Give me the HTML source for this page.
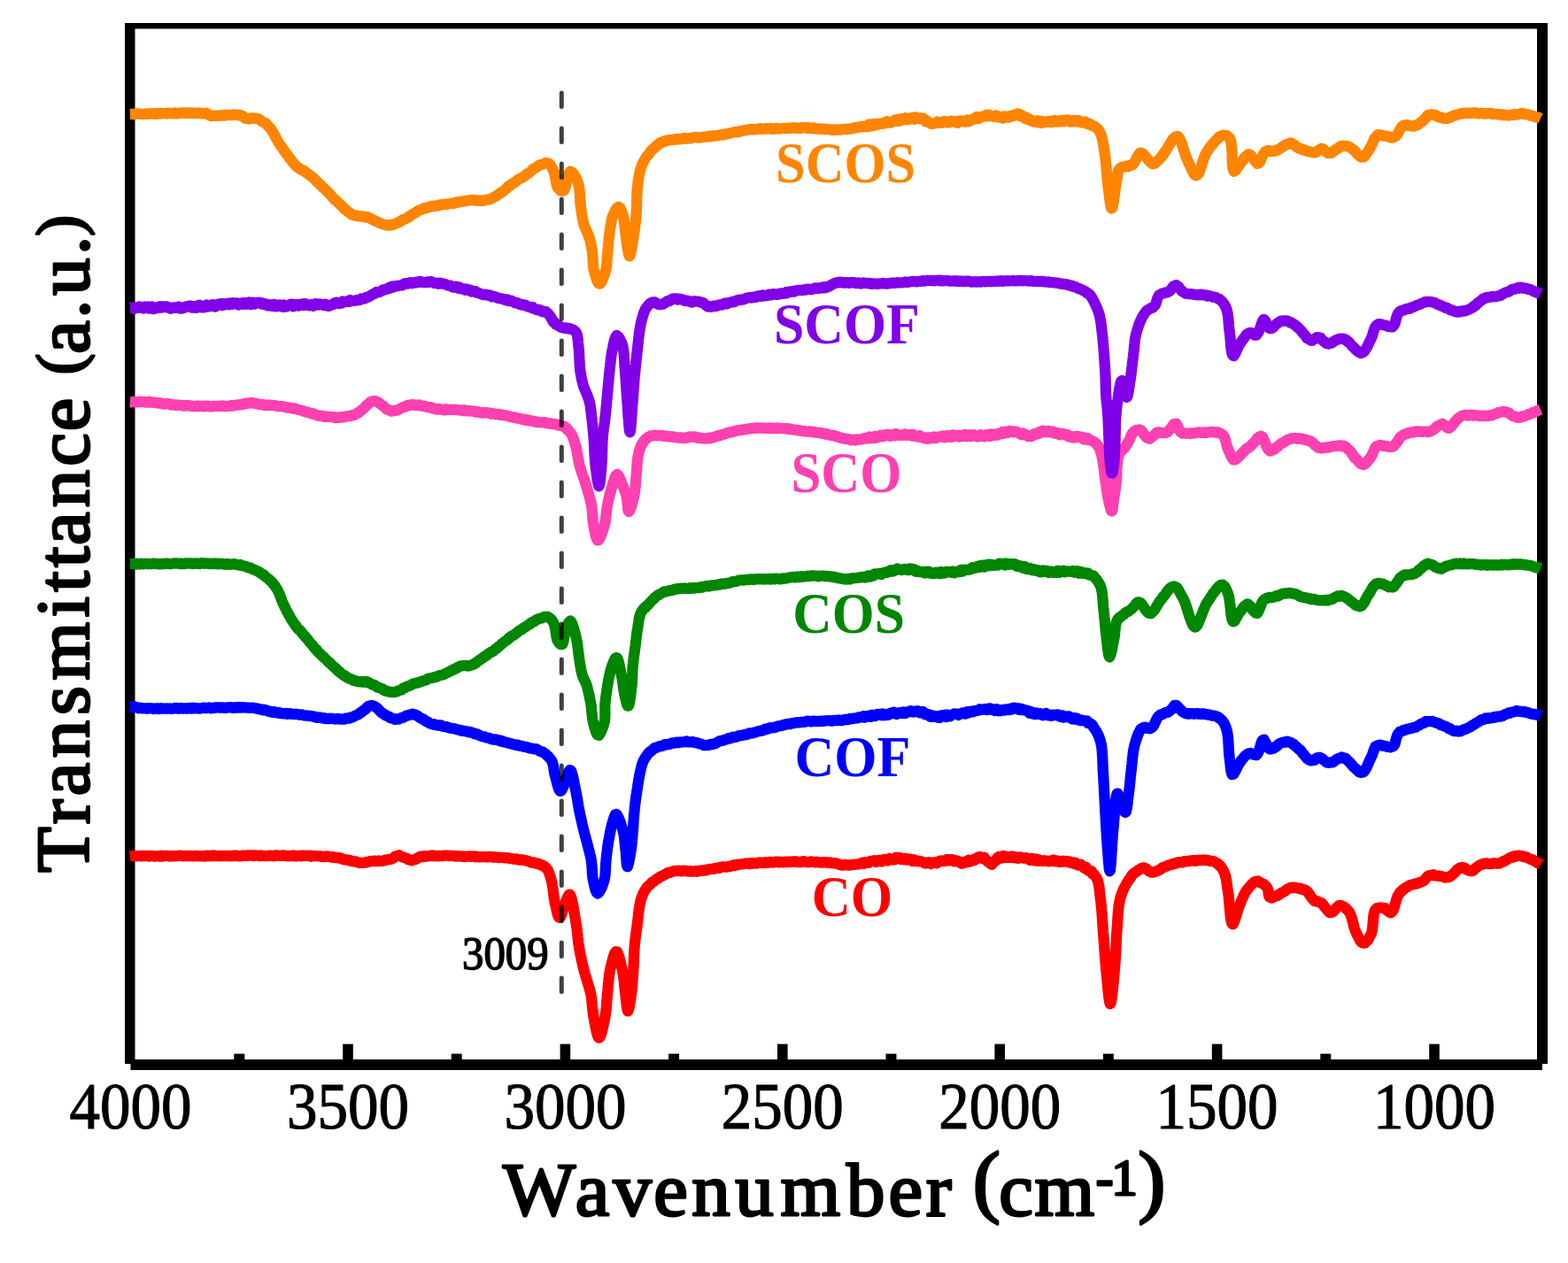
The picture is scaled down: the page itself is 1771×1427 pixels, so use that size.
<!DOCTYPE html>
<html><head><meta charset="utf-8"><title>FTIR spectra</title>
<style>html,body{margin:0;padding:0;background:#fff;}body{width:1771px;height:1427px;overflow:hidden;}svg{display:block;}</style>
</head><body>
<svg width="1771" height="1427" viewBox="0 0 1771 1427">
<rect x="141" y="26" width="1607" height="6.5" fill="#000"/>
<rect x="141" y="26" width="11.5" height="1176" fill="#000"/>
<rect x="1736" y="26" width="12" height="1176" fill="#000"/>
<rect x="147.5" y="1197" width="1594.5" height="12" fill="#000"/>
<rect x="387.2" y="1179.6" width="11.6" height="20" fill="#000"/>
<rect x="632.6" y="1179.6" width="11.6" height="20" fill="#000"/>
<rect x="878.0" y="1179.6" width="11.6" height="20" fill="#000"/>
<rect x="1123.4" y="1179.6" width="11.6" height="20" fill="#000"/>
<rect x="1368.8" y="1179.6" width="11.6" height="20" fill="#000"/>
<rect x="1614.2" y="1179.6" width="11.6" height="20" fill="#000"/>
<rect x="264.3" y="1190.6" width="12" height="10" fill="#000"/>
<rect x="509.7" y="1190.6" width="12" height="10" fill="#000"/>
<rect x="755.1" y="1190.6" width="12" height="10" fill="#000"/>
<rect x="1000.5" y="1190.6" width="12" height="10" fill="#000"/>
<rect x="1245.9" y="1190.6" width="12" height="10" fill="#000"/>
<rect x="1491.3" y="1190.6" width="12" height="10" fill="#000"/>
<polyline points="146.8,967.3 148.3,967.1 149.8,967.0 151.3,967.4 152.9,966.9 154.4,967.3 156.0,967.2 157.5,966.9 159.1,967.3 160.7,966.8 162.3,967.2 163.9,966.9 165.5,966.9 167.1,967.2 168.7,967.6 170.3,966.9 172.0,967.0 173.6,967.4 175.2,967.7 176.9,967.3 178.5,967.1 180.2,967.7 181.9,966.8 183.6,967.6 185.2,967.0 186.9,966.9 188.6,966.8 190.3,967.0 192.0,967.5 193.7,966.9 195.4,967.3 197.1,967.3 198.8,967.0 200.5,967.2 202.2,966.7 204.0,966.7 205.7,966.8 207.4,967.3 209.1,967.0 210.9,966.9 212.6,967.2 214.3,967.1 216.1,966.9 217.8,967.4 219.5,967.3 221.3,966.8 223.0,967.1 224.7,967.1 226.5,967.4 228.2,967.3 229.9,966.8 231.7,967.5 233.4,966.6 235.1,966.9 236.8,967.3 238.6,966.6 240.3,967.0 242.0,966.5 243.7,967.1 245.4,967.2 247.2,967.0 248.9,967.3 250.6,966.8 252.3,967.1 254.0,967.0 255.7,967.0 257.4,966.9 259.0,967.2 260.7,967.3 262.4,966.9 264.1,967.1 265.7,966.4 267.4,967.1 269.0,967.0 270.7,967.4 272.3,967.2 274.0,966.6 275.6,966.7 277.2,967.0 278.8,966.4 280.4,966.8 282.0,966.5 283.6,966.5 285.2,966.4 286.8,967.1 288.3,966.5 289.9,966.6 291.4,966.7 293.0,967.2 294.5,966.4 296.0,966.8 297.5,966.9 299.0,967.2 300.5,967.1 302.0,967.2 303.5,966.6 304.9,966.7 306.4,966.7 307.8,967.2 309.2,967.3 310.6,966.5 312.0,966.5 313.4,966.6 314.8,966.6 316.1,966.8 317.5,966.9 318.8,966.6 320.1,966.4 321.4,966.8 322.7,966.8 324.0,967.0 325.3,967.4 326.5,967.1 327.7,966.9 329.0,967.0 330.2,967.1 331.4,966.5 332.5,967.4 333.7,967.2 334.8,967.4 335.9,967.3 337.0,966.9 338.1,966.9 339.2,966.6 340.3,967.2 341.3,966.6 342.3,966.6 343.3,966.8 344.3,966.8 345.3,967.0 346.2,966.7 347.1,966.7 348.1,966.8 348.9,966.8 349.8,967.1 350.7,966.8 351.5,967.7 352.3,967.4 354.4,967.0 356.5,967.2 358.4,967.3 360.2,967.4 361.9,967.2 363.5,968.0 365.0,968.2 366.5,967.7 367.9,967.8 369.3,967.5 370.6,967.6 371.9,967.9 373.1,968.0 374.4,968.6 375.6,968.1 376.9,968.1 378.1,969.2 379.4,968.9 381.2,968.8 382.9,969.5 384.5,969.3 386.1,970.2 387.6,971.0 389.2,971.3 390.7,971.5 392.2,971.4 393.7,971.9 395.2,972.0 396.7,972.9 398.3,973.0 399.8,973.5 401.3,973.4 402.7,973.6 404.2,974.4 405.7,974.8 407.2,974.8 408.8,974.8 410.3,974.8 411.9,974.7 413.4,974.0 415.0,974.1 416.6,973.7 418.2,973.1 419.8,972.9 421.4,972.9 423.0,972.7 424.6,972.9 426.2,973.0 427.8,972.4 429.5,972.8 431.2,972.8 432.8,972.6 434.4,971.9 436.0,971.6 437.6,971.4 439.0,971.1 440.4,970.8 442.1,970.6 443.5,969.9 444.9,968.9 446.3,967.6 447.8,967.1 449.4,966.9 450.7,966.2 452.0,967.1 453.4,967.8 454.9,968.3 456.4,969.0 457.9,969.4 459.5,969.9 461.0,971.1 462.4,971.2 463.8,972.0 465.2,972.3 466.8,971.5 468.3,971.0 469.7,970.9 471.1,970.0 472.6,968.7 474.4,967.9 476.5,967.5 477.4,968.1 478.4,967.8 479.5,967.1 480.6,967.6 481.8,967.7 483.0,967.3 484.3,966.9 485.6,967.0 487.0,966.6 488.4,966.4 489.9,967.3 491.4,967.0 493.0,966.9 494.5,967.3 496.2,966.8 497.8,967.2 499.4,967.2 501.1,966.6 502.8,966.7 504.5,966.7 506.2,966.7 508.0,967.1 509.7,966.8 511.5,967.0 513.2,966.8 514.9,967.6 516.7,967.1 518.4,967.3 520.1,967.5 521.8,967.8 523.4,967.4 525.1,968.0 526.7,967.6 528.3,967.7 529.9,967.7 531.4,967.3 532.9,967.8 534.4,967.5 535.8,967.4 537.2,968.2 538.5,967.6 539.8,968.0 541.6,968.3 543.3,968.1 544.9,967.9 546.6,968.1 548.2,968.2 549.7,968.4 551.3,967.8 552.8,968.3 554.3,968.0 555.8,968.1 557.3,968.6 558.7,968.4 560.1,968.5 561.6,968.7 563.0,969.0 564.4,968.6 565.8,968.8 567.3,968.8 568.7,968.9 570.1,969.3 571.6,969.2 573.2,969.4 574.8,969.5 576.4,970.2 578.1,970.1 579.7,970.5 581.3,970.8 582.9,970.4 584.5,970.9 586.1,971.6 587.7,971.7 589.2,971.3 590.8,971.6 592.3,972.2 593.8,972.1 595.2,972.6 596.6,972.8 598.0,973.7 599.4,974.2 601.2,974.7 602.9,974.4 604.6,975.4 606.3,975.7 608.0,975.6 609.6,976.9 611.1,977.5 612.6,977.3 613.9,978.7 615.2,979.0 616.3,980.0 617.3,981.5 618.2,982.5 618.9,983.4 619.5,984.7 620.1,986.1 620.6,987.6 621.1,989.1 621.6,990.6 622.0,992.3 622.5,993.9 622.9,995.2 623.2,996.6 623.5,998.0 623.8,999.6 624.0,1001.1 624.3,1002.7 624.5,1004.4 624.7,1006.0 624.9,1007.7 625.2,1009.4 625.4,1011.0 625.6,1012.7 625.8,1014.3 626.0,1015.9 626.3,1017.4 626.5,1018.9 626.8,1020.4 627.1,1021.7 627.5,1023.6 628.0,1025.6 628.5,1027.6 628.9,1029.6 629.4,1031.5 629.9,1033.3 630.4,1034.8 630.9,1036.0 631.5,1036.9 632.0,1036.9 632.5,1036.3 633.1,1035.9 633.7,1034.6 634.3,1033.0 634.9,1031.1 635.5,1029.1 636.1,1027.0 636.7,1025.1 637.3,1023.2 637.9,1021.7 638.7,1019.9 639.4,1017.8 640.2,1015.8 641.0,1013.9 641.8,1012.3 642.6,1011.1 643.3,1010.6 643.7,1010.8 644.1,1011.1 644.4,1012.2 644.8,1013.1 645.2,1014.2 645.5,1015.4 645.9,1016.7 646.3,1018.3 646.6,1019.9 647.0,1021.6 647.3,1023.4 647.7,1025.3 648.0,1027.2 648.3,1029.1 648.6,1031.1 648.9,1033.0 649.2,1034.9 649.5,1036.8 649.8,1038.5 650.1,1040.2 650.3,1041.8 650.6,1043.3 650.9,1044.9 651.1,1046.6 651.4,1048.2 651.6,1049.8 651.8,1051.4 651.9,1053.0 652.1,1054.5 652.3,1056.1 652.5,1057.7 652.6,1059.2 652.8,1060.8 653.0,1062.3 653.1,1063.9 653.3,1065.4 653.5,1066.9 653.8,1068.5 654.0,1070.0 654.3,1071.6 654.5,1073.1 654.8,1074.7 655.1,1076.3 655.4,1077.8 655.7,1079.4 656.1,1081.0 656.4,1082.5 656.7,1084.0 657.0,1085.5 657.4,1087.0 657.7,1088.5 658.0,1089.9 658.4,1091.3 658.7,1092.7 659.0,1094.0 659.4,1095.7 659.9,1097.4 660.3,1098.9 660.8,1100.5 661.2,1102.0 661.7,1103.4 662.1,1104.9 662.5,1106.4 663.0,1108.0 663.4,1109.5 663.9,1110.9 664.3,1112.4 664.8,1113.8 665.2,1115.3 665.7,1116.8 666.1,1118.3 666.5,1119.9 666.9,1121.5 667.3,1123.2 667.6,1124.6 667.8,1126.0 668.0,1127.5 668.2,1129.0 668.4,1130.5 668.5,1132.1 668.7,1133.7 668.8,1135.4 669.0,1137.0 669.1,1138.6 669.3,1140.3 669.5,1141.9 669.7,1143.5 669.9,1145.2 670.1,1146.7 670.3,1148.3 670.6,1149.8 670.9,1151.5 671.3,1153.3 671.6,1155.2 672.0,1157.2 672.4,1159.2 672.8,1161.2 673.2,1163.2 673.6,1165.0 674.0,1166.8 674.4,1168.4 674.9,1169.7 675.3,1170.9 675.7,1171.8 676.2,1172.6 676.6,1172.6 677.0,1172.4 677.5,1171.8 678.0,1170.9 678.4,1169.8 678.9,1168.4 679.4,1166.8 679.9,1165.1 680.4,1163.2 680.9,1161.2 681.3,1159.2 681.8,1157.2 682.2,1155.2 682.6,1153.3 683.0,1151.5 683.3,1149.8 683.6,1148.3 683.8,1146.8 684.0,1145.3 684.2,1143.7 684.4,1142.2 684.6,1140.6 684.7,1139.0 684.9,1137.4 685.0,1135.9 685.1,1134.3 685.2,1132.7 685.3,1131.1 685.4,1129.5 685.6,1127.9 685.7,1126.3 685.8,1124.8 686.0,1123.2 686.2,1121.6 686.3,1120.0 686.5,1118.5 686.6,1116.9 686.7,1115.3 686.8,1113.7 687.0,1112.1 687.1,1110.5 687.3,1108.9 687.4,1107.3 687.6,1105.7 687.8,1104.2 688.0,1102.6 688.2,1101.1 688.4,1099.6 688.7,1098.1 689.0,1096.6 689.3,1095.0 689.7,1093.2 690.1,1091.4 690.6,1089.5 691.0,1087.6 691.5,1085.7 692.0,1083.8 692.5,1082.1 693.0,1080.4 693.5,1078.9 694.0,1077.6 694.5,1076.5 695.0,1076.0 695.5,1075.2 696.0,1075.4 696.5,1075.4 697.0,1075.4 697.5,1076.5 698.0,1077.6 698.5,1079.0 699.0,1080.5 699.5,1082.1 700.0,1083.9 700.5,1085.8 701.0,1087.7 701.4,1089.6 701.9,1091.5 702.3,1093.3 702.7,1095.0 703.0,1096.6 703.3,1098.1 703.6,1099.7 703.9,1101.2 704.1,1102.8 704.3,1104.3 704.5,1105.9 704.7,1107.5 704.8,1109.0 705.0,1110.6 705.1,1112.2 705.3,1113.8 705.4,1115.3 705.6,1116.9 705.8,1118.5 706.0,1120.0 706.2,1121.7 706.4,1123.6 706.7,1125.6 706.9,1127.6 707.1,1129.7 707.3,1131.8 707.5,1133.8 707.7,1135.7 708.0,1137.4 708.2,1138.9 708.4,1140.2 708.7,1141.2 708.9,1141.8 709.2,1142.4 709.5,1141.8 709.8,1141.1 710.1,1140.0 710.5,1138.7 710.8,1137.0 711.2,1135.2 711.5,1133.2 711.8,1131.1 712.2,1129.0 712.5,1127.0 712.7,1125.0 713.0,1123.2 713.2,1121.8 713.4,1120.3 713.6,1118.8 713.7,1117.3 713.9,1115.7 714.0,1114.2 714.2,1112.6 714.3,1111.0 714.4,1109.4 714.5,1107.8 714.7,1106.2 714.8,1104.6 714.9,1103.0 715.0,1101.4 715.1,1099.8 715.2,1098.2 715.3,1096.6 715.4,1095.0 715.5,1093.5 715.6,1091.9 715.6,1090.3 715.7,1088.8 715.8,1087.2 715.8,1085.6 715.9,1084.1 715.9,1082.5 716.0,1081.0 716.0,1079.4 716.1,1077.8 716.2,1076.3 716.3,1074.7 716.4,1073.1 716.5,1071.6 716.6,1070.0 716.7,1068.4 716.9,1066.9 717.1,1065.3 717.2,1063.7 717.4,1062.1 717.6,1060.6 717.8,1059.0 718.0,1057.4 718.2,1055.9 718.4,1054.3 718.6,1052.7 718.8,1051.1 719.0,1049.6 719.3,1048.0 719.5,1046.4 719.7,1044.9 719.9,1043.3 720.1,1041.7 720.3,1040.1 720.5,1038.5 720.7,1036.8 720.9,1035.1 721.0,1033.5 721.2,1031.8 721.4,1030.1 721.6,1028.5 721.8,1026.9 722.1,1025.3 722.3,1023.7 722.6,1022.2 722.9,1020.7 723.2,1019.3 723.5,1017.9 723.9,1016.6 724.5,1014.9 725.0,1013.2 725.6,1011.6 726.2,1010.1 726.9,1008.7 727.6,1007.3 728.5,1005.9 729.4,1004.7 730.4,1003.0 731.3,1001.8 732.3,1000.8 733.4,1000.1 734.5,999.2 735.7,997.5 736.9,996.5 738.2,996.0 739.4,995.1 740.7,994.0 742.0,992.9 743.3,992.5 744.6,991.1 745.8,990.6 747.2,989.9 748.5,989.7 749.9,988.6 751.2,988.1 752.5,987.1 753.9,986.2 755.3,985.7 756.8,985.9 758.4,985.2 760.0,984.4 761.3,983.9 762.6,984.2 764.0,984.2 765.4,983.9 766.8,983.7 768.3,984.1 769.8,984.4 771.4,983.7 772.9,983.6 774.5,984.0 776.1,984.1 777.7,984.5 779.2,984.0 780.8,984.7 782.4,984.6 784.0,984.4 785.5,984.0 787.0,984.7 788.5,983.9 790.0,984.2 791.5,983.5 793.0,983.3 794.5,983.6 796.0,982.9 797.5,983.4 799.0,982.7 800.5,982.1 802.0,981.9 803.5,981.8 805.0,981.8 806.5,981.9 808.0,980.8 809.5,980.8 811.0,980.4 812.5,980.9 814.0,979.8 815.5,979.5 816.9,979.3 818.4,979.4 819.8,979.7 821.2,979.4 822.6,979.0 824.1,979.0 825.5,978.7 826.9,977.9 828.3,977.5 829.8,978.0 831.3,977.6 832.8,976.6 834.4,977.0 835.9,976.5 837.6,976.3 839.3,976.1 841.0,975.8 842.3,975.5 843.6,975.6 844.9,975.6 846.3,976.1 847.7,975.2 849.1,975.9 850.5,975.0 852.0,975.1 853.5,975.5 855.0,975.4 856.5,974.9 858.0,974.4 859.6,974.8 861.2,974.6 862.8,975.0 864.4,974.2 866.0,974.3 867.6,974.8 869.2,973.9 870.8,974.2 872.4,974.5 874.0,974.4 875.6,973.7 877.2,973.6 878.8,973.6 880.4,974.4 882.0,973.7 883.6,974.1 885.1,974.3 886.7,973.7 888.2,973.6 889.7,974.2 891.2,973.9 892.6,973.5 894.1,973.9 895.5,973.5 897.1,973.5 898.7,973.2 900.3,973.9 902.0,974.1 903.6,973.8 905.2,974.1 906.8,973.2 908.4,973.4 910.0,973.7 911.5,974.2 913.1,974.2 914.7,973.6 916.2,973.5 917.8,973.8 919.3,973.9 920.8,974.3 922.3,973.6 923.7,974.3 925.2,974.3 926.6,974.5 928.0,974.5 929.4,974.4 930.8,974.2 932.1,974.2 933.5,974.4 934.7,974.9 936.0,974.3 937.8,974.6 939.5,975.3 941.2,975.1 942.8,975.2 944.4,975.4 945.9,976.2 947.4,976.3 948.9,977.2 950.4,977.4 951.9,977.7 953.4,977.1 954.9,977.0 956.5,977.1 958.1,977.5 959.6,977.6 961.2,977.2 962.8,976.8 964.3,976.8 965.9,976.7 967.5,976.5 969.0,976.3 970.6,976.1 972.2,975.6 973.8,974.8 975.4,975.8 977.0,974.2 978.5,974.7 980.0,973.9 981.5,974.7 983.1,973.0 984.6,972.9 986.2,972.7 987.7,972.2 989.3,973.9 990.8,972.9 992.4,972.0 993.9,972.0 995.5,973.3 997.0,971.9 998.5,971.0 1000.0,972.3 1001.6,971.7 1003.1,972.4 1004.6,969.9 1006.1,970.7 1007.6,971.4 1009.1,971.3 1010.6,971.3 1012.1,968.9 1013.6,969.5 1015.1,969.0 1016.7,969.1 1018.3,971.2 1020.0,970.2 1021.4,971.2 1022.8,969.9 1024.2,971.4 1025.7,970.6 1027.2,970.4 1028.7,972.1 1030.2,972.9 1031.7,971.1 1033.3,972.7 1034.8,973.2 1036.4,972.5 1037.9,973.3 1039.5,973.1 1041.0,973.6 1042.6,974.0 1044.1,975.2 1045.6,975.5 1047.1,974.6 1048.6,974.2 1050.0,975.1 1051.6,975.9 1053.2,974.5 1054.8,974.7 1056.5,974.2 1058.1,975.4 1059.7,974.4 1061.3,972.8 1062.9,972.5 1064.4,972.9 1066.0,973.0 1067.5,972.9 1068.9,971.2 1070.4,971.1 1071.8,972.3 1073.2,971.5 1074.5,971.1 1076.2,971.3 1077.7,973.3 1079.2,972.0 1080.6,973.1 1082.0,973.0 1083.4,973.6 1084.9,975.1 1086.4,975.7 1088.0,974.1 1089.3,973.6 1090.8,974.7 1092.2,973.0 1093.8,972.0 1095.3,973.8 1096.9,972.0 1098.5,972.4 1100.2,970.7 1101.7,971.4 1103.3,969.8 1104.8,968.6 1106.2,967.9 1107.6,969.0 1108.8,969.2 1110.0,970.1 1111.6,968.6 1113.0,971.1 1114.2,971.8 1115.4,973.5 1116.6,973.8 1117.8,975.1 1119.0,976.1 1120.2,976.8 1121.4,973.8 1122.6,973.6 1123.8,973.1 1125.1,972.2 1126.5,969.0 1128.0,968.0 1129.2,969.8 1130.5,969.6 1131.9,968.1 1133.3,966.9 1134.7,969.1 1136.3,967.7 1137.8,969.1 1139.4,968.5 1141.0,969.1 1142.7,967.5 1144.3,969.2 1146.0,967.9 1147.3,968.4 1148.7,969.7 1150.1,969.8 1151.5,968.3 1153.0,968.5 1154.5,969.2 1156.0,969.7 1157.5,969.6 1159.1,969.1 1160.6,969.7 1162.2,971.2 1163.7,971.9 1165.3,969.9 1166.9,971.4 1168.4,972.2 1170.0,970.5 1171.5,972.8 1173.0,971.1 1174.5,972.5 1176.0,972.5 1177.5,972.9 1179.1,972.1 1180.6,972.5 1182.2,973.0 1183.7,972.6 1185.2,973.3 1186.8,972.7 1188.3,972.7 1189.8,971.7 1191.3,973.3 1192.9,973.0 1194.3,972.4 1195.8,973.8 1197.3,973.9 1198.7,973.2 1200.2,972.6 1201.6,973.5 1203.0,972.8 1204.6,973.1 1206.2,974.1 1207.7,973.5 1209.3,974.7 1210.8,975.2 1212.3,974.3 1213.8,976.2 1215.3,975.1 1216.8,977.2 1218.2,977.7 1219.6,977.5 1221.0,976.9 1222.3,978.6 1223.6,978.9 1225.0,981.1 1226.4,979.7 1227.7,982.4 1229.1,983.6 1230.4,983.7 1231.6,984.9 1232.8,984.2 1234.0,987.3 1235.1,987.1 1236.1,988.7 1237.0,989.9 1237.9,990.8 1238.5,992.0 1239.1,993.2 1239.6,994.4 1240.0,995.8 1240.4,997.1 1240.7,998.6 1241.0,1000.0 1241.3,1001.5 1241.5,1003.1 1241.7,1004.6 1241.9,1006.2 1242.1,1007.8 1242.2,1009.5 1242.4,1011.2 1242.6,1012.8 1242.8,1014.5 1243.0,1016.2 1243.2,1017.5 1243.4,1018.9 1243.5,1020.3 1243.7,1021.7 1243.8,1023.1 1244.0,1024.6 1244.1,1026.0 1244.2,1027.5 1244.4,1029.0 1244.5,1030.5 1244.6,1032.1 1244.7,1033.6 1244.8,1035.2 1244.9,1036.7 1245.0,1038.3 1245.1,1039.9 1245.2,1041.4 1245.3,1043.0 1245.4,1044.6 1245.5,1046.2 1245.6,1047.7 1245.7,1049.3 1245.8,1050.9 1245.9,1052.4 1246.1,1054.0 1246.2,1055.5 1246.3,1057.1 1246.4,1058.6 1246.5,1060.1 1246.6,1061.6 1246.8,1063.2 1246.9,1064.7 1247.0,1066.2 1247.1,1067.8 1247.2,1069.3 1247.3,1070.8 1247.4,1072.4 1247.6,1073.9 1247.7,1075.5 1247.8,1077.0 1247.9,1078.5 1248.0,1080.1 1248.1,1081.6 1248.2,1083.1 1248.4,1084.7 1248.5,1086.2 1248.6,1087.7 1248.7,1089.2 1248.9,1090.7 1249.0,1092.2 1249.1,1093.7 1249.2,1095.1 1249.4,1096.6 1249.5,1098.0 1249.7,1099.5 1249.8,1100.9 1250.0,1102.6 1250.1,1104.3 1250.3,1106.2 1250.5,1108.1 1250.7,1110.0 1250.9,1112.0 1251.0,1114.0 1251.2,1116.0 1251.4,1118.0 1251.6,1120.0 1251.8,1121.8 1252.0,1123.7 1252.2,1125.4 1252.4,1127.0 1252.6,1128.5 1252.8,1129.9 1253.0,1131.1 1253.2,1132.1 1253.4,1132.9 1253.6,1133.5 1253.8,1134.3 1254.0,1133.5 1254.2,1133.9 1254.4,1133.6 1254.6,1133.0 1254.8,1132.3 1255.0,1131.4 1255.2,1130.4 1255.4,1129.2 1255.6,1127.8 1255.8,1126.3 1256.0,1124.7 1256.2,1123.1 1256.4,1121.3 1256.6,1119.4 1256.8,1117.5 1257.0,1115.5 1257.2,1113.5 1257.4,1111.5 1257.6,1109.4 1257.8,1107.4 1258.0,1105.4 1258.1,1103.4 1258.3,1101.4 1258.5,1099.5 1258.6,1097.6 1258.8,1095.8 1259.0,1094.1 1259.1,1092.5 1259.2,1091.0 1259.4,1089.5 1259.5,1088.0 1259.6,1086.4 1259.7,1084.9 1259.8,1083.4 1259.9,1081.8 1260.0,1080.3 1260.1,1078.7 1260.1,1077.2 1260.2,1075.7 1260.3,1074.1 1260.4,1072.6 1260.4,1071.0 1260.5,1069.5 1260.6,1068.0 1260.6,1066.4 1260.7,1064.9 1260.8,1063.4 1260.9,1061.9 1260.9,1060.4 1261.0,1058.9 1261.1,1057.4 1261.2,1055.9 1261.3,1054.4 1261.4,1053.0 1261.5,1051.5 1261.6,1050.1 1261.7,1048.5 1261.8,1046.8 1262.0,1045.2 1262.1,1043.5 1262.2,1041.9 1262.3,1040.2 1262.4,1038.6 1262.5,1037.0 1262.6,1035.3 1262.7,1033.7 1262.8,1032.1 1262.9,1030.5 1263.1,1029.0 1263.2,1027.4 1263.4,1025.9 1263.6,1024.4 1263.7,1023.0 1264.0,1021.6 1264.2,1020.2 1264.4,1018.8 1264.7,1017.5 1265.0,1016.2 1265.4,1014.5 1265.9,1013.0 1266.4,1011.4 1266.9,1010.0 1267.4,1008.5 1267.9,1007.2 1268.5,1005.8 1269.1,1004.5 1269.7,1003.2 1270.4,1001.9 1271.1,1000.6 1271.8,999.3 1272.6,997.9 1273.4,996.6 1274.3,995.2 1275.1,993.8 1276.1,992.9 1277.0,991.6 1278.0,989.5 1278.9,988.4 1279.9,987.2 1281.0,986.2 1282.0,986.0 1283.4,984.9 1284.8,983.7 1286.3,982.9 1287.8,981.9 1289.2,981.0 1290.7,980.4 1292.1,980.3 1293.5,981.3 1294.8,981.7 1296.2,983.0 1297.5,984.2 1299.0,984.8 1300.6,985.5 1301.8,985.5 1303.0,985.7 1304.3,985.0 1305.6,984.4 1307.0,984.4 1308.4,983.2 1309.9,982.8 1311.4,981.8 1313.0,980.3 1314.5,979.9 1316.1,979.1 1317.7,978.7 1319.3,977.7 1320.9,977.5 1322.3,976.9 1323.7,976.2 1325.2,976.5 1326.6,975.4 1328.2,975.7 1329.7,974.7 1331.2,974.2 1332.8,974.1 1334.4,974.4 1336.0,974.3 1337.5,973.1 1339.1,973.3 1340.7,973.1 1342.2,973.2 1343.8,972.4 1345.3,972.5 1346.8,972.2 1348.3,972.6 1349.7,972.0 1351.4,972.6 1353.1,971.8 1354.8,971.7 1356.5,972.1 1358.2,971.9 1359.9,971.5 1361.6,972.1 1363.2,971.6 1364.8,972.5 1366.3,972.6 1367.8,972.9 1369.2,973.1 1370.6,973.2 1371.8,973.8 1373.3,974.5 1374.6,975.9 1375.9,976.0 1377.1,977.9 1378.2,978.1 1379.2,979.5 1380.1,980.9 1381.1,982.5 1381.9,984.0 1382.5,985.1 1383.0,986.4 1383.4,987.6 1383.8,989.0 1384.2,990.4 1384.5,991.8 1384.8,993.3 1385.1,994.8 1385.3,996.4 1385.6,998.0 1385.8,999.6 1386.0,1001.2 1386.2,1002.8 1386.5,1004.5 1386.7,1006.1 1387.0,1007.8 1387.2,1009.2 1387.5,1010.8 1387.7,1012.4 1387.9,1014.2 1388.0,1016.0 1388.2,1018.0 1388.4,1019.9 1388.6,1021.9 1388.7,1023.9 1388.9,1025.9 1389.1,1027.9 1389.3,1029.8 1389.4,1031.7 1389.6,1033.5 1389.8,1035.3 1390.0,1036.9 1390.2,1038.4 1390.4,1039.7 1390.7,1040.9 1390.9,1042.0 1391.2,1042.8 1391.5,1043.4 1391.8,1043.4 1392.1,1043.9 1392.5,1044.3 1393.0,1043.7 1393.4,1042.6 1393.9,1041.5 1394.4,1040.2 1395.0,1038.8 1395.5,1037.1 1396.0,1035.3 1396.6,1033.5 1397.2,1031.6 1397.7,1029.7 1398.3,1027.8 1398.9,1026.0 1399.5,1024.3 1400.0,1022.7 1400.6,1021.3 1401.3,1019.8 1401.9,1018.2 1402.5,1016.7 1403.2,1015.2 1403.8,1013.7 1404.5,1012.2 1405.2,1010.8 1405.9,1009.4 1406.6,1008.0 1407.4,1006.8 1408.2,1005.8 1409.0,1004.8 1410.1,1003.3 1411.3,1001.8 1412.6,1000.5 1413.8,999.1 1415.1,997.9 1416.5,996.8 1417.8,996.0 1419.2,996.0 1420.5,995.5 1421.9,996.2 1423.3,997.1 1424.8,997.8 1426.3,998.6 1427.6,999.2 1428.9,1000.4 1430.1,1001.6 1431.0,1002.8 1431.8,1004.2 1432.3,1006.0 1432.5,1008.0 1432.7,1010.0 1433.0,1011.7 1433.5,1013.1 1434.4,1013.9 1435.4,1014.2 1436.6,1014.6 1438.0,1013.3 1439.5,1013.2 1441.2,1012.1 1442.8,1011.9 1444.4,1011.1 1446.0,1009.8 1447.5,1008.6 1448.8,1008.4 1450.4,1007.4 1451.8,1006.5 1453.1,1005.3 1454.4,1004.4 1455.9,1003.8 1457.5,1003.0 1458.9,1002.7 1460.4,1003.2 1462.0,1002.6 1463.7,1003.2 1465.4,1003.2 1467.2,1003.9 1468.9,1003.7 1470.6,1005.1 1472.2,1005.0 1473.7,1005.4 1475.0,1006.3 1476.2,1007.3 1477.3,1008.0 1478.3,1009.7 1479.2,1011.1 1480.1,1012.4 1481.0,1013.6 1481.8,1014.8 1482.8,1015.8 1483.8,1017.2 1485.2,1018.2 1486.6,1018.4 1488.1,1018.5 1489.6,1019.5 1491.1,1019.6 1492.5,1020.2 1493.7,1021.1 1494.9,1023.0 1496.0,1024.5 1497.2,1025.9 1498.3,1027.3 1499.5,1028.8 1500.6,1029.6 1501.8,1031.1 1503.0,1030.9 1504.3,1030.9 1505.6,1030.2 1506.9,1028.9 1508.2,1027.1 1509.5,1025.5 1510.9,1024.4 1512.2,1023.1 1513.5,1023.4 1514.8,1023.1 1516.2,1024.1 1517.6,1024.4 1519.0,1025.5 1520.4,1026.6 1521.7,1028.1 1522.9,1029.2 1524.0,1030.5 1524.7,1032.1 1525.4,1033.4 1525.9,1034.8 1526.4,1036.3 1526.9,1037.8 1527.3,1039.4 1527.8,1041.1 1528.2,1042.7 1528.6,1044.4 1529.0,1046.0 1529.4,1047.6 1529.9,1049.2 1530.4,1050.6 1531.0,1052.0 1531.7,1053.5 1532.4,1055.1 1533.2,1056.8 1534.0,1058.5 1534.8,1060.1 1535.6,1061.7 1536.4,1063.0 1537.3,1064.4 1538.1,1064.9 1539.0,1065.3 1539.8,1065.6 1540.8,1065.6 1541.8,1065.6 1542.8,1064.3 1543.8,1062.9 1544.9,1062.3 1545.9,1060.4 1546.8,1058.7 1547.7,1057.1 1548.5,1055.5 1549.0,1054.3 1549.4,1052.9 1549.7,1051.3 1550.0,1049.7 1550.2,1047.9 1550.4,1046.1 1550.6,1044.2 1550.7,1042.3 1550.9,1040.4 1551.0,1038.6 1551.2,1036.8 1551.4,1035.0 1551.6,1033.4 1551.9,1031.9 1552.3,1030.5 1552.7,1029.3 1553.2,1028.3 1553.8,1027.5 1555.3,1026.1 1557.0,1025.8 1558.9,1025.5 1560.7,1025.6 1562.5,1026.2 1564.0,1025.9 1565.6,1027.9 1567.1,1028.9 1568.6,1030.2 1570.0,1031.1 1571.3,1031.3 1572.0,1030.5 1572.7,1029.8 1573.3,1028.8 1573.9,1027.6 1574.4,1026.1 1574.9,1024.6 1575.4,1022.8 1575.9,1021.1 1576.4,1019.3 1576.9,1017.5 1577.4,1015.7 1578.0,1014.0 1578.6,1012.5 1579.3,1011.2 1580.0,1010.4 1581.0,1008.3 1582.0,1007.8 1583.1,1006.6 1584.2,1005.3 1585.4,1004.9 1586.6,1003.5 1587.9,1002.8 1589.2,1002.1 1590.5,1001.6 1591.8,1000.4 1593.2,1000.0 1594.6,999.5 1596.2,999.2 1597.7,999.1 1599.3,998.2 1600.8,998.3 1602.3,997.5 1603.7,997.1 1605.1,996.4 1606.3,996.0 1607.7,995.5 1608.9,994.1 1610.0,993.1 1611.1,991.5 1612.2,990.4 1613.5,989.5 1615.0,989.1 1616.2,988.9 1617.5,989.0 1618.9,988.3 1620.4,989.2 1622.0,989.6 1623.6,989.6 1625.2,989.5 1626.9,990.1 1628.5,990.2 1630.1,990.6 1631.7,991.5 1633.2,991.3 1634.7,991.2 1636.0,991.1 1637.5,990.6 1638.8,989.5 1640.2,988.5 1641.4,987.3 1642.7,986.1 1643.9,984.8 1645.1,983.6 1646.3,982.1 1647.5,981.6 1648.7,980.7 1650.0,980.6 1651.5,979.9 1653.1,980.3 1654.7,980.8 1656.2,982.3 1657.8,983.2 1659.3,983.6 1660.8,983.7 1662.3,984.1 1663.7,983.7 1664.9,982.7 1666.1,981.5 1667.3,980.4 1668.6,979.4 1669.9,978.3 1671.3,977.4 1672.8,976.9 1674.0,976.9 1675.4,975.7 1676.8,976.1 1678.2,975.4 1679.7,975.4 1681.3,976.1 1682.9,975.9 1684.5,976.2 1686.1,975.7 1687.7,975.2 1689.3,975.5 1690.8,975.6 1692.3,975.7 1693.8,975.5 1695.3,974.5 1696.9,973.9 1698.4,972.9 1699.9,972.8 1701.4,971.6 1702.9,970.7 1704.4,969.8 1705.9,969.0 1707.3,969.0 1708.8,967.8 1710.2,968.2 1711.6,966.9 1713.0,967.5 1714.6,966.6 1716.3,966.6 1717.8,967.4 1719.4,967.2 1721.0,968.1 1722.5,968.0 1724.0,968.3 1725.5,969.5 1727.0,970.0 1728.5,970.7 1730.0,971.3 1731.4,971.4 1732.9,972.7 1734.3,973.7 1735.7,974.3 1737.1,975.6 1738.6,975.8 1740.0,976.8" fill="none" stroke="#FF0000" stroke-width="12.3" stroke-linejoin="round" stroke-linecap="butt"/>
<polyline points="146.8,797.9 148.2,797.9 149.6,798.9 151.0,798.3 152.3,799.2 153.7,798.9 155.1,799.3 156.7,800.3 158.4,799.7 160.3,800.3 161.3,800.2 162.4,800.3 163.5,800.4 164.7,800.2 165.9,800.8 167.1,800.1 168.4,800.3 169.7,800.1 171.1,800.4 172.5,800.5 173.9,801.1 175.4,800.5 176.9,800.3 178.4,800.4 179.9,801.1 181.5,800.2 183.0,800.7 184.6,800.5 186.3,800.7 187.9,800.4 189.5,800.7 191.2,800.5 192.8,800.6 194.5,800.8 196.2,800.5 197.9,800.0 199.5,799.9 201.2,800.8 202.9,800.3 204.6,800.0 206.3,800.7 207.9,800.3 209.6,800.4 211.2,800.6 212.9,800.0 214.5,800.1 215.9,800.6 217.3,799.8 218.8,800.4 220.3,799.8 221.8,800.3 223.3,800.3 224.9,800.6 226.4,800.4 228.0,800.1 229.6,799.7 231.2,799.6 232.8,800.0 234.4,799.9 236.1,799.5 237.7,800.3 239.4,799.8 241.0,800.0 242.7,799.5 244.3,799.5 246.0,799.2 247.6,799.5 249.3,799.4 250.9,799.5 252.6,799.4 254.2,799.9 255.8,799.9 257.5,799.2 259.1,799.4 260.7,799.1 262.3,799.6 263.8,799.9 265.4,799.1 266.9,799.7 268.4,799.3 269.9,799.0 271.4,799.7 272.8,799.3 274.3,799.2 275.6,799.5 277.0,799.3 278.4,799.6 279.7,799.7 280.9,799.7 282.2,799.9 283.4,799.7 284.6,799.6 285.7,799.7 286.8,799.8 288.7,800.4 290.4,800.5 292.1,801.2 293.6,801.2 295.1,801.7 296.6,802.3 297.9,801.7 299.3,802.0 300.6,802.5 302.0,803.1 303.4,803.6 304.8,804.1 306.2,804.0 307.8,804.9 309.4,804.2 310.8,805.2 312.2,804.8 313.7,805.6 315.2,805.0 316.8,806.1 318.3,806.0 319.9,806.4 321.5,806.1 323.1,805.9 324.7,806.8 326.3,806.4 328.0,806.2 329.6,806.9 331.2,806.9 332.8,807.0 334.4,806.8 335.9,806.9 337.5,807.5 339.0,807.6 340.5,807.4 341.9,807.9 343.3,808.3 344.9,808.5 346.5,808.5 348.1,808.7 349.6,808.9 351.1,809.0 352.6,809.3 354.0,809.8 355.5,809.7 356.9,810.6 358.4,810.8 359.8,810.9 361.3,810.5 362.8,811.1 364.3,811.3 365.9,811.1 367.4,812.1 368.9,812.0 370.4,811.8 371.9,812.1 373.5,811.7 375.1,811.8 376.7,812.2 378.3,812.5 379.9,812.4 381.5,811.8 383.1,812.4 384.6,812.7 386.1,812.5 387.6,812.6 389.0,812.5 390.4,811.6 391.7,811.5 393.0,811.5 394.7,811.6 396.4,810.5 397.9,810.5 399.4,809.8 400.8,808.8 402.2,808.2 403.6,807.8 405.1,806.9 406.5,805.6 407.9,805.3 409.3,803.6 410.6,802.6 412.0,802.0 413.4,800.7 414.7,799.0 416.1,798.0 417.4,797.6 418.8,797.3 420.1,797.0 421.3,797.4 422.6,797.8 423.8,798.6 425.0,799.4 426.2,800.2 427.4,801.5 428.6,802.8 429.8,804.0 431.1,805.5 432.3,805.9 433.6,806.6 435.1,808.1 436.6,808.5 438.1,809.4 439.6,809.9 441.1,811.4 442.6,811.4 444.2,811.9 445.7,812.8 447.2,812.6 448.7,812.3 450.3,812.6 451.9,811.6 453.4,811.0 455.0,810.9 456.5,810.0 458.0,809.3 459.4,808.3 460.7,808.4 462.5,807.7 464.1,807.5 465.7,806.7 467.5,807.3 468.6,807.6 469.8,807.7 471.1,808.6 472.5,809.5 473.9,810.6 475.3,811.4 476.8,812.3 478.3,812.6 479.8,814.1 481.3,815.1 482.7,815.3 484.2,816.5 485.6,817.5 487.2,818.0 488.7,818.5 490.3,818.1 491.8,818.9 493.3,819.4 494.9,819.5 496.5,819.4 498.1,819.4 499.7,820.6 501.4,820.9 502.8,821.0 504.3,821.1 505.9,821.9 507.5,822.4 509.2,822.7 510.8,823.0 512.5,823.2 514.2,823.6 515.8,824.1 517.4,824.5 518.9,825.0 520.3,825.0 521.7,825.9 522.9,825.8 524.0,825.9 525.7,826.2 527.1,826.5 528.4,826.6 530.0,827.3 531.2,826.9 532.4,827.4 533.7,827.9 535.1,828.2 536.5,829.3 538.0,829.2 539.5,829.7 541.1,830.7 542.7,831.4 544.4,832.0 546.0,832.3 547.3,832.4 548.7,833.3 550.1,833.6 551.6,833.7 553.1,834.2 554.6,834.9 556.2,835.4 557.8,835.7 559.4,835.3 560.9,835.9 562.5,836.4 564.1,836.5 565.7,837.5 567.2,837.1 568.7,838.3 570.2,838.4 571.6,838.8 573.0,838.9 574.7,839.8 576.3,839.9 577.9,840.6 579.5,841.0 581.0,841.1 582.6,841.8 584.1,841.6 585.6,841.9 587.1,842.7 588.6,842.8 590.2,842.9 591.7,843.7 593.2,843.8 594.8,843.8 596.4,844.9 598.0,844.9 599.6,845.7 601.2,845.6 602.7,846.3 604.3,846.1 605.8,846.4 607.2,847.2 608.6,848.0 610.0,848.7 611.5,849.3 612.9,849.6 614.3,850.7 615.7,851.3 617.0,852.6 618.3,854.2 619.5,854.7 620.6,856.3 621.6,857.4 622.5,858.6 623.2,859.9 623.8,861.2 624.3,862.7 624.7,864.2 625.0,865.8 625.3,867.4 625.6,869.1 625.8,870.7 626.1,872.4 626.4,874.0 626.7,875.6 627.1,877.1 627.6,878.8 628.1,880.7 628.6,882.7 629.1,884.7 629.7,886.7 630.2,888.6 630.8,890.3 631.3,891.8 631.9,892.9 632.4,893.6 633.0,893.8 633.8,893.5 634.6,892.4 635.4,890.7 636.3,888.8 637.1,886.7 637.9,884.8 638.5,883.3 639.1,881.6 639.8,879.7 640.4,877.7 641.0,875.7 641.6,873.9 642.2,872.3 642.8,871.1 643.4,870.1 644.0,870.1 644.4,870.5 644.9,870.7 645.3,871.6 645.7,872.7 646.1,874.0 646.6,875.5 647.0,877.1 647.4,878.9 647.8,880.8 648.2,882.7 648.5,884.7 648.9,886.6 649.3,888.5 649.6,890.4 650.0,892.1 650.3,893.6 650.6,895.1 650.9,896.6 651.2,898.1 651.5,899.6 651.8,901.1 652.0,902.7 652.3,904.2 652.5,905.7 652.7,907.2 653.0,908.6 653.2,910.1 653.5,911.6 653.7,913.1 654.0,914.5 654.3,916.0 654.6,917.6 654.9,919.1 655.3,920.7 655.6,922.3 656.0,923.8 656.3,925.3 656.6,926.9 657.0,928.4 657.4,929.9 657.7,931.4 658.1,933.0 658.4,934.5 658.8,936.0 659.2,937.5 659.5,939.0 659.9,940.5 660.3,942.0 660.7,943.5 661.1,945.0 661.5,946.5 661.9,948.0 662.3,949.5 662.7,950.9 663.1,952.4 663.4,953.9 663.8,955.3 664.2,956.9 664.6,958.4 665.0,959.9 665.4,961.3 665.8,962.8 666.1,964.3 666.5,965.8 666.9,967.3 667.2,968.8 667.5,970.4 667.8,972.0 668.0,973.4 668.2,974.9 668.3,976.4 668.5,977.9 668.6,979.5 668.7,981.0 668.8,982.6 668.8,984.2 668.9,985.8 669.1,987.3 669.2,988.9 669.3,990.4 669.5,991.8 669.7,993.2 670.0,994.6 670.4,996.4 670.8,998.2 671.2,1000.2 671.7,1002.2 672.2,1004.0 672.7,1005.7 673.3,1007.2 673.8,1008.3 674.4,1008.9 675.0,1009.6 675.6,1008.8 676.3,1008.5 677.0,1007.7 677.7,1006.4 678.5,1005.0 679.3,1003.3 680.0,1001.6 680.7,999.8 681.3,998.0 681.9,996.2 682.4,994.6 682.7,993.3 683.0,991.9 683.3,990.4 683.4,989.0 683.6,987.5 683.7,986.0 683.8,984.4 683.9,982.9 683.9,981.3 684.0,979.7 684.1,978.2 684.1,976.6 684.2,975.0 684.4,973.5 684.5,972.0 684.7,970.4 684.9,968.8 685.0,967.2 685.2,965.6 685.4,964.0 685.6,962.4 685.8,960.8 686.0,959.2 686.2,957.6 686.4,956.1 686.6,954.5 686.9,952.9 687.1,951.3 687.4,949.7 687.7,948.2 688.0,946.6 688.3,945.0 688.6,943.4 688.9,941.8 689.2,940.1 689.5,938.5 689.9,936.9 690.2,935.3 690.6,933.8 690.9,932.4 691.3,931.0 691.7,929.7 692.0,928.4 692.4,927.3 693.0,925.3 693.7,923.4 694.3,921.6 695.0,920.3 695.8,919.9 696.3,920.0 696.9,920.8 697.5,921.7 698.1,922.9 698.8,924.3 699.5,926.0 700.2,927.7 700.8,929.6 701.5,931.4 702.1,933.3 702.6,935.2 703.2,936.9 703.6,938.5 704.0,940.0 704.3,941.5 704.6,943.0 704.8,944.5 705.1,946.1 705.3,947.6 705.4,949.2 705.6,950.8 705.7,952.3 705.9,953.9 706.0,955.4 706.2,957.0 706.3,958.5 706.5,960.0 706.7,961.7 706.9,963.7 707.0,965.7 707.2,967.8 707.3,969.9 707.5,971.9 707.6,973.8 707.8,975.5 707.9,976.9 708.1,978.0 708.4,978.7 708.6,979.2 708.9,978.8 709.2,978.1 709.5,977.1 709.9,975.8 710.2,974.2 710.6,972.4 711.0,970.5 711.3,968.5 711.7,966.5 712.0,964.5 712.3,962.7 712.6,961.0 712.8,959.6 713.0,958.1 713.2,956.7 713.4,955.2 713.6,953.7 713.7,952.2 713.9,950.7 714.0,949.2 714.1,947.6 714.3,946.1 714.4,944.6 714.5,943.0 714.6,941.5 714.8,940.0 714.9,938.5 715.0,937.0 715.1,935.5 715.2,934.0 715.3,932.5 715.4,931.0 715.5,929.5 715.6,928.0 715.7,926.5 715.8,925.0 715.9,923.5 716.0,922.0 716.1,920.5 716.2,919.0 716.4,917.5 716.5,916.0 716.7,914.5 716.8,913.0 717.0,911.5 717.2,910.0 717.3,908.5 717.5,907.0 717.7,905.5 717.9,904.0 718.1,902.5 718.3,901.1 718.5,899.6 718.7,898.1 719.0,896.6 719.2,895.1 719.4,893.6 719.6,892.1 719.9,890.6 720.1,889.0 720.3,887.4 720.6,885.9 720.8,884.3 721.1,882.8 721.3,881.2 721.6,879.7 721.9,878.2 722.1,876.7 722.4,875.3 722.7,873.9 723.0,872.5 723.3,871.2 723.7,869.4 724.1,867.7 724.5,866.1 724.9,864.6 725.4,863.1 725.9,861.6 726.5,860.1 727.3,858.6 728.1,857.3 728.9,855.9 729.8,854.5 730.8,853.2 731.8,851.7 732.9,850.8 734.1,849.2 735.4,848.7 736.7,847.6 738.1,846.3 739.3,845.1 740.5,844.9 741.9,844.4 743.2,843.9 744.7,843.2 746.2,843.0 747.7,842.9 749.2,842.2 750.8,841.1 752.4,841.4 753.9,841.1 755.5,840.7 757.0,840.8 758.5,839.6 760.0,839.3 761.6,839.7 763.1,838.8 764.7,838.6 766.2,839.1 767.8,838.4 769.3,838.7 770.9,838.5 772.4,838.2 774.0,837.8 775.5,837.5 777.0,838.4 778.5,838.3 780.0,838.4 781.5,838.2 783.0,838.2 784.5,838.9 786.0,839.1 787.5,839.4 788.9,839.7 790.4,840.5 791.9,840.7 793.4,841.1 794.9,842.1 796.4,842.2 798.0,842.2 799.4,841.7 800.9,841.8 802.4,840.9 803.8,841.0 805.3,840.9 806.8,840.2 808.3,839.9 809.8,839.0 811.3,838.1 812.9,837.2 814.5,836.9 816.1,836.9 817.7,836.0 819.3,835.6 821.0,835.3 822.3,834.4 823.7,833.9 825.1,834.3 826.6,833.6 828.0,832.7 829.5,833.0 831.0,832.7 832.5,832.3 834.0,831.3 835.5,831.1 837.1,831.2 838.6,830.7 840.1,830.1 841.7,830.3 843.2,829.3 844.7,829.5 846.2,828.4 847.7,828.3 849.2,828.5 850.7,827.9 852.2,827.6 853.6,827.3 855.0,826.7 856.6,826.2 858.1,826.1 859.7,825.4 861.2,825.5 862.7,824.9 864.2,823.7 865.7,823.6 867.2,823.8 868.7,822.6 870.2,822.1 871.6,822.3 873.1,822.1 874.6,822.0 876.0,821.6 877.5,820.9 879.0,820.6 880.5,820.1 882.0,820.1 883.5,819.7 885.0,818.8 886.4,819.0 887.9,818.2 889.3,818.2 890.8,817.9 892.2,818.2 893.7,817.3 895.1,817.2 896.6,817.1 898.1,816.5 899.6,816.5 901.1,816.2 902.6,816.4 904.2,816.2 905.7,815.8 907.4,815.9 909.0,815.4 910.4,815.5 911.8,814.7 913.2,814.9 914.7,814.8 916.2,815.3 917.7,814.8 919.2,814.6 920.8,814.9 922.3,815.1 923.9,815.0 925.5,814.9 927.1,814.7 928.7,814.8 930.3,814.6 931.9,814.4 933.5,814.3 935.1,814.2 936.7,814.2 938.2,814.3 939.8,814.7 941.3,814.0 942.8,814.1 944.3,813.9 945.8,814.0 947.2,813.5 948.6,813.9 950.0,814.1 951.6,813.9 953.3,813.2 954.9,812.8 956.4,813.2 958.0,813.0 959.5,812.2 961.0,811.8 962.5,812.2 964.0,811.7 965.5,811.6 966.9,811.3 968.4,811.4 969.8,810.4 971.3,810.3 972.7,809.9 974.1,810.3 975.6,808.8 977.0,810.6 978.6,809.8 980.2,809.3 981.7,808.5 983.3,809.9 984.8,807.7 986.4,808.7 987.9,809.2 989.4,808.6 990.9,806.8 992.4,806.8 993.9,807.1 995.5,808.1 997.0,806.4 998.5,808.3 1000.0,808.0 1001.6,807.0 1003.2,807.7 1004.8,806.9 1006.4,805.5 1008.0,806.0 1009.6,804.8 1011.2,805.7 1012.8,807.0 1014.4,805.4 1016.0,805.9 1017.5,805.0 1019.0,805.7 1020.5,804.7 1022.0,806.1 1023.7,804.6 1025.4,804.1 1027.0,804.3 1028.6,803.1 1030.2,803.6 1031.8,804.5 1033.3,803.6 1034.9,803.7 1036.4,803.2 1038.0,804.8 1039.5,805.3 1040.9,804.4 1042.3,803.9 1043.7,805.6 1045.0,807.4 1046.4,807.5 1047.9,807.0 1049.3,807.3 1050.8,809.8 1052.4,808.1 1054.0,809.8 1055.3,809.9 1056.7,808.9 1058.0,809.6 1059.4,810.7 1060.9,811.0 1062.3,808.5 1063.8,808.2 1065.3,808.7 1066.8,807.9 1068.4,810.0 1069.9,807.6 1071.5,808.1 1073.1,809.2 1074.7,807.9 1076.2,807.1 1077.8,806.4 1079.4,806.6 1081.0,806.6 1082.5,807.8 1084.0,806.5 1085.5,806.5 1087.1,805.5 1088.7,805.6 1090.3,806.6 1092.0,804.2 1093.6,805.4 1095.3,804.0 1096.9,804.0 1098.6,804.4 1100.2,803.1 1101.8,803.2 1103.4,802.9 1105.0,802.6 1106.5,801.2 1108.1,801.8 1109.5,801.6 1111.0,801.5 1112.4,801.0 1113.7,801.3 1115.0,802.0 1116.8,800.3 1118.6,800.4 1120.2,801.8 1121.9,802.1 1123.4,803.0 1124.9,801.2 1126.4,801.4 1127.9,803.2 1129.5,802.3 1131.0,803.0 1132.5,802.3 1134.0,801.6 1135.4,802.5 1136.9,801.5 1138.3,801.5 1139.8,802.1 1141.3,800.7 1142.8,801.5 1144.4,799.9 1146.0,799.6 1147.4,800.2 1148.8,800.2 1150.3,801.5 1151.7,800.3 1153.2,802.2 1154.7,801.3 1156.3,802.3 1157.8,802.3 1159.4,802.6 1161.0,803.0 1162.6,805.7 1164.2,803.9 1165.8,806.4 1167.4,805.6 1169.0,807.0 1170.5,805.4 1172.0,806.7 1173.5,807.1 1175.0,806.3 1176.6,807.3 1178.1,808.2 1179.7,807.0 1181.3,806.1 1182.8,807.8 1184.4,808.3 1186.0,807.6 1187.5,808.7 1189.1,807.6 1190.6,808.0 1192.1,808.1 1193.6,807.4 1195.1,807.5 1196.5,809.2 1198.2,810.1 1199.9,808.5 1201.5,810.7 1203.2,809.5 1204.8,810.0 1206.5,809.3 1208.0,809.6 1209.6,811.4 1211.2,812.5 1212.7,812.2 1214.1,811.2 1215.6,813.0 1217.0,811.9 1218.6,813.2 1220.2,814.3 1221.7,813.7 1223.3,813.9 1224.7,814.3 1226.1,814.7 1227.5,814.4 1228.8,816.9 1230.0,816.7 1231.4,817.2 1232.6,818.5 1233.8,819.0 1234.9,821.4 1236.0,822.9 1237.0,824.4 1237.9,825.7 1238.6,826.9 1239.3,828.2 1239.9,829.4 1240.6,830.8 1241.1,832.1 1241.7,833.6 1242.2,835.1 1242.6,836.6 1243.1,838.3 1243.5,840.0 1243.8,841.2 1244.0,842.5 1244.2,843.8 1244.4,845.1 1244.5,846.5 1244.7,847.9 1244.8,849.4 1244.9,850.9 1245.0,852.4 1245.1,854.0 1245.2,855.5 1245.3,857.1 1245.3,858.7 1245.4,860.4 1245.5,862.0 1245.5,863.6 1245.6,865.3 1245.7,867.0 1245.7,868.6 1245.8,870.3 1245.9,871.9 1246.0,873.6 1246.1,875.0 1246.2,876.5 1246.3,878.0 1246.4,879.4 1246.4,880.9 1246.5,882.5 1246.6,884.0 1246.7,885.5 1246.8,887.1 1246.9,888.6 1246.9,890.2 1247.0,891.8 1247.1,893.4 1247.2,895.0 1247.3,896.5 1247.3,898.1 1247.4,899.7 1247.5,901.3 1247.6,902.9 1247.7,904.5 1247.8,906.1 1247.8,907.7 1247.9,909.3 1248.0,910.8 1248.1,912.4 1248.2,913.9 1248.2,915.5 1248.3,917.0 1248.4,918.5 1248.5,920.0 1248.6,921.6 1248.7,923.2 1248.8,924.8 1248.9,926.4 1249.0,928.0 1249.0,929.6 1249.1,931.3 1249.2,932.9 1249.3,934.5 1249.4,936.1 1249.5,937.7 1249.6,939.2 1249.7,940.8 1249.8,942.4 1249.9,943.9 1250.0,945.5 1250.1,947.0 1250.2,948.5 1250.3,950.0 1250.4,951.5 1250.5,953.0 1250.6,954.4 1250.7,955.9 1250.8,957.3 1250.9,958.6 1251.0,960.0 1251.1,961.8 1251.3,963.6 1251.4,965.6 1251.6,967.6 1251.7,969.6 1251.9,971.6 1252.0,973.5 1252.2,975.4 1252.4,977.2 1252.5,978.8 1252.7,980.3 1252.8,981.5 1253.0,982.6 1253.2,983.3 1253.3,983.8 1253.5,984.3 1253.6,983.9 1253.7,983.6 1253.9,983.2 1254.0,982.5 1254.1,981.7 1254.2,980.8 1254.3,979.7 1254.4,978.5 1254.6,977.2 1254.7,975.7 1254.8,974.2 1254.9,972.5 1255.0,970.8 1255.2,969.0 1255.3,967.1 1255.4,965.2 1255.5,963.3 1255.6,961.3 1255.8,959.3 1255.9,957.2 1256.0,955.2 1256.1,953.1 1256.3,951.1 1256.4,949.1 1256.5,947.1 1256.7,945.2 1256.8,943.3 1256.9,941.5 1257.1,939.7 1257.2,938.1 1257.4,936.5 1257.5,935.0 1257.7,933.3 1257.8,931.6 1258.0,929.7 1258.1,927.8 1258.3,925.9 1258.4,923.9 1258.6,921.9 1258.7,919.9 1258.9,917.9 1259.0,915.9 1259.2,913.9 1259.3,912.0 1259.5,910.1 1259.6,908.3 1259.8,906.6 1260.0,905.0 1260.2,903.5 1260.4,902.1 1260.6,900.9 1260.8,899.8 1261.0,898.8 1261.2,898.1 1261.5,897.5 1261.7,896.7 1262.0,896.9 1262.5,896.8 1263.0,898.1 1263.5,899.5 1264.1,901.1 1264.7,903.0 1265.3,904.9 1265.9,906.8 1266.4,908.6 1267.0,910.0 1267.8,912.0 1268.7,914.2 1269.5,916.1 1270.3,917.3 1271.0,918.0 1271.4,917.6 1271.7,917.2 1272.0,916.2 1272.3,915.1 1272.6,913.6 1272.9,912.0 1273.2,910.2 1273.4,908.3 1273.7,906.3 1273.9,904.3 1274.1,902.3 1274.3,900.3 1274.6,898.4 1274.8,896.6 1275.0,895.0 1275.2,893.5 1275.4,892.0 1275.6,890.5 1275.7,889.0 1275.9,887.5 1276.0,886.0 1276.2,884.5 1276.3,883.0 1276.5,881.5 1276.6,879.9 1276.8,878.4 1276.9,876.8 1277.1,875.3 1277.3,873.6 1277.5,872.0 1277.7,870.6 1277.8,869.1 1278.0,867.6 1278.1,866.1 1278.3,864.5 1278.5,862.9 1278.6,861.3 1278.8,859.7 1278.9,858.1 1279.1,856.5 1279.3,854.9 1279.5,853.3 1279.7,851.7 1279.9,850.1 1280.1,848.5 1280.4,847.0 1280.7,845.5 1281.0,844.1 1281.3,842.7 1281.6,841.3 1282.0,840.0 1282.5,838.4 1283.0,836.7 1283.5,835.1 1284.1,833.4 1284.6,831.8 1285.2,830.3 1285.8,828.8 1286.5,827.4 1287.2,826.1 1287.9,824.7 1288.7,823.5 1289.5,823.2 1290.4,822.5 1291.9,821.8 1293.7,821.6 1295.5,822.8 1297.3,822.3 1299.0,823.2 1300.6,822.1 1301.6,821.4 1302.5,820.4 1303.3,819.2 1304.1,817.6 1304.8,816.0 1305.6,814.4 1306.3,812.7 1307.2,811.2 1308.1,809.4 1309.1,809.0 1310.4,807.6 1311.9,807.3 1313.4,807.0 1315.0,805.7 1316.6,805.1 1318.2,804.8 1319.6,804.6 1320.9,803.4 1322.2,802.4 1323.3,801.6 1324.4,800.0 1325.4,798.8 1326.5,797.0 1327.7,797.1 1328.8,797.0 1329.9,798.1 1331.0,799.4 1332.2,800.6 1333.5,801.9 1334.8,803.4 1336.3,804.7 1337.9,805.1 1339.1,806.0 1340.5,805.8 1342.0,806.7 1343.5,806.4 1345.1,806.2 1346.8,806.2 1348.5,806.8 1350.2,806.2 1352.0,806.5 1353.7,806.1 1355.4,806.8 1357.1,806.9 1358.8,806.1 1360.4,806.8 1361.9,807.0 1363.3,807.2 1365.0,807.9 1366.8,807.6 1368.4,808.5 1370.1,808.6 1371.7,808.7 1373.2,809.2 1374.7,809.6 1376.1,810.9 1377.3,811.1 1378.5,812.3 1379.6,813.4 1380.5,814.0 1381.4,815.5 1382.2,816.6 1382.9,817.9 1383.6,819.3 1384.2,820.8 1384.7,822.3 1385.3,824.0 1385.6,825.2 1386.0,826.4 1386.2,827.8 1386.5,829.2 1386.7,830.7 1386.9,832.2 1387.0,833.8 1387.2,835.4 1387.3,837.1 1387.4,838.7 1387.5,840.4 1387.6,842.1 1387.7,843.8 1387.8,845.5 1387.9,847.1 1388.0,848.8 1388.1,850.4 1388.2,851.9 1388.4,853.4 1388.5,854.8 1388.7,856.2 1388.9,858.1 1389.2,860.0 1389.4,862.1 1389.6,864.2 1389.8,866.2 1390.0,868.1 1390.2,869.9 1390.5,871.5 1390.8,872.9 1391.2,874.0 1391.6,875.0 1392.1,874.9 1392.7,874.8 1393.4,874.4 1394.2,873.0 1395.0,871.5 1395.9,869.8 1396.8,868.0 1397.7,866.1 1398.7,864.3 1399.6,862.7 1400.6,861.4 1401.6,859.6 1402.7,858.4 1403.8,857.2 1404.9,855.5 1406.0,854.5 1407.2,853.3 1408.4,852.7 1409.5,851.7 1410.7,851.3 1412.4,851.0 1414.2,852.0 1416.0,852.6 1417.7,852.6 1419.2,853.2 1420.0,851.7 1420.8,850.9 1421.5,849.4 1422.1,847.7 1422.7,845.8 1423.3,843.8 1423.8,841.8 1424.4,840.0 1424.9,838.4 1425.5,837.1 1426.1,836.4 1426.8,836.0 1427.7,835.8 1428.5,837.3 1429.4,838.8 1430.2,840.6 1431.2,842.5 1432.1,843.9 1433.2,845.7 1434.4,846.4 1435.6,846.4 1436.8,845.6 1438.2,845.7 1439.6,844.2 1441.1,844.0 1442.5,842.9 1444.0,841.0 1445.4,840.1 1446.7,839.7 1448.0,839.1 1449.7,838.7 1451.2,838.1 1452.7,838.5 1454.2,837.8 1455.8,838.6 1457.1,838.7 1458.4,839.4 1459.7,840.4 1461.0,840.7 1462.3,842.5 1463.6,843.2 1465.0,844.6 1466.3,845.8 1467.3,846.9 1468.4,847.1 1469.5,848.5 1470.5,849.9 1471.6,851.5 1472.7,852.6 1473.8,854.1 1474.9,855.4 1476.0,856.8 1477.0,857.2 1478.1,858.3 1479.2,858.8 1480.3,859.4 1481.8,859.4 1483.3,858.8 1484.8,858.8 1486.3,857.0 1487.8,856.2 1489.3,856.4 1490.8,855.7 1492.1,856.8 1493.4,857.2 1494.7,858.3 1495.9,859.5 1497.2,860.4 1498.5,861.5 1499.9,861.4 1501.3,861.8 1502.6,861.5 1503.9,861.1 1505.3,861.3 1506.7,860.4 1508.1,859.1 1509.6,858.1 1511.1,857.2 1512.6,856.8 1514.0,856.7 1515.5,855.5 1517.0,856.1 1518.1,856.5 1519.3,856.6 1520.5,857.3 1521.8,859.1 1523.0,860.1 1524.3,860.9 1525.5,862.9 1526.8,863.8 1528.0,865.6 1529.2,866.8 1530.5,867.9 1531.7,869.1 1532.8,870.0 1533.9,871.2 1535.0,872.4 1536.1,872.5 1537.1,872.8 1538.0,872.8 1539.0,872.2 1540.0,872.4 1541.0,871.2 1541.8,870.0 1542.7,868.5 1543.5,867.0 1544.2,865.4 1545.0,863.8 1545.7,862.1 1546.4,860.4 1547.1,858.8 1547.8,857.3 1548.5,856.0 1549.2,854.5 1549.9,852.9 1550.5,851.2 1551.0,849.6 1551.6,848.0 1552.1,846.5 1552.8,845.0 1553.5,843.3 1554.4,843.2 1555.5,842.5 1556.7,842.1 1558.2,841.6 1559.8,841.8 1561.5,842.6 1563.3,842.7 1565.2,843.1 1567.0,843.9 1568.7,843.9 1570.3,844.3 1571.8,843.9 1573.0,843.5 1574.0,842.9 1574.8,841.9 1575.4,840.5 1575.9,838.9 1576.3,837.3 1576.7,835.5 1577.2,833.8 1577.7,832.1 1578.3,830.5 1579.0,828.9 1580.0,828.4 1581.1,826.7 1582.3,826.6 1583.7,825.9 1585.1,825.0 1586.6,825.0 1588.2,824.2 1589.8,823.6 1591.4,823.6 1593.0,822.8 1594.5,822.9 1596.0,822.1 1597.5,821.9 1599.0,821.7 1600.4,820.7 1601.9,819.8 1603.3,819.2 1604.7,818.1 1606.2,817.4 1607.6,817.1 1609.0,816.5 1610.4,815.0 1611.9,815.2 1613.3,815.2 1614.9,815.2 1616.4,815.1 1618.0,815.0 1619.5,815.7 1621.1,816.1 1622.7,816.9 1624.2,817.1 1625.8,817.7 1627.4,819.2 1629.0,819.3 1630.4,820.1 1631.9,820.6 1633.4,821.1 1634.8,822.1 1636.3,823.2 1637.8,823.2 1639.2,824.4 1640.7,825.4 1642.2,826.0 1643.6,826.0 1645.1,825.7 1646.5,826.5 1648.0,826.2 1649.4,826.4 1650.9,825.3 1652.4,824.7 1653.8,824.0 1655.3,823.8 1656.7,823.2 1658.1,822.2 1659.5,821.9 1660.9,821.3 1662.3,819.7 1663.7,819.4 1665.1,818.5 1666.5,817.3 1667.9,816.6 1669.2,816.0 1670.6,815.1 1672.0,814.1 1673.4,813.1 1674.8,813.1 1676.3,812.7 1677.8,811.5 1679.3,811.9 1680.9,811.1 1682.4,811.5 1684.0,811.3 1685.7,811.2 1687.3,810.1 1688.9,810.6 1690.6,809.7 1692.2,809.5 1693.8,809.7 1695.2,809.0 1696.7,809.2 1698.1,808.2 1699.5,807.4 1701.0,807.1 1702.4,806.4 1703.9,805.4 1705.3,805.7 1706.8,804.9 1708.3,804.5 1709.8,804.3 1711.4,803.9 1713.0,803.0 1714.4,803.7 1715.8,803.6 1717.2,803.8 1718.7,803.9 1720.1,804.4 1721.6,803.9 1723.1,804.5 1724.7,805.2 1726.2,805.2 1727.7,806.1 1729.3,806.5 1730.8,806.6 1732.4,807.2 1733.9,806.9 1735.4,807.5 1737.0,808.2 1738.5,808.0 1740.0,808.8" fill="none" stroke="#0000FF" stroke-width="12.3" stroke-linejoin="round" stroke-linecap="butt"/>
<polyline points="146.8,637.2 148.3,637.2 149.9,637.1 151.4,636.8 153.0,637.6 154.6,636.7 156.2,637.2 157.8,637.6 159.4,636.7 161.0,637.2 162.6,637.3 164.3,636.7 165.9,637.0 167.6,637.3 169.3,637.0 170.9,637.3 172.6,636.7 174.3,636.8 176.0,636.7 177.7,637.0 179.4,637.4 181.1,637.1 182.8,637.3 184.5,636.8 186.2,637.2 187.9,636.5 189.6,636.7 191.3,637.1 193.0,637.1 194.7,636.8 196.4,636.4 198.1,636.6 199.7,636.5 201.4,636.6 203.1,637.1 204.7,636.5 206.4,637.2 208.0,637.2 209.7,636.3 211.3,636.6 212.9,636.7 214.5,636.3 216.1,636.7 217.7,637.1 219.2,636.3 220.8,636.8 222.3,636.3 223.8,636.8 225.3,637.1 226.8,636.4 228.3,636.2 229.7,636.3 231.2,636.8 232.6,636.3 234.0,636.3 235.3,636.8 236.7,637.2 238.0,636.7 239.3,636.7 240.6,637.0 241.9,636.5 243.1,637.0 244.3,636.6 245.5,637.0 246.6,637.4 247.7,636.6 248.8,637.1 249.9,637.2 250.9,636.8 251.9,636.9 252.9,637.7 254.9,637.8 256.8,637.0 258.5,637.6 260.2,637.9 261.7,637.3 263.2,637.7 264.6,637.2 266.0,637.6 267.3,638.1 268.7,638.1 270.0,638.5 271.3,638.0 272.7,638.6 274.1,639.4 275.5,639.5 277.0,639.8 278.4,640.2 279.9,641.3 281.4,641.4 282.9,641.4 284.4,642.8 285.9,643.0 287.3,643.8 288.8,644.3 290.2,645.2 291.6,645.8 293.0,646.4 294.3,647.7 295.6,648.0 296.9,649.5 298.1,649.5 299.5,651.3 300.8,652.3 302.0,653.0 303.3,654.3 304.4,654.9 305.6,656.5 306.7,657.3 307.8,658.3 308.8,660.2 309.8,660.9 310.8,662.1 311.7,664.0 312.5,664.9 313.3,666.2 314.0,667.6 314.6,669.0 315.3,670.4 315.9,671.9 316.4,673.4 317.0,674.9 317.6,676.4 318.2,678.0 318.7,679.5 319.4,681.0 320.0,682.4 320.7,683.9 321.4,685.3 322.1,686.7 322.8,688.1 323.5,689.5 324.2,690.9 325.0,692.3 325.7,693.7 326.5,695.1 327.3,696.5 328.0,697.8 328.8,699.2 329.6,700.5 330.4,701.7 331.2,703.0 332.0,704.1 333.0,706.0 334.0,706.6 335.0,708.4 336.0,709.7 337.0,711.0 338.0,711.8 339.1,712.5 340.1,713.7 341.2,715.4 342.2,716.2 343.3,717.9 344.3,718.6 345.3,720.5 346.3,721.1 347.3,722.2 348.4,723.6 349.4,725.1 350.4,726.4 351.5,727.5 352.6,728.5 353.6,730.0 354.7,731.7 355.7,732.5 356.8,734.0 357.9,734.3 359.0,736.4 360.1,737.5 361.2,738.2 362.3,739.3 363.4,740.5 364.5,741.9 365.7,742.2 366.8,743.9 368.0,744.9 369.2,745.8 370.4,747.3 371.5,748.4 372.7,748.8 373.8,750.5 375.0,751.4 376.2,752.6 377.4,753.9 378.7,754.4 379.9,756.1 381.1,757.0 382.4,758.6 383.6,759.0 384.8,760.6 386.0,761.4 387.2,762.2 388.4,763.3 389.8,763.4 391.1,764.8 392.5,765.6 393.9,766.4 395.2,766.9 396.5,767.2 397.9,767.9 399.2,768.9 400.6,769.0 402.0,769.3 403.5,769.9 405.0,770.2 406.5,770.3 408.0,769.8 409.6,770.5 411.1,770.1 412.6,770.6 414.1,770.0 415.6,771.3 417.0,771.3 418.3,772.3 419.7,773.0 421.0,773.6 422.3,773.6 423.6,774.6 425.0,775.3 426.3,776.6 427.7,776.7 429.1,777.3 430.6,777.8 432.2,778.5 433.7,779.9 435.3,780.6 436.9,780.6 438.5,781.5 440.1,781.6 441.7,782.0 443.3,782.0 444.9,782.2 446.3,781.7 447.8,781.3 449.2,781.1 450.6,780.2 452.0,779.8 453.5,779.5 454.9,777.8 456.3,777.1 457.8,777.1 459.2,775.6 460.7,775.2 462.2,775.2 463.6,774.3 465.1,773.4 466.5,772.6 468.0,772.3 469.5,771.7 471.0,771.7 472.6,771.3 474.1,770.5 475.6,770.1 477.2,769.6 478.8,769.0 480.2,768.6 481.7,768.1 483.2,766.8 484.6,766.6 486.2,766.1 487.7,766.1 489.2,765.5 490.7,765.0 492.3,765.0 493.8,764.2 495.3,763.5 496.9,763.1 498.4,762.8 499.9,762.5 501.4,761.9 502.9,761.2 504.3,760.3 505.9,759.8 507.4,758.9 509.0,758.0 510.5,757.6 512.1,756.4 513.6,756.1 515.1,755.3 516.6,754.0 518.0,753.8 519.3,752.9 520.6,752.5 521.8,752.2 523.0,752.1 524.0,752.0 525.7,751.9 527.1,751.8 528.4,752.5 530.0,752.3 531.2,751.7 532.4,751.7 533.7,751.0 535.1,750.6 536.6,749.1 538.1,748.7 539.6,747.3 541.1,745.9 542.5,745.5 544.0,744.0 545.4,743.3 546.7,742.0 548.0,741.1 549.3,741.1 550.6,739.4 551.9,738.6 553.1,737.7 554.4,736.8 555.7,736.6 557.0,735.8 558.3,734.5 559.5,733.3 560.8,732.9 562.0,731.6 563.2,730.3 564.4,729.9 565.6,728.6 566.7,727.5 567.9,726.6 569.1,725.7 570.3,724.5 571.4,724.0 572.6,723.3 573.8,722.0 575.0,720.5 576.2,720.3 577.5,718.7 578.8,718.2 580.0,717.7 581.3,716.6 582.6,715.9 583.9,714.8 585.2,713.5 586.5,712.5 587.8,711.9 589.1,711.3 590.4,710.0 591.7,709.2 593.1,708.7 594.5,707.4 595.9,706.7 597.3,705.7 598.7,705.2 600.1,703.4 601.5,702.7 603.0,702.4 604.3,701.6 605.7,700.3 607.1,699.7 608.7,699.1 610.3,698.8 612.0,698.5 613.6,697.2 615.2,696.8 616.7,697.0 618.1,696.7 619.4,697.3 620.7,698.2 621.9,699.1 622.9,700.1 623.9,701.4 624.8,703.0 625.6,704.7 626.1,705.9 626.5,707.4 626.9,709.0 627.2,710.7 627.5,712.5 627.7,714.3 628.0,716.1 628.3,717.9 628.5,719.6 628.9,721.2 629.2,722.6 629.7,723.8 630.2,724.5 631.7,726.6 633.3,728.2 634.8,728.0 635.4,727.7 635.8,726.6 636.2,725.4 636.6,723.8 636.9,722.0 637.2,720.1 637.5,718.1 637.8,716.1 638.2,714.2 638.5,712.3 638.9,710.7 639.4,709.4 640.3,707.4 641.2,705.4 642.2,703.6 643.1,702.9 644.1,701.5 644.7,701.9 645.2,702.6 645.8,703.9 646.4,705.2 647.0,706.7 647.5,708.4 648.1,710.3 648.6,712.2 649.2,714.2 649.7,716.1 650.2,718.1 650.6,719.9 651.0,721.5 651.3,723.0 651.6,724.5 651.9,726.0 652.1,727.5 652.3,729.0 652.5,730.5 652.7,732.0 652.9,733.6 653.0,735.1 653.2,736.6 653.4,738.1 653.6,739.6 653.8,741.1 654.0,742.6 654.2,744.1 654.5,745.7 654.7,747.2 654.9,748.8 655.2,750.4 655.4,751.9 655.7,753.4 655.9,754.9 656.2,756.4 656.5,757.9 656.8,759.3 657.1,760.7 657.5,762.0 658.0,763.6 658.6,765.1 659.3,766.6 659.9,768.0 660.6,769.4 661.3,770.8 661.9,772.3 662.5,774.0 662.9,775.3 663.3,776.7 663.7,778.1 664.1,779.5 664.4,781.0 664.8,782.6 665.1,784.1 665.5,785.7 665.8,787.2 666.1,788.8 666.4,790.4 666.7,791.9 667.0,793.5 667.3,795.0 667.5,796.5 667.8,798.0 667.9,799.6 668.1,801.1 668.2,802.7 668.4,804.2 668.5,805.8 668.7,807.3 668.8,808.8 669.0,810.3 669.2,811.8 669.4,813.2 669.7,814.6 670.0,816.0 670.4,817.7 670.9,819.6 671.4,821.6 672.0,823.5 672.6,825.4 673.2,827.1 673.8,828.5 674.4,829.7 675.1,830.4 675.7,830.3 676.4,830.9 677.1,829.6 677.9,828.6 678.7,827.1 679.4,825.4 680.2,823.6 680.9,821.6 681.6,819.6 682.1,817.7 682.6,816.0 682.9,814.6 683.1,813.2 683.2,811.8 683.3,810.3 683.4,808.8 683.4,807.3 683.4,805.8 683.4,804.2 683.3,802.7 683.3,801.1 683.3,799.6 683.3,798.0 683.4,796.5 683.5,795.0 683.6,793.5 683.8,792.0 683.9,790.5 684.1,789.0 684.3,787.5 684.5,786.0 684.7,784.5 684.9,783.0 685.1,781.5 685.3,780.0 685.5,778.5 685.8,777.0 686.0,775.5 686.3,774.0 686.6,772.5 686.8,770.9 687.1,769.3 687.4,767.8 687.7,766.2 688.0,764.6 688.3,763.0 688.7,761.4 689.0,759.9 689.4,758.4 689.8,757.0 690.2,755.6 690.6,754.2 691.0,753.0 691.7,751.1 692.4,749.1 693.2,747.2 694.0,745.4 694.8,744.2 695.6,743.1 696.3,743.2 696.8,743.1 697.2,743.7 697.7,744.6 698.1,745.8 698.6,747.2 699.0,748.9 699.4,750.7 699.8,752.5 700.2,754.5 700.6,756.4 701.0,758.4 701.3,760.2 701.7,762.0 702.0,763.6 702.3,765.1 702.6,766.7 702.9,768.2 703.1,769.8 703.3,771.4 703.6,773.0 703.8,774.6 704.0,776.2 704.2,777.7 704.4,779.3 704.7,780.8 704.9,782.2 705.2,783.6 705.5,785.0 705.9,786.7 706.3,788.6 706.8,790.6 707.2,792.5 707.7,794.2 708.1,795.8 708.6,797.0 709.0,797.7 709.4,797.5 709.7,797.5 710.0,797.3 710.3,796.4 710.6,795.3 710.9,794.0 711.2,792.4 711.5,790.7 711.8,788.9 712.0,787.0 712.3,785.0 712.6,783.0 712.8,781.0 713.0,779.1 713.2,777.3 713.4,775.5 713.6,774.0 713.8,772.5 713.9,770.9 714.0,769.4 714.1,767.9 714.1,766.4 714.2,764.9 714.2,763.4 714.3,761.9 714.3,760.4 714.4,759.0 714.4,757.5 714.5,756.0 714.6,754.5 714.7,753.0 714.8,751.5 715.0,750.0 715.2,748.5 715.3,747.0 715.5,745.5 715.7,744.0 715.9,742.5 716.1,741.0 716.3,739.5 716.5,738.0 716.7,736.5 716.9,735.0 717.1,733.5 717.3,732.0 717.5,730.5 717.7,729.0 717.8,727.5 718.0,726.0 718.2,724.5 718.4,722.9 718.5,721.4 718.7,719.9 718.9,718.4 719.1,716.9 719.3,715.4 719.5,713.9 719.8,712.5 720.0,711.0 720.3,709.3 720.5,707.7 720.8,705.9 721.0,704.2 721.3,702.5 721.5,700.8 721.8,699.1 722.2,697.5 722.6,696.0 723.0,694.6 723.5,693.2 724.0,692.0 724.9,690.5 725.8,689.4 726.8,687.8 727.9,686.6 729.1,686.4 730.4,684.3 731.3,683.9 732.4,682.9 733.4,681.6 734.6,680.4 735.7,679.1 736.9,677.8 738.2,677.0 739.4,675.3 740.7,674.5 742.0,673.2 743.3,672.3 744.5,672.0 745.8,670.9 747.3,670.1 748.8,669.5 750.3,668.3 751.8,668.5 753.3,668.2 754.9,667.7 756.5,667.1 758.2,667.1 760.0,666.8 761.3,665.9 762.6,665.6 764.0,665.6 765.4,665.1 766.9,665.2 768.3,664.9 769.9,664.7 771.4,665.0 772.9,664.5 774.5,664.9 776.1,665.2 777.7,665.0 779.3,664.2 780.8,664.8 782.4,664.1 784.0,664.6 785.5,664.3 787.0,664.0 788.5,663.8 790.0,664.1 791.5,663.2 793.0,663.7 794.5,662.8 796.0,662.5 797.5,662.4 799.0,662.0 800.5,662.6 802.0,661.7 803.5,661.9 805.0,661.4 806.5,661.2 808.0,661.4 809.5,661.0 811.0,660.4 812.5,660.7 814.0,659.8 815.5,659.5 817.0,659.9 818.4,659.7 819.9,659.4 821.3,659.0 822.8,658.9 824.2,658.6 825.7,657.9 827.1,657.2 828.6,657.3 830.1,656.9 831.6,656.9 833.1,656.2 834.6,655.7 836.2,655.5 837.7,655.3 839.4,655.6 841.0,655.4 842.4,655.1 843.8,654.8 845.2,655.1 846.7,654.7 848.2,654.6 849.7,654.3 851.2,655.0 852.8,654.4 854.3,654.4 855.9,654.1 857.5,654.3 859.1,654.3 860.7,654.2 862.3,654.5 863.9,654.1 865.5,654.4 867.1,654.4 868.6,653.9 870.2,654.5 871.8,653.8 873.3,653.9 874.8,654.4 876.3,653.7 877.8,653.8 879.2,653.9 880.6,654.3 882.0,654.3 883.6,653.4 885.2,653.7 886.8,653.7 888.4,653.3 889.9,652.9 891.4,652.5 892.9,652.3 894.4,652.1 895.9,651.9 897.3,652.4 898.8,652.1 900.2,651.4 901.7,652.1 903.1,652.0 904.6,651.3 906.0,651.1 907.5,651.6 909.0,651.3 910.5,651.3 912.0,650.7 913.5,651.2 915.1,650.8 916.6,650.4 918.1,650.4 919.7,650.6 921.2,650.6 922.7,650.6 924.3,651.3 925.8,650.8 927.3,650.7 928.8,650.6 930.3,650.6 931.7,651.0 933.2,651.1 934.6,650.9 936.0,651.4 937.7,651.4 939.3,651.3 940.9,652.0 942.5,651.9 944.1,652.2 945.7,653.1 947.2,653.1 948.7,653.3 950.3,653.7 951.8,654.1 953.4,654.2 954.9,654.6 956.5,654.4 958.1,654.0 959.6,654.5 961.2,653.5 962.8,653.5 964.3,653.2 965.9,653.2 967.5,653.0 969.0,652.7 970.6,652.7 972.2,652.1 973.8,651.9 975.4,652.1 977.0,652.5 978.5,652.3 980.0,650.5 981.5,650.3 983.1,651.6 984.6,650.9 986.2,650.7 987.7,648.4 989.3,648.6 990.9,648.6 992.4,648.0 994.0,648.1 995.5,649.1 997.0,647.3 998.5,647.3 1000.0,646.5 1001.6,646.9 1003.1,646.4 1004.6,645.1 1006.1,644.3 1007.6,645.7 1009.1,645.5 1010.6,643.9 1012.1,643.1 1013.6,642.5 1015.2,643.6 1016.7,643.3 1018.3,644.0 1020.0,643.3 1021.4,643.0 1022.8,643.1 1024.3,644.0 1025.8,644.2 1027.3,642.4 1028.8,642.5 1030.4,642.8 1031.9,642.8 1033.5,645.3 1035.1,645.9 1036.6,645.0 1038.2,646.0 1039.8,646.0 1041.4,646.3 1042.9,645.9 1044.5,647.6 1046.0,646.1 1047.5,645.7 1049.0,645.7 1050.5,647.7 1052.1,647.8 1053.6,648.1 1055.2,648.0 1056.7,646.6 1058.2,647.0 1059.8,646.8 1061.3,648.3 1062.8,646.1 1064.3,646.8 1065.8,647.7 1067.3,647.6 1068.7,645.9 1070.2,646.1 1071.6,646.2 1073.1,646.2 1074.5,646.8 1076.2,645.4 1077.8,647.3 1079.4,646.1 1081.0,646.3 1082.6,645.2 1084.1,646.2 1085.7,643.9 1087.2,645.6 1088.8,643.6 1090.3,644.0 1091.9,643.8 1093.4,643.8 1095.0,643.1 1096.5,643.3 1098.1,641.2 1099.6,642.1 1101.1,641.7 1102.6,641.7 1104.1,640.0 1105.6,641.2 1107.1,639.2 1108.6,638.8 1110.2,638.6 1111.7,640.7 1113.4,638.3 1115.0,639.5 1116.4,637.7 1117.8,639.0 1119.3,637.8 1120.8,638.7 1122.4,638.9 1123.9,638.6 1125.5,638.1 1127.0,638.5 1128.6,636.6 1130.2,636.6 1131.7,637.1 1133.3,637.6 1134.8,638.4 1136.3,636.5 1137.8,637.0 1139.2,637.9 1140.6,637.4 1142.0,636.9 1143.6,637.6 1145.2,637.2 1146.8,637.4 1148.3,639.9 1149.8,638.9 1151.3,640.3 1152.8,639.5 1154.2,641.1 1155.7,641.9 1157.1,640.0 1158.5,641.9 1160.0,643.1 1161.6,643.1 1163.2,641.8 1164.7,643.8 1166.2,644.2 1167.7,643.1 1169.2,644.7 1170.8,645.0 1172.4,644.2 1174.2,646.1 1176.0,646.4 1177.3,644.5 1178.6,645.7 1180.1,646.0 1181.5,644.6 1183.0,645.9 1184.6,647.0 1186.2,645.4 1187.8,645.9 1189.4,647.0 1191.1,646.8 1192.8,647.0 1194.4,644.7 1196.1,647.0 1197.8,645.2 1199.4,645.3 1201.0,644.8 1202.6,646.4 1204.2,645.8 1205.7,645.5 1207.2,645.6 1208.6,645.8 1210.0,646.0 1211.8,645.0 1213.5,646.6 1215.3,645.6 1217.0,645.2 1218.7,647.8 1220.4,645.8 1222.1,647.8 1223.6,647.9 1225.1,647.3 1226.5,648.0 1227.8,647.3 1229.0,647.5 1230.0,649.5 1231.8,649.6 1233.1,650.2 1234.5,650.4 1235.4,650.9 1236.4,652.6 1237.5,653.9 1238.5,654.5 1239.5,656.2 1240.5,657.6 1241.4,659.1 1242.3,660.7 1243.0,662.4 1243.4,663.6 1243.8,664.9 1244.1,666.2 1244.4,667.5 1244.7,669.0 1244.9,670.4 1245.1,671.9 1245.2,673.4 1245.4,675.0 1245.5,676.5 1245.6,678.1 1245.7,679.7 1245.8,681.3 1245.9,683.0 1246.1,684.6 1246.2,686.2 1246.4,687.8 1246.6,689.2 1246.7,690.7 1246.9,692.2 1247.0,693.8 1247.2,695.3 1247.3,696.9 1247.5,698.5 1247.6,700.1 1247.8,701.7 1247.9,703.3 1248.1,704.9 1248.2,706.5 1248.4,708.1 1248.5,709.7 1248.7,711.3 1248.8,712.9 1249.0,714.4 1249.1,715.9 1249.3,717.4 1249.5,718.8 1249.6,720.2 1249.8,721.6 1250.0,723.5 1250.3,725.4 1250.5,727.5 1250.7,729.6 1251.0,731.7 1251.2,733.7 1251.5,735.6 1251.7,737.3 1252.0,738.9 1252.3,740.2 1252.6,741.1 1252.9,742.2 1253.2,742.3 1253.5,741.6 1253.9,741.2 1254.2,740.4 1254.6,739.2 1255.0,737.8 1255.4,736.1 1255.8,734.4 1256.2,732.5 1256.5,730.6 1256.9,728.6 1257.3,726.7 1257.6,724.9 1258.0,723.2 1258.3,721.6 1258.6,720.0 1258.8,718.4 1259.0,716.7 1259.2,715.0 1259.3,713.2 1259.5,711.5 1259.6,709.9 1259.8,708.2 1260.1,706.6 1260.3,705.1 1260.7,703.7 1261.1,702.5 1261.6,701.3 1262.5,699.6 1263.5,699.0 1264.6,697.4 1265.8,697.0 1267.1,695.6 1268.4,694.9 1269.6,694.0 1270.8,692.6 1272.1,691.5 1273.5,691.3 1274.8,690.5 1276.1,689.4 1277.4,688.6 1278.6,687.6 1279.8,686.2 1280.9,685.2 1281.9,683.8 1282.9,682.3 1283.9,681.6 1285.0,680.3 1286.2,680.4 1287.2,680.7 1288.3,681.2 1289.4,682.4 1290.6,683.7 1291.8,685.8 1293.0,687.8 1294.2,689.6 1295.4,690.9 1296.6,692.2 1297.7,692.6 1298.9,692.8 1299.9,693.1 1300.9,692.2 1301.8,690.8 1302.8,690.6 1303.8,689.1 1304.7,688.0 1305.7,686.2 1306.6,684.7 1307.6,683.1 1308.6,681.5 1309.5,679.9 1310.5,678.4 1311.5,677.3 1312.5,676.3 1313.6,674.2 1314.7,673.5 1315.9,671.9 1317.0,670.1 1318.2,668.2 1319.4,667.2 1320.5,665.5 1321.7,664.4 1322.8,663.7 1323.9,663.1 1325.0,662.9 1326.0,662.5 1327.0,662.9 1328.0,663.3 1329.0,663.6 1329.9,665.0 1330.8,666.0 1331.7,667.8 1332.6,669.4 1333.5,671.0 1334.4,672.7 1335.3,674.3 1336.2,675.9 1336.8,677.1 1337.4,678.4 1338.0,679.8 1338.6,681.4 1339.2,683.0 1339.8,684.8 1340.4,686.6 1340.9,688.4 1341.5,690.3 1342.1,692.2 1342.7,694.0 1343.2,695.9 1343.8,697.6 1344.4,699.3 1345.0,700.9 1345.6,702.4 1346.1,703.8 1346.7,705.0 1347.3,706.0 1347.9,707.2 1348.5,707.5 1349.1,708.0 1349.7,708.5 1350.4,708.0 1351.0,708.0 1351.6,707.1 1352.3,706.3 1352.9,705.0 1353.6,703.8 1354.2,702.4 1354.8,700.9 1355.5,699.3 1356.1,697.6 1356.8,695.8 1357.5,694.0 1358.2,692.2 1358.8,690.4 1359.6,688.7 1360.3,686.9 1361.0,685.3 1361.7,683.7 1362.5,682.3 1363.3,681.0 1364.2,679.6 1365.2,678.1 1366.1,676.6 1367.2,675.0 1368.2,673.4 1369.3,671.8 1370.4,670.0 1371.5,669.0 1372.6,667.6 1373.6,666.1 1374.7,664.7 1375.7,663.6 1376.7,662.4 1377.7,661.8 1378.6,661.0 1379.4,661.0 1380.2,661.1 1381.2,660.8 1382.2,661.9 1383.1,662.4 1384.0,664.1 1384.8,665.6 1385.6,667.3 1386.3,669.1 1387.0,670.8 1387.4,672.0 1387.8,673.3 1388.1,674.8 1388.4,676.4 1388.7,678.2 1388.9,680.1 1389.2,682.0 1389.4,684.0 1389.6,685.9 1389.8,687.9 1390.0,689.9 1390.2,691.7 1390.4,693.5 1390.6,695.2 1390.9,696.8 1391.1,698.2 1391.4,699.4 1391.7,700.4 1392.1,701.2 1392.5,702.0 1392.9,702.3 1393.7,702.2 1394.6,701.5 1395.5,699.6 1396.5,698.0 1397.5,696.2 1398.5,694.3 1399.6,692.6 1400.6,691.4 1401.7,689.9 1402.9,688.6 1404.1,686.4 1405.3,685.0 1406.5,684.2 1407.7,683.3 1409.0,682.4 1410.1,683.0 1411.2,684.3 1412.4,685.0 1413.6,687.4 1414.8,689.2 1415.9,690.5 1417.1,691.3 1418.2,692.6 1419.2,692.5 1420.1,692.8 1420.8,691.3 1421.6,690.3 1422.2,688.8 1422.9,687.1 1423.6,685.3 1424.3,683.4 1425.0,681.6 1425.8,680.0 1426.7,678.6 1427.7,677.6 1429.0,677.2 1430.4,676.0 1431.9,676.0 1433.5,674.9 1435.1,674.9 1436.7,675.1 1438.4,674.7 1440.0,674.1 1441.5,673.1 1443.0,673.6 1444.5,672.4 1446.1,672.2 1447.7,671.1 1449.3,670.6 1450.9,670.5 1452.5,670.5 1454.2,670.3 1455.8,669.9 1457.2,669.8 1458.6,670.4 1460.1,670.6 1461.5,670.8 1462.9,671.1 1464.4,671.6 1465.9,672.2 1467.3,673.4 1468.8,674.1 1470.3,674.5 1471.9,674.9 1473.4,675.1 1475.0,675.3 1476.4,675.8 1477.9,676.0 1479.5,676.7 1481.0,677.1 1482.6,676.8 1484.2,676.9 1485.8,677.6 1487.4,678.0 1489.0,678.2 1490.6,678.4 1492.2,678.3 1493.7,678.4 1495.2,678.1 1496.7,678.3 1498.1,677.8 1499.5,678.5 1501.2,677.5 1502.9,677.5 1504.5,676.9 1506.0,676.3 1507.5,675.1 1509.1,674.5 1510.6,673.5 1512.1,673.9 1513.7,673.3 1515.3,672.9 1516.6,673.4 1517.9,673.9 1519.3,674.7 1520.7,675.4 1522.1,676.3 1523.5,677.6 1524.9,679.0 1526.4,679.8 1527.8,680.9 1529.1,681.9 1530.5,683.4 1531.8,684.0 1533.0,684.6 1534.2,684.4 1535.3,685.3 1536.3,684.9 1537.6,684.7 1538.7,683.6 1539.7,682.0 1540.6,681.0 1541.4,679.4 1542.3,677.8 1543.1,676.1 1544.0,674.5 1545.0,672.5 1545.9,671.7 1546.8,670.3 1547.6,668.8 1548.5,667.2 1549.3,665.7 1550.2,664.2 1551.1,662.8 1552.1,661.6 1553.2,660.9 1554.3,659.3 1555.5,659.4 1556.9,658.9 1558.4,659.1 1560.0,659.7 1561.6,659.6 1563.4,660.5 1565.1,661.5 1566.8,662.2 1568.5,663.3 1570.1,663.0 1571.6,663.2 1573.0,663.5 1574.3,662.9 1575.4,661.4 1576.4,660.0 1577.4,659.0 1578.3,657.5 1579.3,656.0 1580.2,654.5 1581.2,653.1 1582.3,652.2 1583.5,651.2 1584.9,650.5 1586.4,649.4 1587.9,649.8 1589.5,649.4 1591.1,649.3 1592.7,649.2 1594.3,649.2 1595.9,648.2 1597.5,648.4 1598.8,646.9 1600.2,646.7 1601.5,645.7 1602.8,643.8 1604.2,643.1 1605.5,642.1 1606.8,640.4 1608.1,639.2 1609.5,639.0 1610.7,637.5 1612.0,637.8 1613.3,636.8 1614.9,637.6 1616.4,637.7 1617.9,638.1 1619.3,639.2 1620.8,640.7 1622.3,641.0 1623.9,641.9 1625.5,642.4 1626.8,642.1 1628.1,642.7 1629.4,641.9 1630.7,641.2 1632.0,640.6 1633.4,639.7 1634.8,639.5 1636.3,639.0 1637.9,638.5 1639.5,638.1 1641.3,637.8 1642.5,637.1 1643.7,636.9 1644.9,636.6 1646.2,637.2 1647.6,637.1 1649.0,636.5 1650.4,637.1 1651.9,637.3 1653.4,636.5 1654.9,637.1 1656.5,637.3 1658.0,637.4 1659.6,637.0 1661.2,637.2 1662.9,637.0 1664.5,637.2 1666.1,637.7 1667.8,638.1 1669.4,637.7 1671.1,638.1 1672.7,638.5 1674.3,638.3 1675.9,637.9 1677.5,638.1 1679.0,638.8 1680.6,637.9 1682.1,638.5 1683.6,638.4 1685.0,638.2 1686.6,638.6 1688.2,638.3 1689.8,638.2 1691.4,638.7 1693.1,638.5 1694.7,638.6 1696.3,637.7 1697.9,638.4 1699.4,638.0 1701.0,637.9 1702.6,638.3 1704.1,637.8 1705.7,638.1 1707.2,637.9 1708.7,637.1 1710.2,637.9 1711.7,637.3 1713.1,637.5 1714.6,637.5 1716.0,637.7 1717.3,637.2 1718.7,637.7 1720.0,638.0 1721.7,637.8 1723.4,638.5 1725.0,638.5 1726.6,638.8 1728.1,638.9 1729.6,639.2 1731.1,639.8 1732.6,640.3 1734.0,641.1 1735.5,641.3 1737.0,641.1 1738.5,641.6 1740.0,642.2" fill="none" stroke="#008600" stroke-width="12.3" stroke-linejoin="round" stroke-linecap="butt"/>
<polyline points="146.8,454.2 148.3,454.3 149.9,454.1 151.3,454.2 152.8,453.8 154.3,454.4 155.8,454.4 157.3,454.2 158.8,453.7 160.3,454.0 161.9,453.9 163.6,453.8 165.3,454.6 167.1,454.7 168.4,453.8 169.7,454.7 171.0,454.6 172.3,454.5 173.7,454.5 175.1,455.0 176.5,455.0 177.9,455.4 179.4,455.5 180.9,455.2 182.4,456.0 183.9,456.4 185.4,456.6 186.9,456.4 188.5,456.0 190.1,456.2 191.6,456.5 193.2,457.5 194.8,457.0 196.4,457.3 198.0,457.9 199.7,457.5 201.3,457.9 202.9,457.9 204.5,457.7 206.2,458.3 207.8,458.6 209.2,458.0 210.7,458.2 212.1,458.4 213.7,458.1 215.2,458.6 216.8,459.0 218.3,458.9 220.0,458.8 221.6,459.2 223.2,458.5 224.9,459.0 226.5,458.8 228.2,459.1 229.9,458.6 231.5,459.3 233.2,458.6 234.9,458.7 236.6,459.3 238.2,459.5 239.9,459.0 241.5,459.0 243.1,458.8 244.7,458.8 246.3,459.1 247.9,458.7 249.4,458.6 251.0,458.9 252.5,458.5 253.9,459.0 255.3,459.1 256.7,459.0 258.1,458.7 259.4,458.5 260.7,458.5 261.9,458.0 263.1,458.6 264.2,458.1 266.1,457.9 267.8,457.4 269.5,457.5 271.0,457.3 272.5,456.8 274.0,457.0 275.4,456.4 276.7,455.7 278.1,455.7 279.5,455.9 280.9,455.4 282.3,455.4 283.9,454.9 285.5,455.4 287.1,455.6 288.6,455.8 290.1,456.1 291.7,456.6 293.2,456.9 294.8,457.1 296.4,457.0 298.1,457.5 299.6,458.2 301.1,457.8 302.6,457.5 304.2,457.6 305.7,458.2 307.3,457.8 308.9,458.0 310.5,458.1 312.1,458.5 313.7,459.2 315.3,458.8 316.8,459.0 318.4,459.1 320.0,459.4 321.5,459.6 323.1,460.1 324.6,460.6 326.1,460.7 327.7,460.7 329.2,461.2 330.8,461.8 332.3,461.4 333.9,461.8 335.5,462.6 337.1,463.0 338.8,463.3 340.2,463.6 341.7,464.3 343.1,464.3 344.6,465.1 346.1,465.7 347.6,465.6 349.2,466.5 350.7,466.9 352.3,467.5 353.8,467.1 355.3,468.5 356.9,468.7 358.4,469.4 359.9,469.8 361.5,469.4 363.0,470.2 364.4,469.9 365.9,470.6 367.5,471.1 369.0,470.6 370.6,470.9 372.1,470.8 373.7,471.0 375.2,471.2 376.8,471.1 378.3,472.1 379.8,472.0 381.3,471.5 382.7,471.8 384.2,471.7 385.6,471.4 387.0,471.2 388.4,471.3 390.0,470.9 391.5,470.4 393.0,470.2 394.4,470.2 395.9,469.9 397.3,469.1 398.7,469.0 400.1,468.8 401.5,468.2 402.9,467.4 404.3,466.2 405.5,465.8 406.7,464.6 407.9,463.6 409.1,462.8 410.3,461.8 411.4,460.9 412.6,459.6 413.8,458.1 415.0,457.4 416.2,456.1 417.4,455.2 418.6,454.1 419.8,453.7 421.0,453.2 422.3,453.3 423.6,453.1 424.9,453.4 426.2,454.0 427.6,454.8 428.9,455.9 430.3,456.9 431.6,458.1 433.0,458.8 434.4,460.3 435.8,461.6 437.1,462.6 438.5,463.2 439.9,463.2 441.3,464.5 442.7,464.7 444.1,463.9 445.6,464.1 447.0,463.7 448.5,463.7 450.0,463.0 451.5,462.0 452.9,461.2 454.4,460.5 455.9,459.7 457.3,459.7 458.8,459.2 460.2,458.0 461.6,458.1 463.0,458.1 464.6,457.1 466.3,457.4 467.9,457.3 469.5,457.9 471.1,458.0 472.7,457.3 474.2,457.7 475.8,458.6 477.3,458.5 478.8,458.7 480.3,459.3 481.8,459.6 483.2,460.2 484.6,460.0 486.0,460.2 487.5,461.2 489.0,461.0 490.6,461.9 492.3,462.5 493.6,462.2 494.9,462.5 496.3,462.2 497.8,462.3 499.2,462.8 500.8,463.1 502.3,463.3 503.9,462.3 505.5,463.2 507.1,462.8 508.7,462.7 510.3,462.8 511.9,463.0 513.5,462.8 515.0,462.6 516.5,463.4 518.0,463.3 519.4,463.3 521.1,463.6 522.7,464.0 524.2,463.3 525.8,464.1 527.3,464.3 528.8,464.0 530.3,464.4 531.8,464.5 533.4,464.4 534.9,464.8 536.5,464.7 538.1,465.7 539.8,465.2 541.2,465.8 542.6,465.9 544.0,466.5 545.5,466.5 547.0,466.2 548.5,466.4 550.0,466.2 551.5,466.4 553.0,466.9 554.6,467.7 556.1,467.0 557.7,467.3 559.2,468.0 560.8,467.9 562.3,467.9 563.9,468.9 565.4,468.3 567.0,469.1 568.5,469.1 570.0,469.3 571.4,469.4 572.9,469.6 574.3,470.2 575.8,470.8 577.3,470.8 578.7,471.4 580.2,471.8 581.7,471.4 583.1,472.5 584.6,472.5 586.1,472.6 587.6,473.1 589.1,473.8 590.5,473.6 592.0,473.6 593.5,474.7 595.0,474.2 596.4,474.5 597.9,475.4 599.4,475.2 601.0,475.5 602.6,476.1 604.2,476.6 605.9,476.3 607.6,477.1 609.3,477.0 611.1,477.3 612.8,477.4 614.5,477.1 616.2,477.5 617.9,478.2 619.5,478.5 621.1,478.1 622.6,478.8 624.1,478.9 625.5,479.2 626.8,479.3 628.0,479.3 629.2,479.6 630.2,480.5 632.3,480.1 633.9,481.1 635.4,481.3 637.0,481.6 638.2,483.1 639.4,483.2 640.6,485.1 641.8,485.8 643.0,487.7 644.0,488.8 645.0,490.0 645.8,491.3 646.5,492.6 647.1,494.0 647.7,495.5 648.2,497.0 648.7,498.6 649.2,500.2 649.7,501.9 650.2,503.6 650.6,504.9 650.9,506.3 651.2,507.7 651.5,509.2 651.8,510.6 652.0,512.1 652.3,513.7 652.6,515.2 652.8,516.8 653.1,518.3 653.4,519.9 653.7,521.4 654.0,523.0 654.3,524.5 654.7,526.0 655.1,527.5 655.5,529.0 656.0,530.5 656.5,532.0 657.0,533.5 657.5,535.0 658.0,536.5 658.5,538.0 659.0,539.5 659.6,541.0 660.1,542.5 660.6,544.0 661.1,545.5 661.5,547.0 662.0,548.5 662.4,550.0 662.9,551.5 663.3,553.0 663.8,554.5 664.2,556.0 664.7,557.5 665.1,559.0 665.5,560.5 665.9,562.0 666.3,563.5 666.7,565.0 667.0,566.5 667.4,568.0 667.7,569.5 668.0,571.0 668.3,572.6 668.5,574.2 668.7,575.8 668.8,577.5 669.0,579.1 669.1,580.7 669.2,582.3 669.3,584.0 669.4,585.6 669.6,587.2 669.7,588.7 669.9,590.3 670.1,591.8 670.4,593.3 670.7,595.1 671.1,597.0 671.5,599.1 671.9,601.1 672.3,603.1 672.8,605.0 673.2,606.8 673.7,608.2 674.2,609.4 674.8,610.3 675.3,610.1 675.8,610.2 676.4,609.5 677.1,608.7 677.7,607.4 678.4,605.9 679.1,604.2 679.8,602.4 680.5,600.5 681.1,598.6 681.7,596.7 682.2,594.9 682.7,593.3 683.1,591.9 683.4,590.5 683.6,589.1 683.9,587.6 684.1,586.1 684.3,584.6 684.4,583.1 684.6,581.6 684.8,580.1 684.9,578.6 685.1,577.0 685.3,575.5 685.5,574.0 685.7,572.5 686.0,571.0 686.3,569.5 686.6,567.9 687.0,566.4 687.3,564.8 687.7,563.2 688.0,561.7 688.4,560.1 688.8,558.5 689.2,557.0 689.6,555.5 690.0,554.0 690.4,552.6 690.9,551.1 691.3,549.8 691.7,548.5 692.2,546.8 692.8,545.0 693.4,543.1 694.0,541.3 694.5,539.6 695.1,538.2 695.8,537.0 696.4,536.6 697.0,535.9 697.7,536.8 698.5,537.3 699.3,538.7 700.0,540.5 700.8,542.4 701.6,544.4 702.3,546.3 703.0,548.0 703.6,549.4 704.2,550.8 704.8,552.2 705.4,553.7 705.9,555.1 706.5,556.6 706.9,558.1 707.4,559.7 707.7,561.2 708.0,562.9 708.2,564.8 708.4,566.8 708.6,568.8 708.8,570.8 709.0,572.7 709.1,574.4 709.3,575.8 709.6,577.0 709.9,577.7 710.2,578.2 710.6,577.7 711.1,577.1 711.6,576.1 712.1,574.8 712.7,573.1 713.3,571.3 713.9,569.4 714.4,567.4 715.0,565.3 715.5,563.3 715.9,561.4 716.3,559.7 716.6,558.3 716.8,556.9 717.0,555.4 717.2,553.9 717.4,552.4 717.5,550.9 717.7,549.4 717.8,547.9 717.9,546.4 718.0,544.9 718.1,543.3 718.2,541.8 718.3,540.3 718.5,538.8 718.6,537.3 718.7,535.8 718.9,534.3 719.0,532.7 719.1,531.2 719.2,529.6 719.3,528.1 719.4,526.6 719.5,525.0 719.6,523.5 719.7,522.0 719.9,520.5 720.1,519.1 720.3,517.6 720.5,516.2 720.8,514.9 721.2,513.2 721.5,511.6 721.9,510.0 722.4,508.4 722.8,506.8 723.3,505.3 723.9,503.9 724.5,502.5 725.2,501.2 726.0,500.5 727.0,498.5 728.1,497.8 729.3,495.9 730.6,495.3 731.9,494.0 733.3,493.4 734.7,492.4 736.0,492.6 737.6,492.0 739.1,491.8 740.7,491.9 742.4,492.3 744.1,492.0 745.8,492.1 747.3,492.0 748.8,492.7 750.4,492.8 752.0,492.5 753.6,492.9 755.3,493.5 756.9,493.2 758.5,493.6 760.0,493.4 761.6,493.7 763.1,494.2 764.6,494.4 766.1,494.5 767.6,494.5 769.1,494.4 770.6,494.9 772.0,495.2 773.7,494.7 775.3,494.8 776.9,494.2 778.6,493.5 780.2,493.7 782.0,493.5 783.4,493.4 784.8,493.4 786.2,494.5 787.6,494.4 789.1,494.8 790.6,494.5 792.2,495.4 793.7,495.1 795.4,495.5 797.0,495.4 798.3,495.3 799.7,495.5 801.1,494.6 802.6,495.1 804.0,494.6 805.5,493.9 807.0,493.8 808.6,493.0 810.1,492.9 811.6,492.0 813.2,492.0 814.8,491.3 816.3,490.8 817.9,490.7 819.4,490.0 821.0,489.1 822.5,489.2 823.9,488.4 825.4,488.3 826.8,488.2 828.3,487.4 829.7,487.3 831.2,486.7 832.7,486.6 834.2,486.0 835.7,486.2 837.2,486.0 838.7,485.4 840.2,485.3 841.7,485.1 843.3,484.9 844.8,484.7 846.4,484.3 848.0,484.2 849.5,484.1 850.9,483.8 852.5,483.9 854.0,483.3 855.5,483.7 857.1,483.6 858.6,483.5 860.2,483.5 861.8,483.8 863.4,483.7 865.0,483.6 866.6,483.8 868.2,483.8 869.8,483.3 871.3,483.9 872.9,484.0 874.5,483.7 876.0,484.1 877.5,483.4 879.0,484.1 880.5,483.7 882.0,483.9 883.6,484.1 885.1,484.1 886.7,484.3 888.2,484.1 889.7,484.2 891.2,485.0 892.7,484.7 894.2,484.9 895.7,485.5 897.2,485.7 898.7,485.7 900.1,486.1 901.6,485.9 903.1,486.6 904.5,486.5 906.0,487.0 907.5,487.1 909.0,487.2 910.5,487.6 912.0,487.6 913.5,487.5 915.0,487.4 916.5,487.9 918.0,488.3 919.5,487.9 921.0,488.7 922.5,488.7 924.0,489.0 925.5,488.8 927.0,489.1 928.5,489.9 930.0,489.7 931.5,489.9 933.0,490.8 934.5,490.3 936.0,491.2 937.5,491.6 939.0,492.0 940.5,492.2 942.0,491.9 943.5,492.7 945.0,493.6 946.5,493.5 948.0,494.1 949.5,494.7 951.0,495.0 952.5,495.1 954.0,495.7 955.5,495.9 957.0,496.1 958.5,496.1 960.0,496.5 961.5,497.4 963.0,496.8 964.5,496.9 966.1,497.5 967.6,496.5 969.2,496.6 970.9,496.5 972.5,496.4 974.1,496.1 975.7,495.4 977.3,494.8 978.9,495.6 980.4,494.3 982.0,493.6 983.4,495.3 984.9,495.0 986.3,493.7 987.6,494.9 988.8,492.8 990.0,494.5 991.9,493.7 993.5,493.4 995.1,491.6 996.6,493.3 998.2,491.5 1000.0,492.3 1001.3,492.2 1002.7,490.8 1004.1,491.3 1005.6,492.8 1007.2,492.2 1008.8,490.9 1010.4,492.5 1012.0,490.1 1013.7,491.5 1015.4,491.8 1017.0,491.9 1018.7,491.3 1020.4,491.6 1022.0,490.3 1023.5,491.8 1025.0,491.7 1026.5,491.6 1028.1,491.0 1029.6,492.3 1031.1,491.0 1032.6,492.5 1034.2,493.2 1035.7,492.6 1037.3,493.6 1038.8,492.4 1040.4,493.4 1042.0,494.1 1043.7,495.1 1045.3,494.5 1047.0,495.6 1048.4,494.2 1049.9,495.6 1051.4,494.7 1052.9,494.4 1054.4,493.6 1055.9,495.2 1057.4,495.0 1059.0,493.9 1060.5,493.6 1062.1,493.3 1063.7,493.3 1065.2,492.5 1066.8,494.4 1068.4,493.2 1070.0,492.3 1071.6,493.5 1073.2,492.1 1074.7,493.8 1076.3,491.4 1077.9,492.7 1079.4,492.8 1081.0,492.0 1082.5,491.6 1084.1,493.4 1085.7,492.5 1087.2,492.8 1088.8,491.4 1090.3,491.0 1091.9,493.3 1093.5,491.5 1095.0,491.2 1096.6,493.1 1098.1,492.5 1099.7,491.1 1101.3,492.5 1102.8,492.4 1104.3,493.5 1105.9,492.6 1107.4,491.4 1109.0,492.6 1110.5,493.0 1112.0,493.4 1113.5,491.6 1115.0,492.2 1116.6,490.7 1118.1,492.9 1119.7,490.5 1121.3,491.6 1122.8,491.9 1124.4,490.6 1126.0,491.6 1127.5,489.8 1129.1,489.9 1130.6,490.3 1132.2,487.9 1133.7,489.8 1135.2,489.5 1136.7,487.5 1138.1,488.6 1139.6,487.4 1141.0,487.0 1142.3,487.8 1143.7,488.3 1145.0,487.5 1146.6,487.6 1148.2,487.6 1149.7,488.9 1151.2,489.4 1152.7,490.7 1154.1,491.2 1155.5,489.6 1156.9,490.5 1158.3,490.9 1159.7,491.6 1161.1,493.1 1162.6,492.5 1164.0,493.0 1165.5,493.0 1166.9,491.4 1168.4,490.0 1169.8,490.0 1171.2,490.5 1172.7,489.7 1174.2,488.2 1175.6,489.1 1177.1,486.7 1178.6,486.6 1180.1,487.3 1181.6,487.4 1183.1,488.2 1184.6,486.9 1186.0,488.2 1187.5,487.6 1189.0,487.5 1190.5,489.6 1192.0,488.8 1193.6,489.8 1195.1,489.2 1196.7,491.2 1198.2,490.6 1199.8,489.9 1201.4,490.3 1203.0,491.4 1204.4,491.9 1206.0,491.3 1207.5,493.5 1209.2,493.0 1210.8,494.3 1212.5,493.8 1214.2,494.4 1215.9,493.0 1217.5,493.0 1219.2,493.7 1220.8,494.4 1222.4,493.7 1223.8,496.3 1225.3,494.9 1226.6,496.5 1227.9,494.8 1229.0,497.2 1230.0,496.2 1231.9,497.3 1233.4,498.2 1234.7,498.9 1236.0,499.3 1237.1,500.2 1238.2,501.4 1239.2,502.7 1240.2,503.4 1241.0,505.2 1241.8,506.6 1242.4,508.1 1243.0,509.7 1243.5,511.5 1244.1,513.6 1244.4,514.7 1244.6,515.8 1244.9,517.1 1245.1,518.5 1245.4,519.9 1245.6,521.4 1245.8,523.0 1246.1,524.6 1246.3,526.3 1246.6,528.0 1246.8,529.7 1247.0,531.4 1247.2,533.2 1247.5,534.9 1247.7,536.6 1247.9,538.3 1248.1,539.9 1248.3,541.5 1248.5,543.0 1248.7,544.5 1248.9,545.9 1249.1,547.2 1249.4,549.0 1249.6,550.6 1249.8,552.3 1250.0,553.8 1250.2,555.3 1250.4,556.8 1250.6,558.3 1250.9,559.7 1251.1,561.1 1251.4,562.6 1251.7,564.0 1252.1,565.7 1252.5,567.6 1253.0,569.6 1253.5,571.6 1254.0,573.5 1254.4,575.1 1254.9,576.4 1255.3,577.3 1255.7,577.5 1256.0,577.2 1256.3,576.3 1256.6,575.0 1256.8,573.4 1257.1,571.6 1257.3,569.6 1257.5,567.6 1257.8,565.7 1258.0,564.0 1258.2,562.6 1258.5,561.1 1258.7,559.7 1258.9,558.3 1259.1,556.8 1259.4,555.3 1259.6,553.8 1259.8,552.3 1260.1,550.6 1260.3,549.0 1260.5,547.2 1260.6,545.9 1260.8,544.5 1260.9,543.0 1261.0,541.5 1261.1,539.9 1261.1,538.2 1261.2,536.5 1261.3,534.8 1261.4,533.1 1261.4,531.4 1261.5,529.6 1261.6,527.9 1261.7,526.2 1261.9,524.5 1262.0,522.9 1262.2,521.3 1262.4,519.8 1262.6,518.4 1262.9,517.1 1263.2,515.8 1263.5,514.6 1263.9,513.6 1264.7,512.0 1265.6,510.5 1266.7,509.2 1267.7,508.4 1268.8,507.0 1269.8,506.5 1270.7,505.0 1271.6,503.8 1272.5,502.4 1273.3,501.0 1274.1,499.6 1274.9,498.2 1275.7,496.8 1276.4,495.3 1277.0,493.8 1277.6,492.3 1278.2,490.8 1278.9,489.3 1279.8,488.8 1281.0,487.4 1282.4,486.6 1283.9,485.8 1285.5,485.7 1287.0,485.4 1288.1,486.1 1289.2,486.7 1290.3,487.9 1291.5,489.8 1292.6,491.7 1293.7,492.6 1294.9,494.5 1296.0,495.0 1297.2,495.2 1298.4,495.8 1299.7,494.4 1300.9,493.8 1302.2,492.9 1303.5,491.7 1304.8,490.6 1306.1,489.0 1307.4,488.4 1309.1,488.4 1310.8,489.0 1312.5,489.3 1314.2,489.1 1315.9,489.0 1317.5,488.9 1318.7,488.0 1320.0,486.4 1321.2,485.5 1322.3,484.2 1323.5,482.4 1324.6,481.0 1325.7,479.2 1326.7,478.9 1327.7,479.0 1328.6,478.8 1329.4,480.0 1330.1,481.4 1330.8,483.1 1331.5,484.8 1332.3,486.4 1333.3,488.0 1334.5,488.8 1335.6,489.5 1336.9,489.3 1338.3,489.5 1339.7,489.8 1341.3,489.7 1342.9,489.6 1344.5,490.0 1346.2,489.2 1348.0,489.5 1349.7,489.3 1351.4,488.7 1353.1,488.7 1354.8,488.3 1356.3,489.0 1358.0,488.8 1359.7,488.4 1361.4,489.0 1363.2,488.5 1364.9,488.2 1366.7,488.3 1368.5,488.0 1370.2,488.0 1371.9,488.5 1373.6,488.6 1375.1,488.2 1376.6,489.2 1377.9,489.6 1379.1,489.9 1380.2,490.6 1381.2,491.5 1382.1,492.5 1382.8,493.8 1383.4,495.2 1383.9,496.7 1384.4,498.3 1384.8,499.9 1385.1,501.5 1385.5,503.1 1386.0,504.6 1386.4,506.1 1387.0,507.4 1387.7,508.9 1388.4,510.6 1389.1,512.3 1389.7,514.0 1390.4,515.6 1391.2,517.0 1392.0,517.7 1392.9,519.4 1393.8,518.9 1394.8,519.4 1395.9,519.1 1397.0,517.5 1398.3,516.8 1399.5,515.5 1400.8,514.6 1402.0,513.2 1403.3,511.5 1404.5,510.4 1405.6,509.5 1406.9,507.7 1408.1,506.7 1409.3,506.3 1410.5,505.7 1411.7,504.6 1412.9,503.8 1414.1,502.1 1415.2,501.1 1416.4,499.7 1417.5,498.7 1418.7,497.6 1419.8,495.5 1421.0,494.6 1422.1,493.7 1423.2,493.2 1424.3,492.8 1425.2,493.3 1426.0,493.8 1426.8,495.6 1427.6,497.2 1428.4,499.0 1429.2,500.9 1429.9,502.8 1430.7,504.6 1431.6,506.2 1432.5,508.0 1433.4,508.4 1434.4,509.5 1435.6,508.7 1436.9,508.9 1438.2,507.8 1439.6,507.6 1441.1,505.7 1442.5,505.3 1443.9,504.0 1445.4,502.5 1446.7,501.1 1448.0,500.9 1449.4,500.1 1450.7,499.3 1451.9,498.4 1453.2,497.7 1454.5,496.7 1455.9,496.3 1457.5,496.2 1458.7,495.4 1460.1,495.2 1461.6,495.2 1463.1,494.9 1464.8,495.8 1466.4,495.3 1468.1,495.2 1469.9,495.7 1471.6,496.1 1473.2,496.8 1474.8,496.6 1476.4,497.5 1477.8,497.9 1479.1,498.4 1480.3,498.5 1481.8,499.4 1483.0,500.3 1484.1,501.7 1485.1,502.8 1486.2,503.4 1487.4,504.7 1489.0,505.9 1490.1,505.7 1491.4,506.2 1492.8,506.4 1494.3,506.2 1495.9,506.1 1497.5,505.5 1499.2,505.4 1501.0,505.5 1502.8,504.8 1504.6,504.7 1506.4,503.9 1508.2,504.1 1509.9,503.9 1511.6,503.4 1513.2,503.6 1514.8,503.4 1516.2,504.4 1517.6,503.8 1518.8,504.8 1520.3,505.1 1521.6,506.8 1522.9,507.8 1524.0,508.7 1525.1,509.8 1526.1,511.0 1527.1,512.8 1528.0,514.0 1529.0,515.2 1530.0,517.2 1531.0,517.9 1532.3,518.7 1533.6,520.5 1534.9,521.7 1536.1,523.4 1537.3,524.2 1538.6,524.3 1539.8,525.0 1540.9,524.7 1542.1,523.8 1543.2,522.9 1544.3,521.5 1545.4,519.9 1546.5,518.6 1547.5,517.9 1548.5,515.6 1549.3,514.7 1550.1,513.2 1550.7,511.7 1551.3,510.1 1552.0,508.5 1552.6,507.1 1553.4,505.8 1554.4,504.3 1555.5,504.1 1556.7,503.7 1558.2,503.0 1559.7,503.4 1561.4,503.3 1563.1,504.2 1564.9,503.9 1566.7,504.4 1568.4,504.9 1570.1,504.9 1571.6,504.9 1573.0,504.2 1574.3,504.1 1575.4,502.5 1576.5,501.2 1577.4,500.3 1578.4,498.8 1579.3,497.3 1580.2,496.1 1581.2,494.3 1582.3,493.2 1583.5,492.5 1584.9,491.4 1586.3,490.7 1587.8,490.6 1589.4,489.4 1590.9,489.5 1592.5,488.7 1594.2,488.4 1595.8,488.6 1597.5,488.3 1599.0,487.4 1600.6,487.3 1602.2,487.5 1603.8,487.6 1605.5,487.6 1607.1,487.9 1608.8,487.7 1610.4,487.5 1612.0,488.1 1613.5,487.9 1615.0,487.4 1616.5,486.9 1618.0,486.2 1619.6,485.0 1621.0,483.8 1622.5,482.2 1623.9,481.3 1625.2,480.8 1626.6,479.9 1627.8,479.8 1629.0,478.8 1630.5,479.7 1631.9,480.5 1633.2,482.0 1634.5,483.1 1636.0,483.8 1637.0,483.6 1638.0,482.9 1639.0,481.7 1640.0,480.6 1641.1,479.5 1642.2,478.1 1643.3,476.1 1644.5,475.3 1645.8,473.9 1647.1,472.6 1648.5,471.4 1650.0,470.5 1651.2,469.8 1652.5,469.3 1653.8,469.1 1655.2,468.8 1656.7,468.9 1658.2,469.6 1659.8,469.2 1661.4,468.6 1663.0,469.5 1664.6,468.8 1666.3,469.2 1667.9,469.5 1669.6,469.3 1671.2,470.0 1672.8,469.7 1674.4,469.9 1676.0,470.2 1677.5,469.7 1678.9,470.1 1680.3,470.0 1681.6,469.6 1683.4,469.1 1685.1,469.4 1686.8,468.3 1688.4,467.7 1689.9,467.4 1691.5,466.4 1693.0,466.2 1694.5,465.6 1696.0,465.5 1697.5,464.9 1699.0,464.8 1700.5,465.7 1701.9,465.7 1703.3,466.1 1704.7,466.9 1706.0,468.3 1707.4,469.3 1708.8,470.1 1710.2,470.2 1711.7,470.8 1713.2,471.3 1714.8,471.8 1716.1,471.6 1717.5,471.5 1718.9,470.5 1720.3,470.6 1721.8,470.3 1723.3,469.4 1724.8,469.0 1726.3,468.0 1727.8,468.1 1729.3,467.2 1730.9,466.1 1732.4,466.0 1733.9,465.5 1735.5,464.4 1737.0,464.1 1738.5,463.2 1740.0,462.6" fill="none" stroke="#FF40B0" stroke-width="12.3" stroke-linejoin="round" stroke-linecap="butt"/>
<polyline points="146.8,347.5 148.3,347.4 149.9,347.7 151.4,348.8 152.9,347.4 154.4,347.5 156.0,347.8 157.5,346.6 159.1,347.6 160.6,347.9 162.1,348.4 163.7,346.4 165.2,347.0 166.8,346.4 168.3,348.5 169.8,348.2 171.4,346.3 172.9,349.1 174.4,349.0 176.0,348.1 177.5,348.0 179.0,346.6 180.5,346.2 182.1,347.7 183.6,346.3 185.1,346.7 186.6,346.8 188.1,346.2 189.6,347.5 191.0,347.4 192.5,348.6 194.0,347.6 195.6,347.9 197.2,347.4 198.7,347.9 200.3,347.2 201.9,346.6 203.5,348.7 205.0,348.7 206.6,348.1 208.2,347.7 209.8,346.5 211.3,346.1 212.9,346.2 214.4,345.5 216.0,347.5 217.5,346.4 219.1,347.6 220.6,346.2 222.1,347.8 223.6,347.4 225.1,344.8 226.5,345.3 228.0,347.4 229.4,346.0 230.8,347.4 232.2,345.6 233.6,344.5 235.0,346.1 236.6,346.4 238.2,344.8 239.8,344.1 241.4,344.7 242.9,346.5 244.4,345.7 245.9,343.6 247.4,343.9 248.9,343.3 250.3,343.0 251.8,345.1 253.2,343.1 254.7,344.1 256.1,343.7 257.6,342.8 259.0,344.3 260.5,342.4 262.0,343.8 263.5,342.2 265.0,343.0 266.5,342.3 268.0,342.4 269.5,344.4 271.0,343.8 272.5,342.3 274.0,343.9 275.5,341.9 277.0,342.4 278.5,343.7 280.0,343.0 281.5,341.4 283.0,344.1 284.5,341.7 286.0,341.9 287.5,343.5 289.0,342.2 290.5,342.2 292.0,341.6 293.5,341.8 295.0,343.4 296.5,342.5 298.0,343.8 299.5,343.3 301.0,343.7 302.5,345.5 304.0,344.2 305.5,344.7 307.0,345.8 308.5,343.9 310.0,344.0 311.5,346.4 313.0,346.2 314.5,344.6 316.0,344.5 317.5,346.1 319.0,346.8 320.5,344.5 322.0,346.7 323.5,346.5 325.0,345.6 326.5,345.0 328.0,343.9 329.5,343.6 331.0,346.3 332.5,344.0 334.0,345.3 335.5,343.9 337.0,345.5 338.5,344.7 340.0,343.8 341.5,343.4 343.0,345.0 344.5,343.0 346.0,343.5 347.5,344.5 349.1,345.4 350.6,344.7 352.2,343.8 353.7,345.8 355.2,343.7 356.8,343.2 358.3,344.0 359.8,344.5 361.3,343.4 362.8,343.8 364.3,344.4 365.7,344.9 367.2,343.6 368.6,344.2 370.0,345.7 371.6,345.8 373.2,344.6 374.8,344.5 376.4,343.9 377.9,342.3 379.4,341.6 380.9,341.8 382.4,343.1 383.9,342.4 385.4,342.6 386.9,340.5 388.5,341.3 390.0,340.8 391.5,341.0 392.9,340.0 394.4,341.0 395.9,339.1 397.4,339.7 398.9,339.8 400.4,339.9 401.9,339.4 403.4,339.1 404.8,339.0 406.3,338.9 407.8,337.5 409.2,337.8 410.7,337.7 412.2,337.2 413.6,335.8 415.1,335.9 416.6,335.4 418.0,334.2 419.4,333.6 420.9,332.5 422.3,332.2 423.8,331.5 425.2,329.9 426.6,330.2 428.1,330.2 429.5,329.4 431.0,328.6 432.5,327.5 434.1,327.6 435.6,326.8 437.1,326.1 438.6,326.3 440.2,324.5 441.7,325.3 443.3,323.6 444.8,324.2 446.3,323.6 447.9,322.8 449.4,323.2 451.0,322.5 452.6,322.3 454.1,322.5 455.7,321.0 457.3,320.2 458.9,320.3 460.5,320.7 462.1,319.5 463.6,319.1 465.2,320.2 466.8,319.5 468.4,318.9 470.0,319.5 471.6,318.4 473.2,318.9 474.7,318.0 476.3,318.4 477.9,319.0 479.5,319.2 481.0,319.2 482.6,318.4 484.2,318.8 485.8,318.4 487.3,318.2 488.9,319.0 490.4,319.8 492.0,320.0 493.6,320.0 495.1,320.7 496.6,319.7 498.2,319.9 499.7,320.7 501.2,320.7 502.8,321.0 504.3,321.7 505.8,322.5 507.4,322.7 508.9,322.7 510.5,324.0 512.0,324.7 513.5,324.1 514.9,323.7 516.4,324.0 517.9,325.9 519.3,324.7 520.8,326.3 522.3,326.4 523.8,326.3 525.2,327.6 526.7,326.5 528.2,327.1 529.7,328.1 531.1,327.7 532.6,329.5 534.1,328.8 535.5,329.0 537.0,329.2 538.4,330.7 539.9,330.7 541.4,331.5 542.8,331.9 544.3,332.6 545.7,333.2 547.2,333.1 548.6,332.6 550.1,333.5 551.5,333.4 553.0,333.4 554.5,334.6 556.1,335.4 557.6,334.8 559.2,335.3 560.7,335.8 562.2,336.8 563.8,336.8 565.3,337.3 566.8,337.9 568.4,337.7 569.9,338.7 571.5,339.3 573.0,338.3 574.5,340.2 576.0,340.2 577.4,339.6 578.9,340.6 580.4,341.3 581.9,342.3 583.4,341.8 584.9,342.5 586.4,343.6 587.9,343.9 589.3,344.6 590.8,344.2 592.2,344.9 593.6,344.6 595.2,346.0 596.8,346.7 598.3,346.8 599.9,347.5 601.5,347.0 603.0,348.8 604.5,349.4 605.9,349.9 607.3,349.6 608.7,350.5 610.0,350.2 611.8,351.9 613.5,352.4 615.1,352.0 616.6,352.2 618.1,353.6 619.4,354.8 620.5,356.3 621.4,357.1 622.2,358.5 623.0,360.0 623.8,361.5 624.7,363.4 625.6,363.4 626.7,364.8 627.9,366.7 629.1,366.4 630.3,367.2 631.7,368.6 633.1,369.5 634.6,370.1 636.2,370.2 637.8,370.9 639.4,370.5 641.0,371.3 642.6,371.0 644.3,371.5 646.0,372.3 647.6,372.7 649.0,373.9 650.2,374.9 650.9,375.8 651.4,377.0 651.9,378.4 652.2,379.9 652.4,381.4 652.6,383.1 652.8,384.8 652.9,386.6 653.1,388.4 653.3,390.2 653.5,391.5 653.6,393.0 653.8,394.4 653.9,396.0 654.0,397.6 654.1,399.2 654.2,400.9 654.2,402.5 654.3,404.2 654.4,405.9 654.5,407.6 654.6,409.3 654.7,410.9 654.8,412.6 654.9,414.2 655.0,415.7 655.2,417.2 655.3,418.6 655.5,420.0 655.8,421.8 656.1,423.6 656.4,425.3 656.7,427.0 657.1,428.6 657.4,430.1 657.8,431.7 658.2,433.1 658.6,434.6 659.0,436.0 659.5,437.6 660.1,439.1 660.7,440.5 661.3,441.9 661.9,443.3 662.5,444.6 663.0,446.0 663.6,447.5 664.1,448.9 664.6,450.3 665.1,451.8 665.6,453.3 666.0,455.0 666.3,456.4 666.6,457.8 666.8,459.3 667.0,460.9 667.2,462.5 667.5,464.1 667.6,465.8 667.8,467.5 668.0,469.2 668.2,470.9 668.4,472.6 668.6,474.0 668.7,475.5 668.9,476.9 669.1,478.3 669.2,479.8 669.4,481.2 669.5,482.7 669.7,484.2 669.8,485.7 669.9,487.2 670.1,488.8 670.2,490.4 670.4,492.0 670.5,493.6 670.6,495.0 670.7,496.5 670.8,498.0 670.9,499.5 671.0,501.1 671.1,502.7 671.1,504.3 671.2,505.9 671.3,507.5 671.4,509.2 671.4,510.8 671.5,512.5 671.6,514.1 671.7,515.7 671.8,517.3 671.9,518.9 672.1,520.5 672.2,522.0 672.3,523.5 672.5,525.0 672.7,526.7 672.9,528.5 673.1,530.4 673.4,532.4 673.6,534.4 673.9,536.4 674.2,538.3 674.4,540.2 674.7,542.0 675.0,543.7 675.3,545.2 675.5,546.5 675.8,547.5 676.0,548.3 676.3,549.3 676.5,548.6 676.7,548.8 676.9,548.3 677.1,547.5 677.4,546.4 677.6,545.1 677.8,543.7 678.0,542.0 678.2,540.2 678.4,538.3 678.5,536.3 678.7,534.4 678.9,532.4 679.1,530.4 679.2,528.5 679.4,526.7 679.5,525.0 679.6,523.5 679.7,522.0 679.8,520.5 679.9,518.9 679.9,517.3 680.0,515.7 680.0,514.1 680.1,512.4 680.1,510.8 680.2,509.2 680.2,507.5 680.2,505.9 680.3,504.3 680.3,502.7 680.4,501.1 680.4,499.5 680.5,498.0 680.6,496.5 680.7,495.0 680.8,493.6 680.9,492.0 681.1,490.4 681.3,488.8 681.5,487.3 681.6,485.8 681.8,484.3 682.0,482.8 682.2,481.4 682.5,479.9 682.7,478.5 682.9,477.0 683.0,475.6 683.2,474.1 683.4,472.6 683.6,471.1 683.7,469.6 683.9,468.2 684.0,466.7 684.2,465.2 684.3,463.8 684.5,462.3 684.6,460.8 684.8,459.4 684.9,457.8 685.0,456.3 685.2,454.7 685.3,453.1 685.5,451.5 685.6,450.1 685.8,448.7 685.9,447.3 686.0,445.8 686.2,444.3 686.3,442.8 686.4,441.3 686.5,439.8 686.7,438.2 686.8,436.7 687.0,435.1 687.1,433.5 687.2,432.0 687.4,430.4 687.5,428.9 687.7,427.3 687.8,425.8 687.9,424.3 688.1,422.9 688.2,421.4 688.4,420.0 688.6,418.4 688.7,416.8 688.9,415.2 689.1,413.7 689.2,412.1 689.4,410.5 689.6,409.0 689.7,407.5 689.9,406.0 690.1,404.5 690.3,403.0 690.5,401.6 690.7,400.2 691.0,398.7 691.2,397.4 691.5,396.0 691.9,394.2 692.2,392.4 692.6,390.4 693.0,388.4 693.5,386.5 693.9,384.6 694.4,383.0 694.9,381.6 695.4,380.5 695.9,380.0 696.5,379.0 697.3,380.1 698.2,380.8 699.1,381.2 700.1,383.1 701.0,384.9 701.9,386.7 702.6,388.6 703.0,389.7 703.3,390.8 703.6,392.0 703.8,393.3 704.0,394.7 704.2,396.1 704.4,397.5 704.6,399.0 704.7,400.6 704.8,402.1 705.0,403.8 705.1,405.4 705.2,407.0 705.3,408.7 705.4,410.3 705.4,412.0 705.5,413.6 705.6,415.2 705.8,416.9 705.9,418.4 706.0,420.0 706.1,421.5 706.3,423.0 706.4,424.5 706.5,426.0 706.6,427.5 706.7,429.0 706.8,430.5 706.9,432.1 707.0,433.6 707.1,435.1 707.2,436.7 707.3,438.2 707.4,439.8 707.5,441.3 707.6,442.8 707.7,444.4 707.8,445.9 707.9,447.4 708.0,449.0 708.2,450.5 708.3,452.0 708.4,453.5 708.5,455.0 708.6,456.6 708.8,458.3 708.9,460.1 709.0,462.0 709.1,463.9 709.3,465.9 709.4,467.9 709.5,469.9 709.7,471.8 709.8,473.8 710.0,475.7 710.1,477.5 710.2,479.3 710.4,480.9 710.5,482.4 710.7,483.8 710.8,485.0 710.9,486.0 711.1,486.9 711.2,487.5 711.4,487.9 711.5,488.3 711.6,487.9 711.8,487.5 711.9,486.8 712.1,486.0 712.2,484.9 712.3,483.7 712.5,482.3 712.6,480.8 712.8,479.1 712.9,477.4 713.0,475.5 713.2,473.6 713.3,471.7 713.5,469.7 713.6,467.7 713.7,465.7 713.9,463.7 714.0,461.8 714.1,460.0 714.2,458.2 714.4,456.5 714.5,455.0 714.6,453.5 714.7,451.9 714.9,450.4 715.0,448.9 715.1,447.4 715.2,445.8 715.3,444.3 715.4,442.8 715.5,441.3 715.6,439.8 715.8,438.3 715.9,436.8 716.0,435.3 716.1,433.8 716.2,432.4 716.3,430.9 716.4,429.4 716.5,427.9 716.7,426.5 716.8,425.0 716.9,423.5 717.1,421.9 717.2,420.4 717.4,418.9 717.5,417.5 717.6,416.0 717.8,414.5 717.9,413.0 718.1,411.5 718.2,410.1 718.4,408.6 718.6,407.1 718.7,405.6 718.9,404.1 719.1,402.6 719.2,401.0 719.4,399.5 719.6,397.9 719.8,396.4 719.9,394.9 720.1,393.4 720.3,391.8 720.4,390.2 720.6,388.6 720.8,387.0 721.0,385.3 721.1,383.7 721.3,382.1 721.5,380.4 721.7,378.8 721.9,377.2 722.1,375.6 722.3,374.0 722.6,372.5 722.8,371.0 723.1,369.5 723.3,368.0 723.6,366.6 723.9,365.3 724.2,364.0 724.6,362.3 725.0,360.7 725.5,359.1 725.9,357.5 726.4,356.0 726.8,354.5 727.3,353.0 727.9,351.7 728.4,350.4 729.1,349.2 729.7,348.0 730.4,347.2 731.5,345.8 732.7,344.6 734.0,342.9 735.4,342.3 736.7,341.5 738.1,341.3 739.6,341.4 741.0,342.3 742.5,343.3 744.1,344.2 745.8,344.1 747.0,343.8 748.3,343.7 749.6,343.3 750.9,342.1 752.3,341.3 753.8,340.2 755.2,340.2 756.7,339.9 758.2,338.4 759.7,337.6 761.2,337.4 762.7,337.6 764.2,337.5 765.8,338.6 767.4,337.6 769.1,338.2 770.7,338.3 772.3,339.5 773.9,340.1 775.5,339.6 777.1,339.8 778.6,340.6 780.0,341.0 781.7,341.6 783.4,340.4 785.1,340.5 786.7,340.6 788.3,340.7 789.8,340.8 791.3,341.7 792.6,341.8 794.1,342.1 795.4,343.1 796.6,344.3 797.8,345.1 799.4,346.6 800.7,346.1 802.0,346.5 803.4,346.8 804.9,346.1 806.5,345.5 808.1,346.0 809.8,345.7 811.6,344.5 813.4,344.3 815.2,344.5 816.4,343.6 817.7,343.0 819.0,342.5 820.3,343.4 821.7,342.9 823.1,342.0 824.6,341.8 826.0,341.4 827.5,340.7 829.0,341.3 830.5,340.5 832.1,339.5 833.6,338.8 835.2,339.1 836.7,338.5 838.3,338.7 839.8,338.3 841.4,337.7 842.9,336.8 844.5,336.4 846.0,336.3 847.5,335.9 849.0,336.5 850.5,335.7 852.1,335.7 853.7,335.9 855.3,334.6 856.9,334.8 858.5,334.0 860.2,334.7 861.8,333.4 863.4,334.3 865.0,334.2 866.7,334.0 868.3,332.7 869.8,332.8 871.4,333.3 873.0,332.2 874.5,332.6 876.0,332.4 877.4,332.9 878.9,332.2 880.3,332.4 881.6,331.4 882.9,331.9 884.7,331.1 886.3,331.5 887.9,330.1 889.5,330.9 891.0,329.7 892.4,329.9 893.9,329.6 895.4,328.9 896.9,329.6 898.4,328.6 900.0,328.3 901.5,327.8 903.1,327.9 904.7,327.9 906.3,328.0 908.0,327.3 909.6,327.6 911.3,326.6 912.9,326.8 914.5,326.7 916.1,327.2 917.7,326.8 919.2,326.4 920.7,325.3 922.4,325.6 924.1,325.9 925.8,325.1 927.4,325.4 929.0,325.1 930.6,324.2 932.1,325.4 933.6,324.8 935.0,323.6 936.5,323.6 937.9,322.5 939.2,321.9 940.5,321.3 941.9,320.3 943.3,319.7 945.0,319.3 946.2,319.5 947.5,318.8 948.9,318.6 950.4,319.3 951.9,318.8 953.4,319.7 955.0,319.2 956.6,319.5 958.2,319.1 959.8,319.9 961.5,319.0 963.1,319.2 964.8,319.2 966.4,320.1 968.0,320.2 969.4,319.5 970.8,319.8 972.3,320.5 973.7,320.2 975.1,319.5 976.5,319.8 977.9,319.8 979.3,319.8 980.7,320.3 982.2,320.0 983.6,320.8 985.2,320.4 986.7,320.5 988.3,320.6 989.9,320.7 991.5,320.8 993.2,320.4 995.0,320.4 996.2,320.4 997.5,320.0 998.8,320.3 1000.1,320.5 1001.5,320.7 1002.9,320.4 1004.2,320.2 1005.7,320.1 1007.1,319.6 1008.6,319.7 1010.1,319.6 1011.6,319.8 1013.1,319.2 1014.6,319.3 1016.2,319.3 1017.7,319.4 1019.3,319.3 1020.9,319.0 1022.4,318.5 1024.0,318.9 1025.6,318.9 1027.2,318.5 1028.8,318.2 1030.5,318.2 1032.1,317.8 1033.7,318.2 1035.3,318.3 1036.9,317.8 1038.5,317.8 1040.1,317.8 1041.7,317.2 1043.3,317.7 1044.8,317.4 1046.4,317.0 1047.9,316.8 1049.5,316.9 1051.0,317.1 1052.5,317.2 1054.0,316.9 1055.5,317.3 1057.1,316.9 1058.6,316.9 1060.1,316.7 1061.7,317.4 1063.2,316.7 1064.8,317.4 1066.3,317.1 1067.8,317.1 1069.4,317.2 1070.9,317.0 1072.4,317.6 1074.0,317.7 1075.5,317.6 1077.0,317.5 1078.6,317.2 1080.1,317.8 1081.6,317.4 1083.1,318.0 1084.6,317.5 1086.1,317.9 1087.6,318.1 1089.1,317.7 1090.6,318.0 1092.1,317.7 1093.6,317.7 1095.1,317.9 1096.5,318.6 1098.0,318.6 1099.5,318.4 1100.9,318.2 1102.3,318.5 1103.8,318.6 1105.2,318.3 1106.6,318.5 1108.0,318.6 1109.6,318.0 1111.2,318.1 1112.8,318.3 1114.4,318.0 1115.9,318.1 1117.5,318.2 1119.0,317.9 1120.6,318.1 1122.1,317.8 1123.6,318.0 1125.1,317.7 1126.6,317.9 1128.1,317.3 1129.6,317.7 1131.1,317.2 1132.6,317.8 1134.1,317.4 1135.5,317.3 1137.0,317.1 1138.5,317.3 1140.0,317.3 1141.5,317.3 1143.0,317.2 1144.5,317.0 1146.0,317.4 1147.5,317.3 1149.0,317.3 1150.5,316.9 1152.1,317.0 1153.6,317.1 1155.2,317.4 1156.8,317.2 1158.4,317.2 1160.0,317.2 1161.6,317.7 1163.2,317.3 1164.8,317.1 1166.4,317.7 1168.0,318.0 1169.6,317.9 1171.2,317.9 1172.8,318.1 1174.4,317.9 1175.9,318.2 1177.4,317.9 1178.9,318.1 1180.4,318.4 1181.9,318.6 1183.3,318.6 1184.7,318.5 1186.1,319.1 1187.4,319.1 1188.7,319.1 1190.0,319.2 1191.8,319.5 1193.5,319.6 1195.1,319.6 1196.7,320.5 1198.3,320.7 1199.8,320.7 1201.2,321.1 1202.7,321.0 1204.1,321.5 1205.6,321.4 1207.0,322.2 1208.5,322.4 1210.0,323.1 1211.5,323.0 1213.1,324.1 1214.7,324.2 1216.3,325.1 1218.0,326.2 1219.6,326.1 1221.2,327.1 1222.8,327.9 1224.3,328.6 1225.7,329.2 1227.0,330.5 1228.1,331.2 1229.2,331.5 1230.0,332.1 1231.6,333.8 1232.8,335.7 1233.4,336.6 1234.0,337.7 1234.6,338.9 1235.3,340.2 1236.0,341.6 1236.8,343.1 1237.5,344.7 1238.2,346.3 1238.9,347.9 1239.6,349.6 1240.2,351.2 1240.8,352.8 1241.3,354.4 1241.7,355.9 1242.1,357.4 1242.4,358.9 1242.7,360.4 1243.0,361.9 1243.3,363.5 1243.5,365.1 1243.7,366.7 1243.9,368.3 1244.1,369.9 1244.3,371.5 1244.4,373.1 1244.6,374.7 1244.8,376.4 1245.0,378.0 1245.2,379.5 1245.3,380.9 1245.5,382.4 1245.6,383.9 1245.8,385.5 1245.9,387.0 1246.1,388.5 1246.2,390.1 1246.3,391.6 1246.4,393.2 1246.6,394.7 1246.7,396.2 1246.8,397.7 1246.9,399.2 1247.0,400.7 1247.1,402.2 1247.2,403.6 1247.3,405.0 1247.4,406.6 1247.5,408.2 1247.6,409.8 1247.7,411.4 1247.8,412.9 1247.9,414.4 1248.0,415.9 1248.1,417.4 1248.2,418.9 1248.3,420.4 1248.4,421.9 1248.4,423.5 1248.5,425.0 1248.6,426.5 1248.6,428.0 1248.7,429.4 1248.7,430.9 1248.7,432.4 1248.8,433.9 1248.8,435.4 1248.8,436.9 1248.9,438.4 1248.9,439.9 1249.0,441.4 1249.0,442.9 1249.1,444.5 1249.2,446.0 1249.3,447.5 1249.4,448.9 1249.5,450.4 1249.6,451.8 1249.8,453.3 1249.9,454.8 1250.1,456.2 1250.2,457.7 1250.4,459.2 1250.5,460.7 1250.7,462.2 1250.8,463.8 1250.9,465.3 1251.1,466.9 1251.2,468.4 1251.3,470.0 1251.4,471.4 1251.5,472.9 1251.6,474.4 1251.6,475.9 1251.7,477.4 1251.8,478.9 1251.8,480.4 1251.9,482.0 1252.0,483.5 1252.0,485.1 1252.1,486.6 1252.1,488.2 1252.2,489.7 1252.2,491.2 1252.3,492.7 1252.4,494.2 1252.4,495.7 1252.5,497.2 1252.5,498.6 1252.6,500.0 1252.7,501.7 1252.8,503.4 1252.8,505.0 1252.9,506.7 1252.9,508.3 1253.0,510.0 1253.1,511.6 1253.2,513.2 1253.2,514.7 1253.3,516.2 1253.4,517.7 1253.5,519.2 1253.7,520.6 1253.8,522.0 1254.0,524.0 1254.3,526.1 1254.5,528.3 1254.8,530.3 1255.1,532.2 1255.4,533.7 1255.7,534.6 1256.0,534.6 1256.3,534.6 1256.6,533.7 1256.9,532.2 1257.2,530.3 1257.5,528.3 1257.8,526.1 1258.1,524.0 1258.3,522.0 1258.4,520.6 1258.6,519.2 1258.7,517.7 1258.8,516.2 1258.9,514.7 1258.9,513.2 1259.0,511.6 1259.1,510.0 1259.1,508.3 1259.2,506.7 1259.2,505.0 1259.3,503.4 1259.3,501.7 1259.4,500.0 1259.5,498.6 1259.5,497.1 1259.6,495.7 1259.6,494.1 1259.6,492.6 1259.7,491.0 1259.7,489.4 1259.8,487.8 1259.8,486.2 1259.8,484.6 1259.9,483.1 1259.9,481.5 1260.0,479.9 1260.0,478.4 1260.1,476.9 1260.1,475.4 1260.2,474.0 1260.2,472.6 1260.3,471.3 1260.4,470.0 1260.5,468.3 1260.6,466.7 1260.8,465.2 1260.9,463.8 1261.0,462.4 1261.2,461.0 1261.4,459.6 1261.5,458.2 1261.8,456.6 1262.0,455.0 1262.2,453.5 1262.5,451.8 1262.7,450.0 1263.0,448.0 1263.3,446.0 1263.6,443.9 1263.9,441.8 1264.2,439.8 1264.5,437.8 1264.9,436.0 1265.2,434.4 1265.6,432.9 1265.9,431.7 1266.3,430.8 1266.6,430.4 1267.0,430.4 1267.4,430.0 1267.8,431.2 1268.2,432.5 1268.7,434.3 1269.1,436.3 1269.6,438.4 1270.0,440.6 1270.4,442.7 1270.9,444.7 1271.3,446.4 1271.7,447.8 1272.1,448.7 1272.5,448.8 1272.9,448.6 1273.3,448.0 1273.6,446.9 1274.0,445.5 1274.3,443.8 1274.7,441.9 1275.0,439.9 1275.3,437.8 1275.6,435.7 1275.9,433.6 1276.2,431.7 1276.5,430.0 1276.7,428.5 1277.0,426.9 1277.2,425.3 1277.4,423.7 1277.6,422.1 1277.8,420.5 1278.0,418.9 1278.2,417.4 1278.3,415.8 1278.5,414.3 1278.7,412.8 1278.8,411.4 1279.0,410.0 1279.2,408.4 1279.4,406.8 1279.6,405.4 1279.8,404.0 1279.9,402.5 1280.1,401.1 1280.3,399.6 1280.5,398.0 1280.7,396.6 1280.8,395.2 1280.9,393.8 1281.0,392.3 1281.2,390.8 1281.3,389.2 1281.5,387.7 1281.6,386.1 1281.8,384.6 1282.0,383.0 1282.3,381.5 1282.6,380.0 1282.9,378.5 1283.3,377.0 1283.7,375.5 1284.1,374.0 1284.5,372.5 1285.0,370.9 1285.5,369.4 1286.0,368.0 1286.5,366.5 1287.0,365.1 1287.6,363.7 1288.1,362.4 1288.7,361.2 1289.4,359.7 1290.2,358.3 1291.0,356.9 1291.8,355.5 1292.7,354.1 1293.6,353.1 1294.5,351.8 1295.5,350.7 1296.8,349.9 1298.3,349.2 1299.8,348.2 1301.4,348.0 1302.8,346.7 1304.0,345.5 1304.8,344.7 1305.5,343.2 1306.0,341.6 1306.4,339.9 1306.9,338.2 1307.5,336.6 1308.2,335.2 1309.1,333.5 1310.3,333.0 1311.7,332.2 1313.2,331.3 1314.8,331.2 1316.5,330.4 1318.1,330.3 1319.6,329.8 1320.9,329.0 1322.2,327.7 1323.3,326.2 1324.4,324.5 1325.4,323.4 1326.5,323.0 1327.7,322.3 1328.8,322.2 1329.9,323.4 1331.1,324.0 1332.2,325.6 1333.5,327.2 1334.8,329.0 1336.3,329.6 1337.9,330.8 1339.1,331.6 1340.3,331.8 1341.7,332.0 1343.1,332.2 1344.6,332.2 1346.2,332.4 1347.8,332.4 1349.4,333.0 1351.0,333.2 1352.7,332.8 1354.3,333.4 1355.9,332.6 1357.5,332.8 1359.1,333.3 1360.5,333.3 1362.0,333.6 1363.3,334.5 1365.0,334.0 1366.7,334.5 1368.4,334.9 1370.1,335.7 1371.7,335.7 1373.2,336.0 1374.7,337.0 1376.0,337.5 1377.3,338.0 1378.5,339.1 1379.7,340.2 1380.7,341.2 1381.7,342.4 1382.5,343.5 1383.3,344.8 1384.0,346.2 1384.7,347.7 1385.3,349.3 1385.7,350.5 1386.0,351.7 1386.3,353.0 1386.6,354.4 1386.8,355.8 1387.0,357.3 1387.2,358.8 1387.4,360.4 1387.5,362.0 1387.6,363.6 1387.8,365.2 1387.9,366.8 1388.0,368.4 1388.2,370.0 1388.3,371.6 1388.5,373.2 1388.7,374.7 1388.9,376.3 1389.1,378.0 1389.3,379.8 1389.5,381.7 1389.6,383.7 1389.8,385.6 1390.0,387.6 1390.1,389.6 1390.3,391.5 1390.5,393.4 1390.7,395.1 1391.0,396.7 1391.2,398.1 1391.5,399.4 1391.8,400.4 1392.1,401.2 1392.5,401.5 1392.9,402.0 1393.5,402.1 1394.2,401.0 1394.8,400.0 1395.6,398.6 1396.4,396.9 1397.2,395.1 1398.0,393.2 1398.8,391.4 1399.7,389.7 1400.6,388.3 1401.5,387.0 1402.4,385.5 1403.4,384.3 1404.4,382.8 1405.4,381.6 1406.4,380.2 1407.5,378.3 1408.5,377.6 1409.6,377.1 1410.7,376.1 1412.4,376.0 1414.1,376.5 1415.9,377.8 1417.6,378.7 1419.2,378.6 1420.1,377.0 1420.9,376.2 1421.7,374.7 1422.4,373.0 1423.1,371.0 1423.8,369.0 1424.4,367.1 1425.1,365.3 1425.7,363.7 1426.3,362.4 1427.0,361.1 1427.7,361.0 1428.5,361.8 1429.3,362.6 1430.0,364.2 1430.8,366.0 1431.6,367.8 1432.5,369.5 1433.4,370.7 1434.4,371.2 1435.5,371.0 1436.7,370.9 1438.0,369.9 1439.4,368.1 1440.8,366.9 1442.2,365.7 1443.6,364.7 1445.0,363.9 1446.3,362.7 1447.9,362.7 1449.5,362.4 1451.1,362.7 1452.7,362.3 1454.2,362.7 1455.8,363.1 1457.1,364.5 1458.4,364.4 1459.7,365.5 1461.0,366.0 1462.3,367.1 1463.6,367.9 1465.0,369.5 1466.3,370.1 1467.4,371.6 1468.4,372.3 1469.5,373.5 1470.6,375.1 1471.7,376.4 1472.8,377.6 1473.9,378.8 1475.0,380.1 1476.1,382.1 1477.2,382.5 1478.2,383.1 1479.3,383.8 1480.3,384.5 1481.8,384.9 1483.2,383.5 1484.7,383.2 1486.1,381.9 1487.5,381.1 1489.0,381.3 1490.3,381.3 1491.5,381.7 1492.7,383.3 1494.0,384.6 1495.3,385.7 1496.6,386.5 1498.0,388.0 1499.5,388.4 1500.8,388.5 1502.1,387.7 1503.5,387.7 1504.9,387.0 1506.4,385.7 1507.9,384.8 1509.4,384.2 1511.0,383.5 1512.5,382.9 1514.0,382.7 1515.5,383.0 1517.0,382.6 1518.2,383.2 1519.5,383.3 1520.8,384.3 1522.1,386.1 1523.5,386.3 1524.8,388.1 1526.1,389.7 1527.4,391.1 1528.7,392.4 1530.0,393.4 1531.3,395.0 1532.5,396.2 1533.7,397.1 1534.9,398.1 1536.0,397.8 1537.0,399.0 1538.0,398.4 1539.1,398.3 1540.2,397.2 1541.2,396.9 1542.1,394.8 1543.0,393.9 1543.9,392.4 1544.7,390.8 1545.5,389.1 1546.3,387.4 1547.0,385.8 1547.8,384.2 1548.5,382.8 1549.2,381.3 1549.8,379.7 1550.3,378.1 1550.8,376.4 1551.3,374.7 1551.8,373.0 1552.3,371.5 1552.9,370.1 1553.6,369.1 1554.5,367.8 1555.5,367.2 1556.7,366.2 1558.2,366.1 1559.8,366.3 1561.5,366.9 1563.3,367.5 1565.2,367.7 1567.0,368.7 1568.7,369.0 1570.3,369.1 1571.8,369.3 1573.0,369.3 1574.0,367.7 1574.8,366.8 1575.4,365.5 1576.0,363.9 1576.4,362.2 1576.8,360.5 1577.3,358.7 1577.8,357.0 1578.4,355.5 1579.1,354.1 1580.0,353.2 1581.2,351.7 1582.6,351.0 1584.0,350.8 1585.6,350.5 1587.2,349.5 1588.9,348.9 1590.6,348.7 1592.3,348.8 1594.0,347.4 1595.4,347.4 1596.8,346.5 1598.3,346.1 1599.8,345.0 1601.3,344.7 1602.8,344.2 1604.3,343.5 1605.9,342.7 1607.4,342.0 1608.9,341.6 1610.4,340.8 1611.9,341.2 1613.3,341.0 1614.8,340.8 1616.2,341.2 1617.7,341.3 1619.1,341.8 1620.5,342.1 1621.9,343.1 1623.3,343.7 1624.7,344.3 1626.1,344.4 1627.5,345.6 1629.0,345.9 1630.4,346.6 1631.9,347.2 1633.3,348.2 1634.8,348.0 1636.3,349.0 1637.7,350.2 1639.2,350.5 1640.7,350.7 1642.2,351.6 1643.6,352.2 1645.1,351.9 1646.5,352.5 1648.1,351.7 1649.7,352.4 1651.4,351.7 1653.0,351.1 1654.6,351.3 1656.2,350.6 1657.7,350.3 1659.3,349.5 1660.8,348.8 1662.3,347.8 1663.6,347.5 1664.9,345.7 1666.2,345.6 1667.4,344.4 1668.6,342.8 1669.8,342.3 1671.1,340.8 1672.3,339.9 1673.6,339.2 1674.9,337.7 1676.3,337.1 1677.8,336.9 1679.3,335.9 1680.8,336.0 1682.3,335.9 1683.9,335.4 1685.5,335.0 1687.2,335.3 1688.8,335.2 1690.5,334.8 1692.1,334.3 1693.8,334.2 1695.2,333.7 1696.5,332.5 1697.9,332.1 1699.3,331.2 1700.7,330.4 1702.1,330.0 1703.6,329.8 1705.0,329.1 1706.4,327.6 1707.9,327.0 1709.3,326.6 1710.8,326.6 1712.3,325.9 1713.7,325.8 1715.2,324.7 1716.6,325.5 1718.0,324.7 1719.5,325.2 1720.9,325.7 1722.4,325.9 1723.9,325.7 1725.3,326.6 1726.8,326.9 1728.3,327.0 1729.7,327.9 1731.2,328.5 1732.7,329.4 1734.1,329.7 1735.6,330.6 1737.1,331.2 1738.5,331.2 1740.0,332.0" fill="none" stroke="#8200E8" stroke-width="12.3" stroke-linejoin="round" stroke-linecap="butt"/>
<polyline points="146.8,128.9 148.3,128.9 149.9,129.0 151.5,129.0 153.2,128.5 154.8,128.4 156.5,128.7 158.3,128.6 160.0,129.1 161.8,128.9 163.6,128.8 165.4,128.7 167.2,128.8 169.1,128.2 170.9,128.5 172.8,128.2 174.7,128.9 176.6,128.0 178.4,128.7 180.3,127.9 182.2,128.5 184.1,128.1 186.0,128.1 187.9,128.5 189.8,127.6 191.6,127.6 193.5,128.4 195.3,128.0 197.1,127.5 198.9,128.4 200.7,128.3 202.5,127.5 204.2,127.7 206.0,127.4 207.7,127.6 209.3,127.9 210.9,127.4 212.5,127.9 214.1,127.3 215.6,127.4 217.1,128.1 218.6,127.6 220.0,127.7 221.3,127.9 222.6,127.8 223.9,127.7 225.1,127.4 226.3,128.1 227.4,128.4 228.4,128.5 229.4,128.3 230.3,128.0 231.2,128.1 232.0,128.5 232.7,128.6 233.4,128.1 233.9,128.4 234.5,128.6 234.9,128.9 236.0,130.0 237.0,130.5 237.7,130.2 238.6,131.1 239.6,130.8 240.8,130.9 242.2,130.6 243.7,130.8 245.3,130.7 247.0,131.0 248.8,130.3 250.6,130.6 252.5,130.1 254.4,130.5 256.3,129.8 258.2,129.9 260.1,129.9 261.9,130.1 263.7,129.5 265.4,129.8 267.0,129.6 268.5,129.7 269.8,130.0 271.1,130.6 272.1,130.3 273.0,131.0 274.9,131.3 276.2,133.3 277.8,133.8 279.1,133.8 280.6,134.4 282.2,134.4 283.9,133.3 285.6,133.4 287.3,133.9 289.0,133.7 290.4,134.0 291.7,134.3 293.1,134.9 294.5,136.2 295.9,137.3 297.3,138.2 298.7,138.6 300.0,139.1 301.3,140.5 302.6,142.1 303.6,143.1 304.5,144.0 305.4,144.8 306.3,146.4 307.1,147.7 308.0,149.1 308.8,150.5 309.6,151.9 310.4,153.4 311.2,154.9 312.0,156.4 312.8,157.8 313.6,159.2 314.4,160.6 315.2,161.9 316.0,163.2 316.9,164.7 317.8,165.5 318.7,166.9 319.6,168.2 320.5,169.8 321.4,171.1 322.3,171.8 323.1,173.7 324.0,174.4 324.9,175.4 325.8,176.7 326.6,178.4 327.5,179.1 328.5,180.4 329.5,181.9 330.4,183.2 331.4,184.2 332.4,185.0 333.3,186.2 334.3,187.6 335.4,188.5 336.5,189.3 337.8,190.0 339.1,190.9 340.5,192.0 341.9,192.6 343.3,192.8 344.8,194.3 346.3,195.4 347.8,196.3 348.8,197.2 349.9,198.1 351.0,198.6 352.1,199.9 353.2,200.5 354.4,201.3 355.5,202.6 356.7,203.7 357.8,205.4 359.0,206.3 360.2,207.3 361.3,208.5 362.5,209.2 363.6,210.7 364.8,212.0 365.9,212.8 367.0,213.7 368.1,214.9 369.1,215.9 370.2,217.4 371.3,217.9 372.4,219.0 373.5,220.3 374.6,221.8 375.6,223.0 376.7,224.0 377.8,225.4 378.8,225.9 379.9,226.6 380.9,228.1 382.0,229.0 383.0,229.7 384.0,231.2 385.3,232.0 386.5,233.1 387.7,234.4 388.8,236.1 390.0,236.3 391.2,237.7 392.3,238.7 393.6,239.6 394.8,240.7 396.1,241.3 397.5,242.7 398.9,242.9 400.2,243.5 401.7,243.3 403.2,243.9 404.7,244.2 406.2,244.6 407.7,244.2 409.3,244.5 410.9,245.1 412.5,245.3 414.0,245.0 415.6,245.7 417.0,246.4 418.3,246.6 419.7,247.5 421.1,248.1 422.5,249.2 424.0,249.5 425.4,250.4 426.8,250.8 428.3,251.9 429.7,252.2 431.1,253.0 432.5,253.4 433.9,253.8 435.3,254.0 436.7,254.3 438.0,254.7 439.6,254.4 441.1,254.0 442.6,254.4 444.2,253.4 445.6,253.5 447.1,252.6 448.6,251.7 450.1,251.4 451.6,250.7 453.1,249.3 454.6,248.4 456.2,248.1 457.5,247.7 458.7,246.8 460.0,246.3 461.3,245.2 462.6,244.6 463.8,243.4 465.1,242.8 466.4,241.9 467.7,241.1 469.0,240.3 470.4,239.9 471.7,238.5 473.1,237.8 474.5,237.1 475.9,237.1 477.3,236.1 478.8,235.1 480.2,235.4 481.6,235.0 483.0,234.5 484.5,233.7 486.0,233.8 487.6,233.0 489.1,232.6 490.7,233.0 492.3,232.8 493.9,231.9 495.4,232.3 497.0,231.3 498.6,231.4 500.2,230.9 501.7,230.8 503.3,230.6 504.8,231.0 506.2,230.4 507.7,230.0 509.1,229.8 510.4,229.7 512.1,230.0 513.7,229.4 515.3,228.5 516.8,228.8 518.4,228.3 519.9,227.9 521.4,227.7 522.8,227.5 524.3,227.4 525.7,226.9 527.2,226.8 528.6,226.4 530.0,226.4 531.6,226.1 533.2,226.1 534.8,226.2 536.4,226.5 537.9,226.1 539.5,226.8 541.0,226.5 542.5,226.8 543.9,226.6 545.4,226.8 547.0,226.3 548.6,225.8 550.1,225.6 551.6,225.5 553.1,225.3 554.6,224.9 556.1,223.6 557.7,222.9 558.9,222.3 560.1,221.6 561.3,220.8 562.5,219.9 563.7,219.2 564.9,218.1 566.2,217.7 567.4,216.6 568.7,215.9 569.9,214.8 571.2,213.6 572.4,212.7 573.7,210.8 575.0,210.0 576.2,209.8 577.5,208.5 578.8,207.3 580.2,206.9 581.5,205.7 582.9,204.9 584.2,203.8 585.5,202.9 586.9,201.8 588.2,201.5 589.5,201.0 590.9,200.2 592.2,199.1 593.4,198.4 594.7,197.0 596.0,195.9 597.4,195.6 598.7,194.2 600.0,193.3 601.4,191.6 602.7,190.8 604.0,190.0 605.2,189.4 606.5,188.6 607.7,187.8 608.9,186.7 610.1,186.2 611.8,186.0 613.4,185.5 615.0,184.6 616.6,184.0 618.1,184.5 619.4,184.7 620.5,185.2 621.5,186.1 622.5,187.7 623.3,189.1 624.1,190.7 624.9,192.3 625.6,194.0 626.1,195.3 626.5,196.9 626.9,198.5 627.2,200.3 627.4,202.0 627.7,203.8 628.0,205.6 628.3,207.3 628.7,208.9 629.1,210.3 629.6,211.5 630.2,212.3 631.6,213.8 633.2,215.6 634.8,215.5 636.3,215.6 636.9,215.1 637.5,214.2 638.1,212.9 638.6,211.3 639.1,209.6 639.6,207.6 640.1,205.6 640.6,203.5 641.0,201.5 641.5,199.6 642.0,197.9 642.5,196.4 643.0,195.2 643.5,194.5 644.1,193.6 645.3,194.4 646.5,194.8 647.8,196.4 649.0,198.7 650.0,200.0 650.7,201.2 651.3,202.5 651.8,203.8 652.4,205.2 652.8,206.7 653.2,208.2 653.6,209.8 654.0,211.5 654.2,212.8 654.4,214.2 654.6,215.6 654.7,217.0 654.9,218.5 654.9,220.1 655.0,221.6 655.1,223.2 655.2,224.8 655.3,226.4 655.4,228.0 655.5,229.5 655.6,231.1 655.8,232.6 656.0,234.1 656.2,235.7 656.4,237.3 656.7,238.9 656.9,240.5 657.1,242.1 657.4,243.7 657.7,245.3 658.0,246.8 658.2,248.3 658.5,249.8 658.8,251.1 659.2,252.4 659.5,253.6 660.0,255.2 660.6,256.7 661.2,258.1 661.8,259.4 662.4,260.7 663.0,262.0 663.6,263.6 664.3,265.1 664.9,266.6 665.4,268.2 666.0,270.0 666.4,271.3 666.7,272.6 667.0,274.1 667.3,275.5 667.6,277.0 667.9,278.6 668.2,280.2 668.5,281.8 668.8,283.4 669.0,285.0 669.2,286.4 669.3,287.8 669.4,289.3 669.5,290.9 669.6,292.4 669.7,294.0 669.8,295.6 669.9,297.1 670.0,298.7 670.1,300.2 670.2,301.7 670.4,303.2 670.7,304.6 671.0,306.0 671.4,307.7 671.9,309.6 672.5,311.5 673.1,313.4 673.7,315.2 674.3,316.9 675.0,318.4 675.7,319.9 676.3,320.2 677.0,320.6 677.7,320.6 678.4,319.9 679.2,318.4 680.0,317.0 680.7,315.3 681.5,313.5 682.2,311.5 682.9,309.6 683.5,307.7 684.0,306.0 684.4,304.6 684.7,303.2 684.9,301.8 685.1,300.3 685.3,298.8 685.4,297.3 685.5,295.8 685.6,294.2 685.7,292.7 685.8,291.1 685.9,289.6 686.0,288.0 686.2,286.5 686.3,285.0 686.5,283.5 686.6,282.0 686.7,280.5 686.9,279.0 687.0,277.5 687.1,276.0 687.2,274.5 687.4,273.0 687.5,271.5 687.7,270.0 687.8,268.5 688.0,267.0 688.2,265.5 688.4,264.0 688.6,262.5 688.8,260.9 689.0,259.3 689.3,257.7 689.5,256.1 689.7,254.5 690.0,252.9 690.3,251.3 690.5,249.8 690.9,248.3 691.2,246.9 691.6,245.5 692.0,244.2 692.5,243.0 693.3,241.3 694.2,239.4 695.1,237.7 696.1,236.0 697.1,234.9 698.0,234.1 698.9,233.8 699.8,234.7 700.6,235.4 701.4,237.0 702.2,239.0 702.9,241.0 703.5,243.0 703.8,244.2 704.1,245.5 704.4,246.9 704.6,248.3 704.8,249.8 705.0,251.3 705.2,252.8 705.4,254.4 705.5,256.0 705.7,257.6 705.9,259.2 706.1,260.8 706.3,262.4 706.5,264.0 706.7,265.6 707.0,267.4 707.3,269.3 707.5,271.3 707.8,273.3 708.1,275.4 708.4,277.5 708.6,279.5 708.9,281.4 709.2,283.2 709.5,284.8 709.8,286.2 710.1,287.4 710.4,288.2 710.7,289.2 711.0,289.4 711.3,288.8 711.6,288.3 711.9,287.4 712.3,286.2 712.6,284.8 712.9,283.2 713.3,281.4 713.6,279.5 713.9,277.5 714.3,275.4 714.6,273.3 714.9,271.3 715.2,269.3 715.5,267.4 715.8,265.6 716.0,264.0 716.2,262.5 716.5,260.9 716.7,259.5 716.9,258.0 717.1,256.6 717.3,255.1 717.4,253.7 717.6,252.2 717.8,250.7 717.9,249.3 718.1,247.8 718.2,246.2 718.4,244.6 718.5,243.0 718.6,241.6 718.7,240.2 718.8,238.8 718.8,237.3 718.9,235.8 719.0,234.3 719.0,232.7 719.1,231.2 719.1,229.6 719.1,228.0 719.2,226.5 719.2,224.9 719.3,223.3 719.3,221.8 719.4,220.2 719.5,218.7 719.5,217.2 719.6,215.7 719.7,214.3 719.9,212.9 720.0,211.5 720.2,209.9 720.4,208.2 720.5,206.6 720.7,205.0 720.9,203.5 721.1,201.9 721.4,200.4 721.6,198.9 721.9,197.4 722.2,196.0 722.5,194.6 722.8,193.2 723.2,191.8 723.6,190.5 724.1,189.0 724.7,187.5 725.2,186.1 725.8,184.8 726.4,183.5 727.1,182.2 727.8,180.9 728.6,179.6 729.5,178.1 730.4,176.7 731.3,175.8 732.2,175.1 733.1,173.8 734.1,172.2 735.2,170.6 736.3,169.4 737.4,168.3 738.6,167.6 739.8,166.6 741.0,164.7 742.2,164.0 743.4,163.7 744.6,162.0 745.8,161.2 747.2,160.6 748.7,160.6 750.2,159.4 751.7,159.5 753.3,158.5 754.8,158.7 756.4,157.9 758.0,158.1 759.6,158.0 761.2,157.9 762.7,157.2 764.1,157.6 765.6,156.8 767.1,157.3 768.6,157.1 770.1,157.1 771.7,156.1 773.2,156.2 774.9,156.6 776.5,156.7 778.2,155.9 780.0,156.3 781.3,155.9 782.7,155.3 784.1,155.2 785.6,155.0 787.0,155.1 788.5,155.7 790.0,155.3 791.6,155.3 793.1,155.2 794.7,154.6 796.3,154.7 797.9,154.5 799.5,154.4 801.1,153.6 802.7,154.3 804.4,153.3 806.0,153.5 807.6,153.5 809.2,153.4 810.8,153.2 812.4,152.5 814.0,152.3 815.5,152.5 816.9,151.6 818.4,152.2 819.9,151.4 821.4,151.2 822.8,150.8 824.3,150.9 825.8,150.1 827.3,149.8 828.8,149.4 830.3,149.1 831.9,149.3 833.4,149.4 834.9,148.1 836.4,148.3 837.8,147.9 839.3,147.5 840.8,147.3 842.3,146.8 843.8,146.9 845.2,146.5 846.7,146.1 848.1,146.0 849.6,146.6 851.0,146.2 852.6,146.3 854.2,146.1 855.8,145.9 857.4,145.3 859.0,145.1 860.6,145.9 862.1,145.6 863.7,145.6 865.2,145.1 866.8,145.7 868.3,145.5 869.9,145.0 871.4,145.2 872.9,145.9 874.5,145.6 876.0,145.1 877.5,145.0 879.0,145.7 880.5,145.3 882.0,145.4 883.5,145.0 885.1,145.0 886.5,145.2 888.0,145.1 889.5,144.8 890.9,144.7 892.4,144.9 893.8,144.5 895.3,144.3 896.7,144.7 898.2,144.2 899.7,144.8 901.1,144.8 902.7,144.7 904.2,144.9 905.8,144.1 907.4,144.3 909.0,144.3 910.4,144.0 911.8,144.8 913.2,144.1 914.7,145.1 916.2,144.8 917.7,145.3 919.2,144.4 920.8,145.4 922.4,145.6 923.9,145.5 925.5,145.5 927.1,145.7 928.7,145.6 930.3,146.1 931.9,146.0 933.5,146.1 935.1,146.0 936.7,146.4 938.2,146.4 939.8,146.9 941.3,146.8 942.8,146.4 944.3,146.8 945.8,146.3 947.2,146.6 948.6,146.6 950.0,146.7 951.6,146.0 953.3,145.9 954.9,145.8 956.4,146.1 958.0,145.4 959.5,145.6 961.0,145.7 962.5,145.0 964.0,144.5 965.5,144.6 966.9,144.1 968.4,143.9 969.8,143.3 971.3,143.6 972.7,143.0 974.1,143.4 975.6,142.6 977.0,142.9 978.6,143.3 980.2,143.2 981.7,140.4 983.3,142.6 984.9,140.2 986.4,142.1 988.0,141.5 989.5,139.9 991.0,140.8 992.5,140.2 994.0,139.7 995.5,139.9 997.0,139.2 998.5,139.5 1000.0,139.3 1001.6,137.2 1003.2,138.6 1004.7,138.4 1006.2,138.5 1007.8,137.3 1009.3,137.0 1010.8,135.7 1012.3,135.5 1013.8,137.0 1015.4,134.6 1016.9,136.5 1018.4,134.2 1020.0,134.7 1021.5,135.1 1023.0,133.4 1024.6,134.3 1026.2,135.0 1027.8,133.7 1029.5,133.0 1031.1,132.6 1032.6,134.8 1034.2,132.5 1035.7,134.0 1037.1,133.9 1038.5,133.1 1039.8,133.9 1041.0,134.5 1042.7,133.8 1044.2,134.8 1045.5,137.5 1046.9,136.6 1048.3,138.2 1050.0,138.7 1051.3,139.7 1052.6,140.0 1054.0,139.8 1055.5,139.4 1057.0,139.1 1058.5,137.7 1060.1,138.8 1061.7,138.2 1063.3,138.9 1064.9,137.7 1066.4,136.9 1068.0,137.5 1069.5,138.6 1071.0,137.7 1072.5,138.2 1074.0,136.6 1075.5,137.1 1077.0,137.2 1078.5,137.8 1080.1,136.9 1081.6,139.0 1083.2,137.4 1084.8,136.4 1086.4,136.9 1088.0,137.4 1089.4,137.5 1090.9,137.7 1092.3,135.5 1093.8,137.4 1095.3,136.7 1096.9,135.4 1098.4,135.2 1099.9,133.9 1101.5,133.0 1103.0,132.1 1104.6,134.1 1106.1,133.5 1107.6,131.9 1109.2,132.0 1110.7,131.3 1112.1,131.6 1113.6,129.8 1115.0,131.4 1116.7,129.8 1118.3,130.9 1120.0,131.1 1121.6,131.8 1123.3,131.4 1124.9,130.5 1126.5,132.4 1128.1,131.5 1129.6,132.2 1131.1,133.0 1132.6,133.6 1134.1,131.4 1135.5,132.3 1137.1,131.7 1138.7,132.8 1140.1,131.2 1141.6,132.0 1143.0,131.3 1144.4,129.9 1145.9,130.5 1147.4,130.1 1149.0,128.6 1150.3,129.2 1151.6,129.1 1152.9,131.4 1154.3,130.8 1155.6,131.2 1157.0,132.9 1158.4,134.3 1159.8,132.8 1161.3,134.9 1162.7,134.4 1164.2,136.5 1165.8,136.9 1167.4,137.5 1169.0,137.3 1170.4,136.3 1171.8,138.4 1173.2,136.5 1174.7,137.8 1176.2,138.8 1177.8,137.0 1179.4,137.5 1181.0,138.0 1182.6,137.8 1184.3,136.9 1185.9,137.0 1187.6,138.2 1189.2,137.6 1190.9,136.0 1192.5,137.2 1194.1,137.6 1195.7,136.8 1197.2,137.5 1198.7,135.8 1200.2,135.8 1201.6,137.3 1203.0,135.8 1204.8,135.5 1206.5,135.6 1208.2,137.6 1209.9,137.5 1211.5,135.9 1213.1,137.5 1214.7,136.2 1216.3,137.4 1217.8,136.0 1219.3,137.6 1220.8,138.3 1222.2,137.9 1223.6,138.5 1225.3,137.6 1226.9,138.9 1228.6,140.2 1230.2,139.6 1231.7,141.1 1233.2,141.3 1234.5,142.5 1235.8,142.7 1237.0,143.0 1238.3,144.5 1239.4,145.6 1240.4,146.4 1241.3,147.7 1242.2,149.1 1243.0,150.8 1243.5,151.9 1243.9,153.0 1244.3,154.3 1244.6,155.6 1245.0,157.0 1245.3,158.4 1245.6,159.9 1245.9,161.5 1246.2,163.0 1246.4,164.7 1246.7,166.3 1246.9,168.0 1247.2,169.6 1247.4,171.3 1247.6,172.9 1247.9,174.6 1248.1,176.2 1248.3,177.6 1248.5,179.1 1248.7,180.6 1248.9,182.1 1249.0,183.7 1249.2,185.2 1249.3,186.8 1249.5,188.4 1249.6,190.0 1249.7,191.5 1249.9,193.1 1250.0,194.7 1250.1,196.3 1250.3,197.9 1250.4,199.5 1250.5,201.1 1250.7,202.6 1250.8,204.2 1251.0,205.7 1251.1,207.2 1251.3,208.7 1251.5,210.1 1251.7,211.8 1251.9,213.6 1252.2,215.5 1252.4,217.4 1252.6,219.4 1252.9,221.4 1253.1,223.4 1253.4,225.3 1253.6,227.1 1253.9,228.8 1254.1,230.4 1254.4,231.9 1254.6,233.1 1254.9,234.1 1255.2,234.9 1255.4,235.5 1255.7,235.2 1255.9,235.1 1256.2,234.9 1256.4,234.2 1256.7,233.2 1257.0,232.0 1257.2,230.7 1257.5,229.1 1257.8,227.4 1258.0,225.6 1258.3,223.7 1258.6,221.7 1258.9,219.6 1259.1,217.6 1259.4,215.5 1259.7,213.4 1260.0,211.4 1260.3,209.5 1260.5,207.6 1260.8,205.9 1261.1,204.3 1261.3,202.8 1261.6,201.6 1262.0,199.8 1262.2,198.0 1262.5,196.3 1262.7,194.8 1263.1,193.3 1263.5,192.0 1264.1,191.2 1265.0,190.1 1266.1,189.5 1267.4,188.9 1268.9,188.5 1270.6,188.4 1272.3,187.5 1274.0,188.3 1275.7,187.1 1277.2,187.0 1278.6,186.5 1279.7,185.5 1280.7,184.1 1281.6,182.8 1282.5,181.2 1283.4,179.5 1284.2,177.9 1285.0,176.4 1285.9,175.2 1286.7,173.9 1287.7,172.7 1288.7,172.8 1289.7,173.4 1290.8,173.6 1291.9,174.7 1293.1,175.6 1294.2,177.6 1295.4,178.6 1296.6,180.4 1297.8,181.6 1299.0,183.1 1300.1,183.7 1301.2,184.9 1302.3,185.2 1303.6,184.9 1304.9,184.3 1306.2,182.9 1307.4,181.7 1308.6,180.9 1309.9,179.4 1311.2,177.7 1312.5,176.3 1313.4,174.7 1314.3,174.1 1315.2,172.2 1316.2,171.2 1317.2,169.6 1318.1,168.0 1319.1,166.3 1320.1,164.6 1321.1,163.0 1322.1,161.4 1323.1,159.5 1324.1,158.9 1325.0,156.7 1326.0,156.0 1326.9,155.5 1327.7,154.7 1328.6,154.4 1329.4,154.6 1330.2,154.0 1330.9,155.0 1331.6,155.5 1332.3,156.7 1332.9,157.9 1333.6,159.3 1334.2,160.8 1334.8,162.4 1335.4,164.1 1336.0,165.9 1336.5,167.8 1337.1,169.7 1337.7,171.5 1338.3,173.4 1338.9,175.2 1339.5,176.9 1340.1,178.5 1340.7,180.0 1341.3,181.3 1342.1,182.9 1342.8,184.5 1343.6,186.3 1344.4,188.0 1345.2,189.8 1346.0,191.5 1346.7,193.1 1347.5,194.5 1348.3,196.1 1349.1,197.3 1349.9,197.5 1350.6,198.3 1351.4,198.4 1352.0,197.9 1352.6,197.4 1353.2,196.5 1353.8,195.9 1354.4,194.7 1355.0,193.4 1355.5,191.9 1356.1,190.2 1356.7,188.5 1357.2,186.6 1357.8,184.8 1358.4,182.9 1359.0,181.0 1359.7,179.1 1360.3,177.3 1361.0,175.6 1361.8,174.0 1362.5,172.5 1363.3,171.2 1364.2,170.1 1365.2,168.3 1366.2,166.6 1367.2,166.0 1368.3,163.9 1369.4,163.3 1370.5,161.4 1371.6,160.5 1372.7,158.9 1373.9,158.2 1375.0,157.0 1376.1,155.4 1377.2,154.5 1378.2,153.9 1379.2,153.9 1380.2,153.0 1382.0,152.7 1383.9,153.1 1385.6,153.2 1387.3,154.4 1388.7,156.0 1389.2,156.6 1389.6,157.6 1390.0,158.8 1390.3,160.2 1390.6,161.7 1390.8,163.4 1391.0,165.1 1391.2,167.0 1391.3,169.0 1391.4,171.0 1391.5,173.0 1391.6,175.1 1391.6,177.1 1391.7,179.2 1391.7,181.1 1391.8,183.0 1391.9,184.8 1392.0,186.5 1392.2,188.0 1392.3,189.4 1392.5,190.6 1392.8,191.6 1393.1,192.4 1393.4,192.5 1393.8,193.6 1394.7,192.7 1395.6,192.3 1396.6,191.1 1397.7,189.3 1398.8,187.8 1400.0,186.0 1401.1,184.7 1402.2,182.8 1403.2,181.5 1404.3,180.9 1405.3,178.7 1406.4,177.2 1407.4,176.8 1408.5,175.8 1409.6,174.5 1410.7,174.5 1411.8,175.2 1412.9,175.6 1414.1,177.1 1415.3,178.4 1416.5,180.2 1417.6,182.3 1418.8,183.5 1419.9,184.8 1420.9,184.6 1421.8,184.1 1422.7,183.3 1423.5,182.0 1424.2,180.4 1425.0,178.6 1425.8,176.8 1426.6,175.0 1427.4,173.4 1428.4,172.3 1429.4,171.0 1430.7,170.8 1432.1,170.1 1433.6,170.1 1435.1,171.0 1436.7,171.0 1438.4,170.9 1440.0,170.6 1441.2,169.9 1442.6,169.8 1443.9,168.7 1445.3,168.2 1446.8,167.2 1448.2,165.9 1449.6,165.4 1451.1,164.1 1452.5,163.5 1453.8,163.1 1455.1,162.7 1456.3,162.0 1457.5,161.5 1459.1,161.8 1460.5,163.2 1461.8,163.7 1463.2,164.6 1464.6,166.2 1466.3,166.9 1467.5,167.8 1468.9,167.8 1470.4,168.7 1471.9,169.7 1473.6,169.5 1475.2,170.3 1476.9,170.9 1478.5,171.1 1480.1,171.5 1481.6,171.9 1483.0,172.4 1484.3,172.0 1485.5,172.4 1487.2,171.5 1488.6,170.4 1489.8,169.7 1491.1,168.6 1492.5,167.8 1493.9,168.0 1495.3,169.2 1496.7,170.6 1498.2,172.0 1499.7,172.9 1501.3,172.6 1502.6,172.6 1503.9,172.9 1505.3,171.6 1506.7,170.6 1508.2,169.1 1509.6,168.7 1511.1,167.7 1512.5,166.2 1513.9,165.5 1515.3,164.9 1516.8,164.9 1518.4,165.1 1519.9,165.2 1521.3,165.0 1522.8,165.5 1524.3,166.1 1525.8,167.3 1527.0,168.2 1528.2,169.0 1529.5,169.8 1530.7,171.0 1531.9,172.9 1533.2,174.1 1534.4,175.2 1535.6,176.3 1536.7,177.3 1537.8,177.4 1538.9,177.3 1540.0,177.4 1541.0,176.9 1542.1,175.2 1543.1,174.1 1544.0,172.8 1545.0,171.3 1545.9,169.7 1546.8,168.1 1547.6,166.6 1548.5,165.3 1549.3,163.9 1550.0,162.4 1550.7,160.8 1551.3,159.2 1551.9,157.6 1552.6,156.2 1553.4,155.3 1554.3,154.3 1555.5,152.8 1556.7,152.1 1558.1,152.1 1559.7,152.6 1561.4,152.8 1563.1,153.6 1564.9,153.7 1566.7,154.1 1568.5,154.4 1570.3,155.6 1571.9,155.5 1573.4,155.4 1574.8,154.5 1576.0,154.0 1577.1,153.3 1578.1,152.0 1579.0,150.4 1579.8,148.9 1580.7,147.4 1581.5,145.9 1582.3,144.6 1583.2,143.5 1584.2,142.3 1585.3,141.7 1586.7,141.6 1588.2,141.0 1589.8,141.7 1591.4,142.0 1593.0,142.4 1594.6,142.1 1596.1,142.8 1597.5,142.4 1599.1,141.6 1600.6,141.7 1602.1,140.2 1603.5,139.4 1604.9,138.2 1606.3,136.9 1607.5,136.0 1608.7,135.0 1609.8,133.7 1611.0,132.4 1612.2,130.6 1613.5,129.8 1615.0,129.7 1616.2,129.3 1617.5,129.6 1618.9,129.6 1620.3,130.0 1621.8,130.1 1623.3,131.6 1624.8,132.3 1626.4,132.7 1628.0,132.7 1629.5,133.6 1631.0,133.9 1632.5,133.6 1633.9,133.6 1635.3,133.8 1636.7,132.8 1638.1,132.7 1639.5,131.6 1640.8,131.0 1642.3,130.4 1643.7,130.1 1645.2,130.2 1646.7,129.3 1648.3,128.8 1650.0,128.1 1651.3,128.4 1652.6,127.8 1654.0,127.6 1655.5,127.8 1657.0,127.6 1658.5,128.1 1660.1,127.8 1661.7,127.9 1663.3,127.5 1665.0,127.6 1666.6,127.4 1668.3,127.6 1669.9,128.3 1671.6,128.1 1673.2,127.8 1674.8,128.1 1676.4,128.5 1678.0,128.5 1679.5,128.2 1680.9,127.9 1682.3,127.9 1683.7,128.0 1685.0,128.8 1686.8,128.9 1688.6,129.0 1690.2,129.2 1691.8,128.8 1693.4,129.5 1694.9,129.2 1696.5,129.4 1698.0,130.1 1699.5,129.7 1701.0,130.2 1702.6,130.2 1704.2,130.6 1705.8,130.0 1707.3,129.6 1708.9,129.8 1710.5,129.0 1712.0,129.6 1713.6,129.3 1715.2,129.1 1716.8,128.6 1718.4,128.1 1720.0,128.2 1721.5,128.9 1723.0,128.8 1724.5,129.4 1726.1,129.3 1727.6,130.1 1729.2,130.8 1730.7,130.7 1732.3,131.8 1733.8,131.6 1735.4,132.6 1736.9,132.5 1738.5,133.1 1740.0,133.8" fill="none" stroke="#FF8500" stroke-width="12.3" stroke-linejoin="round" stroke-linecap="butt"/>
<line x1="634.3" y1="105" x2="634.3" y2="1121" stroke="#000" stroke-opacity="0.75" stroke-width="5" stroke-linecap="round" stroke-dasharray="15.6 24.4"/>
<text x="147.6" y="1275" font-family="'Liberation Serif', 'Times New Roman', serif" font-size="75" text-anchor="middle" textLength="138" lengthAdjust="spacingAndGlyphs" stroke="#000" stroke-width="1.2">4000</text>
<text x="393.0" y="1275" font-family="'Liberation Serif', 'Times New Roman', serif" font-size="75" text-anchor="middle" textLength="138" lengthAdjust="spacingAndGlyphs" stroke="#000" stroke-width="1.2">3500</text>
<text x="638.4" y="1275" font-family="'Liberation Serif', 'Times New Roman', serif" font-size="75" text-anchor="middle" textLength="138" lengthAdjust="spacingAndGlyphs" stroke="#000" stroke-width="1.2">3000</text>
<text x="883.8" y="1275" font-family="'Liberation Serif', 'Times New Roman', serif" font-size="75" text-anchor="middle" textLength="138" lengthAdjust="spacingAndGlyphs" stroke="#000" stroke-width="1.2">2500</text>
<text x="1129.2" y="1275" font-family="'Liberation Serif', 'Times New Roman', serif" font-size="75" text-anchor="middle" textLength="138" lengthAdjust="spacingAndGlyphs" stroke="#000" stroke-width="1.2">2000</text>
<text x="1374.6" y="1275" font-family="'Liberation Serif', 'Times New Roman', serif" font-size="75" text-anchor="middle" textLength="138" lengthAdjust="spacingAndGlyphs" stroke="#000" stroke-width="1.2">1500</text>
<text x="1620.0" y="1275" font-family="'Liberation Serif', 'Times New Roman', serif" font-size="75" text-anchor="middle" textLength="138" lengthAdjust="spacingAndGlyphs" stroke="#000" stroke-width="1.2">1000</text>
<text transform="scale(1.0231,1)" font-family="'Liberation Serif', 'Times New Roman', serif" font-size="85" fill="#000" stroke="#000" stroke-width="2.8" stroke-linejoin="round"><tspan x="555.26 635.17 676.75 721.47 763.60 811.60 861.71 934.45 980.82 1022.23 1050.54" y="1373.4">Wavenumber </tspan><tspan x="1074.07" y="1364.4" font-size="91.5">(</tspan><tspan x="1102.67 1142.07" y="1373.4">cm</tspan><tspan x="1209.80 1226.86" y="1350.3" font-size="58">-1</tspan><tspan x="1256.15" y="1364.4" font-size="91.5">)</tspan></text>
<text transform="translate(100.1,1000) rotate(-90) scale(0.9957,1)" font-family="'Liberation Serif', 'Times New Roman', serif" font-size="85" fill="#000" stroke="#000" stroke-width="2.8" stroke-linejoin="round"><tspan x="14.05 69.08 101.19 144.43 192.81 232.21 303.92 332.71 360.48 385.72 428.61 475.31 514.85 552.58" y="0">Transmittance </tspan><tspan x="579.16" y="-9.2" font-size="71.3">(</tspan><tspan x="602.96 643.09 669.04 715.15" y="0">a.u.</tspan><tspan x="736.32" y="-9.2" font-size="71.3">)</tspan></text>
<text x="876.1" y="205.5" font-family="'Liberation Serif', 'Times New Roman', serif" font-weight="bold" font-size="64.5" fill="#FF8500" textLength="158.2" lengthAdjust="spacingAndGlyphs">SCOS</text>
<text x="873.9" y="388" font-family="'Liberation Serif', 'Times New Roman', serif" font-weight="bold" font-size="64.5" fill="#8200E8" textLength="164.9" lengthAdjust="spacingAndGlyphs">SCOF</text>
<text x="893.5" y="556" font-family="'Liberation Serif', 'Times New Roman', serif" font-weight="bold" font-size="64.5" fill="#FF40B0" textLength="125.0" lengthAdjust="spacingAndGlyphs">SCO</text>
<text x="895.3" y="714.5" font-family="'Liberation Serif', 'Times New Roman', serif" font-weight="bold" font-size="64.5" fill="#008600" textLength="126.6" lengthAdjust="spacingAndGlyphs">COS</text>
<text x="897.5" y="876.5" font-family="'Liberation Serif', 'Times New Roman', serif" font-weight="bold" font-size="64.5" fill="#0000FF" textLength="131.0" lengthAdjust="spacingAndGlyphs">COF</text>
<text x="916.8" y="1034.5" font-family="'Liberation Serif', 'Times New Roman', serif" font-weight="bold" font-size="64.5" fill="#FF0000" textLength="91.5" lengthAdjust="spacingAndGlyphs">CO</text>
<text x="522" y="1095" font-family="'Liberation Serif', 'Times New Roman', serif" font-size="53" textLength="97.7" lengthAdjust="spacingAndGlyphs" stroke="#000" stroke-width="1.5">3009</text>
</svg>
</body></html>
